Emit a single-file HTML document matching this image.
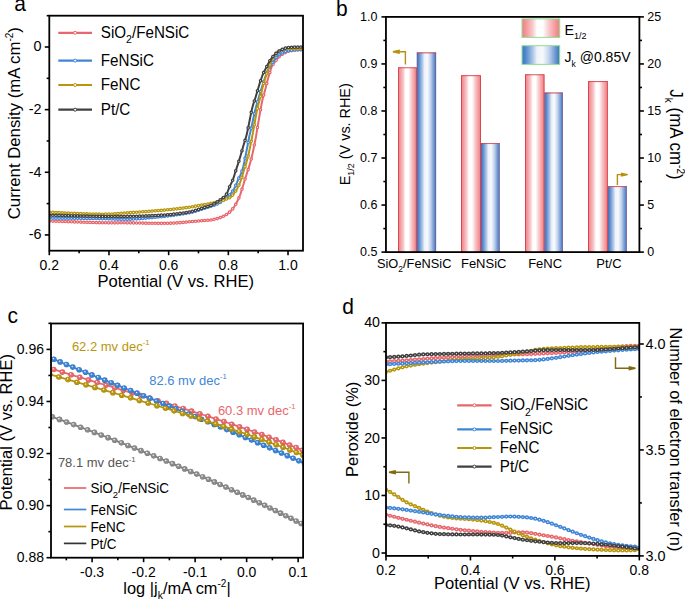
<!DOCTYPE html>
<html><head><meta charset="utf-8"><style>
html,body{margin:0;padding:0;background:#fff;}
svg{display:block;font-family:"Liberation Sans", sans-serif;}
</style></head><body>
<svg width="685" height="600" viewBox="0 0 685 600">
<rect width="685" height="600" fill="#fff"/>
<clipPath id="ca"><rect x="49.3" y="15.7" width="253.7" height="235.0"/></clipPath>
<g clip-path="url(#ca)">
<polyline points="49.75,221.00 52.32,221.09 54.93,221.18 57.59,221.27 60.28,221.37 63.00,221.46 65.73,221.56 68.46,221.66 71.19,221.76 73.92,221.85 76.62,221.95 79.29,222.04 81.92,222.14 84.50,222.22 87.03,222.31 89.49,222.39 91.88,222.46 94.18,222.53 96.39,222.59 98.50,222.65 100.50,222.70 102.38,222.74 104.15,222.77 105.81,222.80 107.38,222.82 108.86,222.83 110.27,222.83 111.61,222.84 112.90,222.84 114.13,222.83 115.33,222.82 116.51,222.82 117.66,222.81 118.81,222.80 119.96,222.79 121.11,222.78 122.29,222.78 123.50,222.78 124.75,222.78 126.04,222.79 127.40,222.80 128.80,222.82 130.23,222.84 131.69,222.86 133.16,222.89 134.66,222.92 136.16,222.95 137.67,222.98 139.18,223.01 140.69,223.04 142.19,223.08 143.69,223.11 145.17,223.14 146.63,223.17 148.07,223.20 149.49,223.22 150.87,223.24 152.21,223.26 153.52,223.28 154.78,223.29 156.00,223.30 157.17,223.30 158.31,223.31 159.41,223.31 160.48,223.31 161.52,223.30 162.53,223.30 163.52,223.29 164.48,223.29 165.43,223.28 166.35,223.26 167.26,223.25 168.15,223.23 169.03,223.21 169.90,223.19 170.76,223.16 171.61,223.14 172.46,223.11 173.31,223.07 174.15,223.04 175.00,223.00 175.84,222.96 176.66,222.91 177.46,222.86 178.24,222.80 179.01,222.75 179.77,222.68 180.51,222.62 181.25,222.55 181.98,222.48 182.70,222.41 183.42,222.34 184.13,222.27 184.85,222.19 185.57,222.12 186.29,222.05 187.01,221.98 187.74,221.90 188.49,221.83 189.24,221.77 190.00,221.70 190.78,221.63 191.59,221.57 192.41,221.50 193.25,221.43 194.11,221.36 194.97,221.29 195.83,221.22 196.70,221.15 197.56,221.08 198.42,221.01 199.26,220.94 200.10,220.88 200.91,220.81 201.70,220.75 202.47,220.68 203.21,220.62 203.92,220.56 204.58,220.51 205.21,220.45 205.80,220.40 206.34,220.35 206.82,220.32 207.27,220.28 207.67,220.26 208.04,220.23 208.38,220.22 208.70,220.20 208.99,220.18 209.26,220.17 209.53,220.15 209.78,220.13 210.04,220.11 210.29,220.08 210.55,220.05 210.82,220.02 211.11,219.97 211.42,219.92 211.75,219.86 212.11,219.78 212.50,219.70 212.92,219.61 213.36,219.51 213.82,219.40 214.29,219.29 214.78,219.17 215.27,219.05 215.78,218.92 216.29,218.79 216.81,218.65 217.32,218.51 217.85,218.36 218.37,218.20 218.88,218.04 219.39,217.88 219.90,217.71 220.40,217.54 220.88,217.36 221.35,217.18 221.81,216.99 222.25,216.80 222.68,216.60 223.10,216.40 223.52,216.20 223.93,215.99 224.34,215.77 224.74,215.55 225.13,215.33 225.52,215.10 225.90,214.86 226.28,214.63 226.65,214.38 227.02,214.13 227.38,213.88 227.74,213.62 228.09,213.36 228.43,213.10 228.77,212.83 229.10,212.56 229.43,212.28 229.75,212.00 230.06,211.72 230.37,211.43 230.67,211.14 230.96,210.85 231.24,210.55 231.51,210.25 231.78,209.95 232.05,209.64 232.31,209.33 232.56,209.01 232.81,208.69 233.06,208.36 233.31,208.03 233.55,207.69 233.79,207.34 234.03,206.99 234.27,206.63 234.52,206.26 234.76,205.88 235.00,205.50 235.24,205.11 235.49,204.70 235.73,204.29 235.97,203.86 236.21,203.43 236.45,202.98 236.69,202.53 236.93,202.08 237.16,201.62 237.39,201.16 237.62,200.69 237.84,200.22 238.07,199.75 238.28,199.28 238.50,198.81 238.71,198.34 238.91,197.87 239.11,197.41 239.31,196.95 239.50,196.50 239.68,196.05 239.86,195.59 240.04,195.14 240.21,194.68 240.37,194.21 240.53,193.75 240.69,193.29 240.84,192.83 240.99,192.37 241.14,191.91 241.28,191.45 241.43,190.99 241.57,190.54 241.70,190.09 241.84,189.64 241.97,189.20 242.10,188.77 242.24,188.34 242.37,187.92 242.50,187.50 242.62,187.11 242.74,186.74 242.84,186.41 242.94,186.10 243.02,185.81 243.11,185.52 243.19,185.25 243.27,184.98 243.35,184.70 243.43,184.42 243.51,184.12 243.61,183.81 243.70,183.47 243.81,183.10 243.93,182.70 244.06,182.26 244.21,181.77 244.37,181.24 244.55,180.65 244.75,180.00 244.97,179.29 245.21,178.53 245.48,177.71 245.76,176.85 246.05,175.94 246.36,175.00 246.68,174.02 247.01,173.02 247.35,171.99 247.69,170.94 248.03,169.87 248.38,168.79 248.72,167.71 249.06,166.62 249.39,165.54 249.72,164.46 250.04,163.39 250.34,162.34 250.63,161.31 250.90,160.30 251.16,159.29 251.42,158.27 251.68,157.23 251.93,156.17 252.18,155.11 252.42,154.04 252.66,152.96 252.90,151.89 253.13,150.82 253.36,149.76 253.58,148.70 253.80,147.66 254.01,146.64 254.21,145.63 254.41,144.65 254.60,143.70 254.79,142.77 254.97,141.88 255.14,141.02 255.30,140.20 255.45,139.43 255.59,138.72 255.71,138.06 255.83,137.45 255.93,136.87 256.03,136.33 256.11,135.81 256.20,135.30 256.27,134.82 256.35,134.33 256.42,133.85 256.50,133.36 256.58,132.85 256.66,132.33 256.74,131.77 256.84,131.19 256.94,130.57 257.05,129.90 257.17,129.18 257.30,128.40 257.45,127.56 257.60,126.65 257.77,125.69 257.94,124.68 258.12,123.63 258.31,122.54 258.50,121.43 258.70,120.30 258.89,119.16 259.09,118.01 259.29,116.86 259.49,115.72 259.69,114.60 259.88,113.50 260.07,112.43 260.25,111.40 260.43,110.42 260.59,109.48 260.75,108.61 260.90,107.80 261.04,107.05 261.17,106.34 261.30,105.67 261.42,105.03 261.53,104.42 261.64,103.85 261.75,103.30 261.85,102.78 261.95,102.28 262.05,101.80 262.15,101.34 262.24,100.89 262.33,100.45 262.42,100.02 262.52,99.60 262.61,99.18 262.70,98.77 262.80,98.35 262.90,97.93 263.00,97.50 263.10,97.08 263.20,96.68 263.30,96.30 263.40,95.94 263.50,95.59 263.59,95.25 263.69,94.93 263.78,94.61 263.88,94.29 263.98,93.98 264.07,93.67 264.17,93.36 264.27,93.04 264.37,92.72 264.47,92.38 264.57,92.04 264.67,91.68 264.78,91.31 264.89,90.91 265.00,90.50 265.11,90.07 265.23,89.61 265.35,89.15 265.47,88.67 265.59,88.18 265.71,87.67 265.84,87.16 265.96,86.64 266.09,86.12 266.22,85.59 266.35,85.06 266.48,84.54 266.61,84.01 266.73,83.48 266.86,82.96 266.99,82.45 267.12,81.95 267.25,81.45 267.37,80.97 267.50,80.50 267.63,80.04 267.75,79.58 267.88,79.12 268.01,78.66 268.14,78.21 268.27,77.76 268.39,77.31 268.52,76.87 268.65,76.43 268.78,76.00 268.91,75.57 269.04,75.15 269.16,74.73 269.29,74.32 269.41,73.91 269.53,73.52 269.65,73.13 269.77,72.74 269.89,72.37 270.00,72.00 270.11,71.64 270.22,71.29 270.32,70.94 270.42,70.60 270.52,70.27 270.62,69.94 270.72,69.62 270.81,69.30 270.91,68.99 271.00,68.69 271.09,68.39 271.19,68.10 271.28,67.82 271.38,67.54 271.48,67.27 271.58,67.00 271.68,66.74 271.78,66.49 271.89,66.24 272.00,66.00 272.11,65.77 272.23,65.55 272.34,65.34 272.46,65.15 272.58,64.96 272.70,64.78 272.82,64.61 272.94,64.44 273.06,64.28 273.19,64.12 273.31,63.97 273.44,63.82 273.57,63.66 273.70,63.51 273.83,63.35 273.96,63.19 274.09,63.03 274.23,62.86 274.36,62.68 274.50,62.50 274.64,62.31 274.78,62.12 274.92,61.92 275.06,61.72 275.20,61.52 275.35,61.31 275.49,61.11 275.64,60.90 275.79,60.70 275.94,60.49 276.09,60.28 276.24,60.07 276.39,59.87 276.55,59.66 276.70,59.46 276.86,59.26 277.02,59.07 277.18,58.87 277.34,58.68 277.50,58.50 277.66,58.32 277.82,58.14 277.97,57.97 278.12,57.80 278.27,57.63 278.42,57.47 278.57,57.31 278.72,57.14 278.87,56.98 279.03,56.82 279.19,56.67 279.36,56.51 279.53,56.35 279.71,56.19 279.90,56.03 280.10,55.87 280.31,55.70 280.53,55.54 280.76,55.37 281.00,55.20 281.26,55.02 281.53,54.84 281.81,54.65 282.11,54.46 282.41,54.27 282.73,54.07 283.05,53.87 283.38,53.67 283.72,53.47 284.06,53.28 284.41,53.08 284.76,52.89 285.11,52.70 285.46,52.52 285.80,52.35 286.15,52.18 286.50,52.02 286.84,51.87 287.17,51.73 287.50,51.60 287.82,51.48 288.14,51.37 288.46,51.27 288.77,51.18 289.08,51.10 289.39,51.02 289.70,50.95 290.00,50.88 290.31,50.82 290.62,50.76 290.94,50.71 291.26,50.66 291.58,50.61 291.90,50.57 292.23,50.52 292.57,50.48 292.92,50.44 293.27,50.39 293.63,50.35 294.00,50.30 294.38,50.25 294.77,50.21 295.17,50.17 295.57,50.14 295.98,50.10 296.40,50.07 296.83,50.04 297.26,50.01 297.69,49.98 298.12,49.96 298.56,49.93 299.00,49.91 299.45,49.88 299.89,49.86 300.33,49.83 300.77,49.81 301.21,49.78 301.64,49.76 302.07,49.73 302.50,49.70" fill="none" stroke="#e8676c" stroke-width="2.0" stroke-linejoin="round" />
<g fill="#fff" stroke="#e8676c" stroke-width="1.25"><circle cx="49.75" cy="221.00" r="1.2"/><circle cx="52.85" cy="221.11" r="1.2"/><circle cx="55.95" cy="221.21" r="1.2"/><circle cx="59.05" cy="221.32" r="1.2"/><circle cx="62.15" cy="221.43" r="1.2"/><circle cx="65.25" cy="221.54" r="1.2"/><circle cx="68.35" cy="221.65" r="1.2"/><circle cx="71.45" cy="221.77" r="1.2"/><circle cx="74.55" cy="221.88" r="1.2"/><circle cx="77.65" cy="221.99" r="1.2"/><circle cx="80.75" cy="222.09" r="1.2"/><circle cx="83.85" cy="222.20" r="1.2"/><circle cx="86.95" cy="222.30" r="1.2"/><circle cx="90.05" cy="222.41" r="1.2"/><circle cx="93.15" cy="222.50" r="1.2"/><circle cx="96.25" cy="222.59" r="1.2"/><circle cx="99.35" cy="222.67" r="1.2"/><circle cx="102.45" cy="222.74" r="1.2"/><circle cx="105.55" cy="222.79" r="1.2"/><circle cx="108.65" cy="222.83" r="1.2"/><circle cx="111.75" cy="222.84" r="1.2"/><circle cx="114.85" cy="222.83" r="1.2"/><circle cx="117.95" cy="222.81" r="1.2"/><circle cx="121.05" cy="222.78" r="1.2"/><circle cx="124.15" cy="222.78" r="1.2"/><circle cx="127.25" cy="222.80" r="1.2"/><circle cx="130.35" cy="222.84" r="1.2"/><circle cx="133.45" cy="222.89" r="1.2"/><circle cx="136.55" cy="222.95" r="1.2"/><circle cx="139.65" cy="223.02" r="1.2"/><circle cx="142.75" cy="223.09" r="1.2"/><circle cx="145.85" cy="223.15" r="1.2"/><circle cx="148.95" cy="223.21" r="1.2"/><circle cx="152.05" cy="223.26" r="1.2"/><circle cx="155.15" cy="223.29" r="1.2"/><circle cx="158.25" cy="223.31" r="1.2"/><circle cx="161.35" cy="223.31" r="1.2"/><circle cx="164.45" cy="223.29" r="1.2"/><circle cx="167.55" cy="223.24" r="1.2"/><circle cx="170.65" cy="223.17" r="1.2"/><circle cx="173.75" cy="223.06" r="1.2"/><circle cx="176.85" cy="222.90" r="1.2"/><circle cx="179.95" cy="222.67" r="1.2"/><circle cx="183.05" cy="222.38" r="1.2"/><circle cx="186.15" cy="222.06" r="1.2"/><circle cx="189.25" cy="221.77" r="1.2"/><circle cx="192.35" cy="221.50" r="1.2"/><circle cx="195.45" cy="221.25" r="1.2"/><circle cx="198.55" cy="221.00" r="1.2"/><circle cx="201.65" cy="220.75" r="1.2"/><circle cx="204.75" cy="220.49" r="1.2"/><circle cx="207.85" cy="220.25" r="1.2"/><circle cx="210.95" cy="220.00" r="1.2"/><circle cx="214.05" cy="219.35" r="1.2"/><circle cx="217.15" cy="218.55" r="1.2"/><circle cx="220.25" cy="217.59" r="1.2"/><circle cx="223.35" cy="216.28" r="1.2"/><circle cx="226.45" cy="214.51" r="1.2"/><circle cx="229.55" cy="212.17" r="1.2"/><circle cx="232.65" cy="208.90" r="1.2"/><circle cx="235.75" cy="204.25" r="1.2"/><circle cx="238.85" cy="198.02" r="1.2"/><circle cx="241.95" cy="189.28" r="1.2"/><circle cx="245.05" cy="179.04" r="1.2"/><circle cx="248.15" cy="169.51" r="1.2"/><circle cx="251.25" cy="158.95" r="1.2"/><circle cx="254.35" cy="144.95" r="1.2"/><circle cx="257.45" cy="127.53" r="1.2"/><circle cx="260.55" cy="109.73" r="1.2"/><circle cx="263.65" cy="95.05" r="1.2"/><circle cx="266.75" cy="83.42" r="1.2"/><circle cx="269.85" cy="72.48" r="1.2"/><circle cx="272.95" cy="64.43" r="1.2"/><circle cx="276.05" cy="60.33" r="1.2"/><circle cx="279.15" cy="56.71" r="1.2"/><circle cx="282.25" cy="54.37" r="1.2"/><circle cx="285.35" cy="52.58" r="1.2"/><circle cx="288.45" cy="51.28" r="1.2"/><circle cx="291.55" cy="50.62" r="1.2"/><circle cx="294.65" cy="50.22" r="1.2"/><circle cx="297.75" cy="49.98" r="1.2"/><circle cx="300.85" cy="49.80" r="1.2"/></g>
</g>
<g clip-path="url(#ca)">
<polyline points="49.75,218.10 52.32,218.12 54.93,218.15 57.59,218.17 60.28,218.20 63.00,218.22 65.73,218.24 68.46,218.27 71.19,218.29 73.92,218.31 76.62,218.34 79.29,218.36 81.92,218.39 84.50,218.41 87.03,218.44 89.49,218.46 91.88,218.49 94.18,218.51 96.39,218.54 98.50,218.57 100.50,218.60 102.38,218.63 104.15,218.67 105.81,218.72 107.38,218.77 108.86,218.83 110.27,218.88 111.61,218.94 112.90,219.00 114.13,219.06 115.33,219.11 116.51,219.16 117.66,219.21 118.81,219.25 119.96,219.29 121.11,219.32 122.29,219.34 123.50,219.34 124.75,219.34 126.04,219.33 127.40,219.30 128.80,219.26 130.23,219.20 131.69,219.14 133.16,219.06 134.66,218.97 136.16,218.88 137.67,218.78 139.18,218.67 140.69,218.55 142.19,218.43 143.69,218.31 145.17,218.18 146.63,218.05 148.07,217.93 149.49,217.80 150.87,217.67 152.21,217.55 153.52,217.43 154.78,217.31 156.00,217.20 157.17,217.09 158.31,216.98 159.41,216.88 160.48,216.77 161.52,216.66 162.53,216.55 163.52,216.45 164.48,216.34 165.43,216.23 166.35,216.12 167.26,216.01 168.15,215.90 169.03,215.79 169.90,215.68 170.76,215.57 171.61,215.45 172.46,215.34 173.31,215.23 174.15,215.11 175.00,215.00 175.85,214.89 176.68,214.77 177.51,214.66 178.33,214.54 179.14,214.43 179.94,214.31 180.72,214.20 181.50,214.08 182.27,213.97 183.03,213.85 183.78,213.73 184.52,213.61 185.24,213.49 185.96,213.37 186.66,213.25 187.35,213.12 188.03,212.99 188.70,212.87 189.36,212.73 190.00,212.60 190.62,212.46 191.23,212.33 191.80,212.19 192.36,212.05 192.91,211.91 193.43,211.77 193.95,211.63 194.45,211.49 194.95,211.34 195.44,211.19 195.92,211.04 196.41,210.89 196.89,210.74 197.38,210.59 197.88,210.43 198.38,210.27 198.89,210.10 199.41,209.94 199.95,209.77 200.50,209.60 201.07,209.42 201.66,209.24 202.26,209.06 202.88,208.86 203.50,208.67 204.13,208.47 204.77,208.27 205.41,208.07 206.05,207.86 206.69,207.66 207.32,207.45 207.95,207.25 208.57,207.04 209.18,206.84 209.78,206.64 210.36,206.44 210.93,206.25 211.48,206.06 212.00,205.88 212.50,205.70 212.98,205.53 213.43,205.37 213.87,205.22 214.29,205.07 214.69,204.93 215.08,204.80 215.46,204.66 215.82,204.53 216.18,204.40 216.53,204.27 216.88,204.13 217.22,204.00 217.55,203.85 217.89,203.70 218.23,203.55 218.57,203.38 218.92,203.20 219.27,203.02 219.63,202.81 220.00,202.60 220.38,202.37 220.76,202.13 221.14,201.89 221.52,201.63 221.91,201.37 222.30,201.10 222.68,200.82 223.07,200.53 223.46,200.24 223.84,199.95 224.23,199.65 224.61,199.34 224.99,199.03 225.36,198.72 225.73,198.40 226.10,198.08 226.46,197.76 226.81,197.44 227.16,197.12 227.50,196.80 227.84,196.48 228.17,196.16 228.50,195.84 228.82,195.51 229.14,195.19 229.46,194.86 229.77,194.53 230.08,194.20 230.39,193.86 230.69,193.52 230.99,193.18 231.28,192.82 231.57,192.47 231.86,192.10 232.14,191.73 232.42,191.35 232.70,190.97 232.97,190.57 233.24,190.16 233.50,189.75 233.76,189.32 234.01,188.89 234.26,188.44 234.50,187.98 234.73,187.52 234.96,187.05 235.19,186.57 235.41,186.08 235.63,185.59 235.84,185.09 236.06,184.59 236.27,184.08 236.48,183.58 236.70,183.07 236.91,182.55 237.12,182.04 237.34,181.53 237.56,181.02 237.78,180.51 238.00,180.00 238.23,179.50 238.45,179.01 238.68,178.52 238.91,178.04 239.15,177.57 239.38,177.09 239.61,176.62 239.84,176.14 240.08,175.66 240.31,175.17 240.54,174.68 240.76,174.17 240.99,173.65 241.22,173.11 241.44,172.56 241.66,172.00 241.87,171.41 242.09,170.80 242.30,170.16 242.50,169.50 242.70,168.81 242.90,168.09 243.09,167.35 243.28,166.58 243.47,165.80 243.66,164.99 243.84,164.17 244.02,163.33 244.20,162.48 244.38,161.62 244.56,160.76 244.73,159.89 244.91,159.01 245.08,158.14 245.25,157.27 245.42,156.40 245.59,155.53 245.76,154.68 245.93,153.83 246.10,153.00 246.27,152.17 246.44,151.31 246.61,150.44 246.79,149.57 246.96,148.68 247.13,147.79 247.30,146.89 247.47,146.00 247.64,145.11 247.81,144.22 247.97,143.35 248.13,142.50 248.29,141.65 248.45,140.83 248.60,140.03 248.75,139.26 248.89,138.52 249.03,137.81 249.17,137.14 249.30,136.50 249.42,135.92 249.53,135.39 249.64,134.92 249.73,134.49 249.82,134.10 249.91,133.75 249.99,133.41 250.06,133.10 250.14,132.80 250.21,132.51 250.29,132.21 250.37,131.91 250.45,131.59 250.53,131.25 250.62,130.88 250.72,130.48 250.82,130.04 250.94,129.55 251.06,129.00 251.20,128.40 251.35,127.74 251.50,127.02 251.67,126.26 251.84,125.45 252.02,124.61 252.20,123.74 252.39,122.84 252.59,121.92 252.78,120.99 252.98,120.04 253.19,119.08 253.39,118.13 253.60,117.17 253.80,116.23 254.01,115.29 254.21,114.38 254.41,113.49 254.61,112.62 254.81,111.79 255.00,111.00 255.19,110.24 255.37,109.50 255.55,108.78 255.74,108.08 255.92,107.40 256.09,106.73 256.27,106.07 256.45,105.42 256.63,104.77 256.81,104.13 256.99,103.49 257.17,102.86 257.36,102.22 257.55,101.57 257.74,100.92 257.93,100.27 258.13,99.60 258.33,98.91 258.54,98.22 258.75,97.50 258.97,96.76 259.19,96.01 259.43,95.24 259.66,94.46 259.91,93.66 260.15,92.86 260.40,92.04 260.66,91.23 260.91,90.41 261.17,89.59 261.42,88.78 261.68,87.97 261.93,87.17 262.18,86.38 262.43,85.61 262.67,84.84 262.91,84.10 263.15,83.38 263.38,82.68 263.60,82.00 263.82,81.34 264.04,80.69 264.25,80.04 264.47,79.41 264.68,78.78 264.89,78.16 265.10,77.55 265.31,76.96 265.51,76.38 265.71,75.81 265.91,75.25 266.10,74.71 266.29,74.18 266.48,73.67 266.66,73.18 266.84,72.71 267.01,72.25 267.18,71.81 267.34,71.40 267.50,71.00 267.65,70.63 267.79,70.29 267.93,69.97 268.06,69.68 268.18,69.42 268.30,69.17 268.41,68.94 268.52,68.73 268.62,68.53 268.73,68.34 268.83,68.16 268.93,67.99 269.03,67.82 269.13,67.65 269.23,67.49 269.34,67.32 269.45,67.15 269.56,66.98 269.68,66.79 269.80,66.60 269.93,66.40 270.05,66.21 270.18,66.03 270.31,65.85 270.44,65.68 270.57,65.51 270.70,65.34 270.84,65.17 270.97,65.00 271.11,64.84 271.24,64.67 271.38,64.50 271.52,64.33 271.66,64.16 271.79,63.98 271.93,63.80 272.07,63.61 272.22,63.41 272.36,63.21 272.50,63.00 272.64,62.78 272.78,62.55 272.92,62.31 273.06,62.07 273.21,61.81 273.35,61.56 273.49,61.29 273.63,61.03 273.77,60.76 273.92,60.49 274.07,60.23 274.21,59.96 274.36,59.69 274.52,59.43 274.67,59.18 274.83,58.93 274.99,58.68 275.16,58.45 275.33,58.22 275.50,58.00 275.68,57.79 275.86,57.58 276.04,57.38 276.23,57.19 276.42,57.00 276.61,56.81 276.81,56.62 277.00,56.44 277.20,56.27 277.41,56.09 277.61,55.92 277.82,55.76 278.02,55.59 278.23,55.43 278.44,55.27 278.65,55.11 278.86,54.96 279.08,54.80 279.29,54.65 279.50,54.50 279.71,54.35 279.93,54.20 280.16,54.06 280.38,53.91 280.61,53.77 280.84,53.63 281.08,53.49 281.31,53.36 281.55,53.22 281.78,53.09 282.02,52.97 282.25,52.84 282.48,52.72 282.71,52.61 282.93,52.50 283.16,52.39 283.37,52.28 283.59,52.18 283.80,52.09 284.00,52.00 284.19,51.92 284.38,51.84 284.55,51.77 284.72,51.70 284.88,51.64 285.03,51.59 285.18,51.54 285.33,51.49 285.48,51.45 285.62,51.41 285.78,51.37 285.93,51.33 286.09,51.29 286.26,51.25 286.44,51.21 286.62,51.18 286.82,51.14 287.03,51.09 287.26,51.05 287.50,51.00 287.75,50.95 288.02,50.90 288.29,50.85 288.58,50.80 288.87,50.74 289.17,50.69 289.47,50.64 289.79,50.59 290.11,50.53 290.44,50.48 290.77,50.43 291.11,50.38 291.46,50.33 291.81,50.28 292.16,50.23 292.52,50.18 292.89,50.13 293.26,50.09 293.63,50.04 294.00,50.00 294.38,49.96 294.77,49.92 295.17,49.88 295.57,49.84 295.98,49.80 296.40,49.77 296.83,49.73 297.26,49.70 297.69,49.66 298.12,49.63 298.56,49.60 299.00,49.57 299.45,49.53 299.89,49.50 300.33,49.47 300.77,49.44 301.21,49.40 301.64,49.37 302.07,49.33 302.50,49.30" fill="none" stroke="#3f86d6" stroke-width="2.0" stroke-linejoin="round" />
<g fill="#fff" stroke="#3f86d6" stroke-width="1.25"><circle cx="49.75" cy="218.10" r="1.2"/><circle cx="52.85" cy="218.13" r="1.2"/><circle cx="55.95" cy="218.16" r="1.2"/><circle cx="59.05" cy="218.19" r="1.2"/><circle cx="62.15" cy="218.21" r="1.2"/><circle cx="65.25" cy="218.24" r="1.2"/><circle cx="68.35" cy="218.27" r="1.2"/><circle cx="71.45" cy="218.29" r="1.2"/><circle cx="74.55" cy="218.32" r="1.2"/><circle cx="77.65" cy="218.35" r="1.2"/><circle cx="80.75" cy="218.37" r="1.2"/><circle cx="83.85" cy="218.40" r="1.2"/><circle cx="86.95" cy="218.43" r="1.2"/><circle cx="90.05" cy="218.47" r="1.2"/><circle cx="93.15" cy="218.50" r="1.2"/><circle cx="96.25" cy="218.54" r="1.2"/><circle cx="99.35" cy="218.58" r="1.2"/><circle cx="102.45" cy="218.64" r="1.2"/><circle cx="105.55" cy="218.71" r="1.2"/><circle cx="108.65" cy="218.82" r="1.2"/><circle cx="111.75" cy="218.95" r="1.2"/><circle cx="114.85" cy="219.09" r="1.2"/><circle cx="117.95" cy="219.22" r="1.2"/><circle cx="121.05" cy="219.32" r="1.2"/><circle cx="124.15" cy="219.34" r="1.2"/><circle cx="127.25" cy="219.30" r="1.2"/><circle cx="130.35" cy="219.20" r="1.2"/><circle cx="133.45" cy="219.04" r="1.2"/><circle cx="136.55" cy="218.85" r="1.2"/><circle cx="139.65" cy="218.63" r="1.2"/><circle cx="142.75" cy="218.39" r="1.2"/><circle cx="145.85" cy="218.12" r="1.2"/><circle cx="148.95" cy="217.85" r="1.2"/><circle cx="152.05" cy="217.56" r="1.2"/><circle cx="155.15" cy="217.28" r="1.2"/><circle cx="158.25" cy="216.99" r="1.2"/><circle cx="161.35" cy="216.68" r="1.2"/><circle cx="164.45" cy="216.34" r="1.2"/><circle cx="167.55" cy="215.97" r="1.2"/><circle cx="170.65" cy="215.58" r="1.2"/><circle cx="173.75" cy="215.17" r="1.2"/><circle cx="176.85" cy="214.75" r="1.2"/><circle cx="179.95" cy="214.31" r="1.2"/><circle cx="183.05" cy="213.85" r="1.2"/><circle cx="186.15" cy="213.34" r="1.2"/><circle cx="189.25" cy="212.76" r="1.2"/><circle cx="192.35" cy="212.06" r="1.2"/><circle cx="195.45" cy="211.19" r="1.2"/><circle cx="198.55" cy="210.21" r="1.2"/><circle cx="201.65" cy="209.25" r="1.2"/><circle cx="204.75" cy="208.28" r="1.2"/><circle cx="207.85" cy="207.28" r="1.2"/><circle cx="210.95" cy="206.24" r="1.2"/><circle cx="214.05" cy="205.15" r="1.2"/><circle cx="217.15" cy="204.02" r="1.2"/><circle cx="220.25" cy="202.45" r="1.2"/><circle cx="223.35" cy="200.33" r="1.2"/><circle cx="226.45" cy="197.77" r="1.2"/><circle cx="229.55" cy="194.76" r="1.2"/><circle cx="232.65" cy="191.03" r="1.2"/><circle cx="235.75" cy="185.31" r="1.2"/><circle cx="238.85" cy="178.18" r="1.2"/><circle cx="241.95" cy="171.19" r="1.2"/><circle cx="245.05" cy="158.28" r="1.2"/><circle cx="248.15" cy="142.40" r="1.2"/><circle cx="251.25" cy="128.17" r="1.2"/><circle cx="254.35" cy="113.77" r="1.2"/><circle cx="257.45" cy="101.90" r="1.2"/><circle cx="260.55" cy="91.57" r="1.2"/><circle cx="263.65" cy="81.85" r="1.2"/><circle cx="266.75" cy="72.94" r="1.2"/><circle cx="269.85" cy="66.52" r="1.2"/><circle cx="272.95" cy="62.27" r="1.2"/><circle cx="276.05" cy="57.37" r="1.2"/><circle cx="279.15" cy="54.75" r="1.2"/><circle cx="282.25" cy="52.84" r="1.2"/><circle cx="285.35" cy="51.49" r="1.2"/><circle cx="288.45" cy="50.82" r="1.2"/><circle cx="291.55" cy="50.31" r="1.2"/><circle cx="294.65" cy="49.93" r="1.2"/><circle cx="297.75" cy="49.66" r="1.2"/><circle cx="300.85" cy="49.43" r="1.2"/></g>
</g>
<g clip-path="url(#ca)">
<polyline points="49.75,212.30 52.32,212.40 54.93,212.50 57.59,212.62 60.28,212.73 63.00,212.85 65.73,212.97 68.46,213.10 71.19,213.22 73.92,213.34 76.62,213.46 79.29,213.57 81.92,213.68 84.50,213.78 87.03,213.87 89.49,213.96 91.88,214.03 94.18,214.09 96.39,214.14 98.50,214.18 100.50,214.20 102.38,214.21 104.15,214.20 105.81,214.17 107.38,214.14 108.86,214.10 110.27,214.04 111.61,213.98 112.90,213.91 114.13,213.83 115.33,213.74 116.51,213.65 117.66,213.56 118.81,213.47 119.96,213.37 121.11,213.27 122.29,213.17 123.50,213.07 124.75,212.98 126.04,212.89 127.40,212.80 128.80,212.71 130.23,212.62 131.69,212.53 133.16,212.44 134.66,212.34 136.16,212.24 137.67,212.14 139.18,212.03 140.69,211.93 142.19,211.83 143.69,211.72 145.17,211.61 146.63,211.51 148.07,211.40 149.49,211.30 150.87,211.20 152.21,211.09 153.52,210.99 154.78,210.90 156.00,210.80 157.17,210.71 158.31,210.61 159.41,210.52 160.48,210.43 161.52,210.34 162.53,210.25 163.52,210.16 164.48,210.07 165.43,209.98 166.35,209.89 167.26,209.81 168.15,209.72 169.03,209.63 169.90,209.54 170.76,209.45 171.61,209.36 172.46,209.27 173.31,209.18 174.15,209.09 175.00,209.00 175.85,208.91 176.68,208.81 177.51,208.72 178.33,208.63 179.14,208.53 179.94,208.44 180.72,208.34 181.50,208.25 182.27,208.15 183.03,208.06 183.78,207.96 184.52,207.86 185.24,207.77 185.96,207.67 186.66,207.58 187.35,207.48 188.03,207.39 188.70,207.29 189.36,207.20 190.00,207.10 190.63,207.00 191.23,206.91 191.82,206.81 192.39,206.72 192.94,206.62 193.48,206.53 194.01,206.43 194.52,206.34 195.03,206.24 195.53,206.14 196.03,206.05 196.52,205.95 197.00,205.86 197.49,205.76 197.98,205.67 198.47,205.57 198.97,205.48 199.47,205.39 199.98,205.29 200.50,205.20 201.03,205.11 201.55,205.02 202.07,204.93 202.60,204.85 203.12,204.76 203.65,204.68 204.18,204.59 204.70,204.51 205.22,204.43 205.75,204.34 206.28,204.26 206.80,204.17 207.32,204.09 207.85,204.00 208.38,203.90 208.90,203.81 209.43,203.71 209.95,203.61 210.47,203.51 211.00,203.40 211.53,203.29 212.08,203.17 212.63,203.04 213.20,202.92 213.77,202.78 214.34,202.65 214.91,202.51 215.49,202.37 216.06,202.23 216.62,202.09 217.18,201.95 217.73,201.81 218.27,201.67 218.79,201.53 219.30,201.40 219.78,201.27 220.25,201.14 220.69,201.02 221.11,200.91 221.50,200.80 221.86,200.70 222.19,200.60 222.49,200.52 222.77,200.43 223.03,200.36 223.27,200.28 223.49,200.21 223.70,200.14 223.89,200.07 224.08,200.01 224.26,199.94 224.43,199.87 224.61,199.80 224.78,199.73 224.96,199.65 225.15,199.57 225.34,199.49 225.55,199.40 225.77,199.30 226.00,199.20 226.25,199.09 226.49,198.99 226.75,198.89 227.00,198.80 227.26,198.70 227.52,198.60 227.78,198.50 228.05,198.39 228.31,198.29 228.58,198.17 228.85,198.05 229.11,197.92 229.38,197.79 229.65,197.64 229.92,197.49 230.19,197.32 230.46,197.13 230.72,196.94 230.99,196.73 231.25,196.50 231.51,196.26 231.78,196.00 232.04,195.74 232.31,195.46 232.58,195.17 232.85,194.87 233.12,194.56 233.39,194.24 233.65,193.91 233.92,193.57 234.19,193.22 234.45,192.86 234.72,192.50 234.98,192.12 235.24,191.74 235.50,191.36 235.75,190.96 236.01,190.56 236.25,190.16 236.50,189.75 236.74,189.33 236.99,188.90 237.23,188.45 237.47,188.00 237.71,187.53 237.95,187.05 238.19,186.57 238.43,186.08 238.66,185.58 238.89,185.08 239.12,184.57 239.34,184.06 239.57,183.55 239.78,183.04 240.00,182.53 240.21,182.01 240.41,181.50 240.61,181.00 240.81,180.50 241.00,180.00 241.18,179.51 241.36,179.02 241.52,178.55 241.68,178.07 241.83,177.59 241.98,177.12 242.12,176.65 242.26,176.18 242.40,175.70 242.53,175.22 242.67,174.74 242.80,174.25 242.94,173.75 243.07,173.25 243.21,172.74 243.36,172.22 243.51,171.68 243.67,171.13 243.83,170.57 244.00,170.00 244.18,169.42 244.36,168.83 244.54,168.25 244.73,167.66 244.93,167.07 245.12,166.47 245.32,165.86 245.52,165.25 245.72,164.62 245.92,163.99 246.13,163.34 246.34,162.68 246.55,162.00 246.75,161.30 246.96,160.59 247.17,159.85 247.38,159.10 247.59,158.32 247.79,157.52 248.00,156.70 248.21,155.83 248.42,154.90 248.64,153.93 248.87,152.91 249.10,151.85 249.33,150.77 249.56,149.66 249.80,148.54 250.03,147.41 250.26,146.27 250.48,145.15 250.70,144.04 250.92,142.95 251.13,141.89 251.34,140.86 251.53,139.88 251.71,138.94 251.89,138.06 252.05,137.25 252.20,136.50 252.33,135.83 252.45,135.25 252.55,134.73 252.64,134.28 252.72,133.88 252.79,133.52 252.85,133.20 252.90,132.91 252.95,132.64 252.99,132.38 253.04,132.11 253.09,131.84 253.13,131.56 253.19,131.25 253.25,130.91 253.32,130.52 253.39,130.09 253.48,129.60 253.58,129.04 253.70,128.40 253.83,127.69 253.97,126.91 254.12,126.07 254.28,125.18 254.44,124.25 254.62,123.28 254.80,122.27 254.98,121.24 255.16,120.20 255.35,119.14 255.54,118.07 255.74,117.01 255.93,115.96 256.12,114.92 256.31,113.91 256.50,112.92 256.68,111.97 256.86,111.06 257.03,110.20 257.20,109.40 257.36,108.64 257.53,107.91 257.69,107.21 257.85,106.53 258.01,105.87 258.17,105.23 258.33,104.61 258.49,104.01 258.65,103.43 258.80,102.86 258.96,102.30 259.11,101.75 259.26,101.20 259.41,100.67 259.55,100.14 259.70,99.61 259.84,99.09 259.98,98.56 260.12,98.03 260.25,97.50 260.38,96.97 260.51,96.44 260.63,95.93 260.76,95.41 260.87,94.91 260.99,94.41 261.11,93.92 261.22,93.43 261.33,92.95 261.44,92.47 261.55,92.01 261.66,91.54 261.76,91.08 261.87,90.63 261.97,90.18 262.08,89.73 262.18,89.29 262.29,88.86 262.39,88.43 262.50,88.00 262.61,87.58 262.71,87.17 262.81,86.77 262.91,86.37 263.01,85.98 263.10,85.60 263.20,85.23 263.29,84.86 263.39,84.49 263.48,84.12 263.58,83.76 263.68,83.40 263.77,83.05 263.87,82.69 263.97,82.33 264.07,81.97 264.18,81.61 264.28,81.24 264.39,80.87 264.50,80.50 264.61,80.12 264.73,79.74 264.86,79.35 264.98,78.96 265.11,78.57 265.24,78.17 265.37,77.78 265.51,77.38 265.64,76.99 265.78,76.59 265.91,76.20 266.04,75.82 266.17,75.44 266.30,75.07 266.43,74.70 266.55,74.34 266.67,73.99 266.78,73.65 266.89,73.32 267.00,73.00 267.10,72.69 267.19,72.40 267.28,72.12 267.36,71.86 267.44,71.60 267.52,71.35 267.59,71.10 267.67,70.87 267.74,70.64 267.81,70.41 267.88,70.18 267.95,69.95 268.02,69.72 268.09,69.49 268.16,69.26 268.24,69.02 268.33,68.78 268.41,68.53 268.50,68.27 268.60,68.00 268.70,67.72 268.81,67.44 268.92,67.15 269.03,66.85 269.15,66.56 269.26,66.25 269.38,65.95 269.51,65.64 269.63,65.33 269.76,65.02 269.88,64.71 270.01,64.40 270.14,64.10 270.26,63.79 270.39,63.48 270.51,63.18 270.64,62.88 270.76,62.58 270.88,62.29 271.00,62.00 271.12,61.71 271.23,61.43 271.34,61.14 271.45,60.85 271.56,60.57 271.67,60.28 271.78,59.99 271.88,59.71 271.99,59.43 272.10,59.15 272.21,58.87 272.32,58.60 272.43,58.33 272.55,58.07 272.66,57.81 272.78,57.56 272.91,57.31 273.03,57.06 273.16,56.83 273.30,56.60 273.44,56.38 273.58,56.16 273.73,55.95 273.88,55.75 274.03,55.55 274.18,55.35 274.34,55.16 274.50,54.98 274.66,54.80 274.83,54.62 274.99,54.44 275.16,54.27 275.32,54.11 275.49,53.94 275.66,53.78 275.83,53.62 276.00,53.46 276.16,53.31 276.33,53.15 276.50,53.00 276.67,52.85 276.84,52.70 277.00,52.56 277.17,52.41 277.34,52.27 277.51,52.14 277.68,52.00 277.85,51.87 278.03,51.74 278.20,51.62 278.37,51.50 278.55,51.38 278.73,51.26 278.90,51.14 279.08,51.03 279.26,50.92 279.45,50.81 279.63,50.70 279.81,50.60 280.00,50.50 280.19,50.40 280.37,50.30 280.55,50.21 280.74,50.12 280.92,50.03 281.10,49.94 281.28,49.86 281.47,49.78 281.65,49.70 281.84,49.62 282.04,49.54 282.23,49.47 282.43,49.40 282.64,49.34 282.85,49.27 283.06,49.21 283.29,49.16 283.52,49.10 283.75,49.05 284.00,49.00 284.25,48.95 284.49,48.91 284.73,48.88 284.97,48.84 285.21,48.81 285.45,48.78 285.69,48.76 285.94,48.74 286.20,48.72 286.47,48.70 286.75,48.68 287.04,48.67 287.34,48.66 287.66,48.65 288.00,48.64 288.35,48.63 288.73,48.62 289.13,48.61 289.55,48.61 290.00,48.60 290.48,48.59 290.99,48.59 291.52,48.59 292.08,48.59 292.67,48.59 293.27,48.59 293.89,48.60 294.53,48.60 295.18,48.61 295.84,48.62 296.51,48.63 297.19,48.64 297.87,48.65 298.55,48.65 299.22,48.66 299.90,48.67 300.56,48.68 301.22,48.69 301.87,48.69 302.50,48.70" fill="none" stroke="#b8960c" stroke-width="2.0" stroke-linejoin="round" />
<g fill="#fff" stroke="#b8960c" stroke-width="1.25"><circle cx="49.75" cy="212.30" r="1.2"/><circle cx="52.85" cy="212.42" r="1.2"/><circle cx="55.95" cy="212.55" r="1.2"/><circle cx="59.05" cy="212.68" r="1.2"/><circle cx="62.15" cy="212.82" r="1.2"/><circle cx="65.25" cy="212.95" r="1.2"/><circle cx="68.35" cy="213.09" r="1.2"/><circle cx="71.45" cy="213.23" r="1.2"/><circle cx="74.55" cy="213.37" r="1.2"/><circle cx="77.65" cy="213.50" r="1.2"/><circle cx="80.75" cy="213.63" r="1.2"/><circle cx="83.85" cy="213.75" r="1.2"/><circle cx="86.95" cy="213.87" r="1.2"/><circle cx="90.05" cy="213.97" r="1.2"/><circle cx="93.15" cy="214.07" r="1.2"/><circle cx="96.25" cy="214.14" r="1.2"/><circle cx="99.35" cy="214.19" r="1.2"/><circle cx="102.45" cy="214.20" r="1.2"/><circle cx="105.55" cy="214.18" r="1.2"/><circle cx="108.65" cy="214.10" r="1.2"/><circle cx="111.75" cy="213.97" r="1.2"/><circle cx="114.85" cy="213.78" r="1.2"/><circle cx="117.95" cy="213.54" r="1.2"/><circle cx="121.05" cy="213.28" r="1.2"/><circle cx="124.15" cy="213.02" r="1.2"/><circle cx="127.25" cy="212.81" r="1.2"/><circle cx="130.35" cy="212.62" r="1.2"/><circle cx="133.45" cy="212.42" r="1.2"/><circle cx="136.55" cy="212.21" r="1.2"/><circle cx="139.65" cy="212.00" r="1.2"/><circle cx="142.75" cy="211.79" r="1.2"/><circle cx="145.85" cy="211.57" r="1.2"/><circle cx="148.95" cy="211.34" r="1.2"/><circle cx="152.05" cy="211.11" r="1.2"/><circle cx="155.15" cy="210.87" r="1.2"/><circle cx="158.25" cy="210.62" r="1.2"/><circle cx="161.35" cy="210.35" r="1.2"/><circle cx="164.45" cy="210.07" r="1.2"/><circle cx="167.55" cy="209.78" r="1.2"/><circle cx="170.65" cy="209.46" r="1.2"/><circle cx="173.75" cy="209.14" r="1.2"/><circle cx="176.85" cy="208.80" r="1.2"/><circle cx="179.95" cy="208.44" r="1.2"/><circle cx="183.05" cy="208.05" r="1.2"/><circle cx="186.15" cy="207.65" r="1.2"/><circle cx="189.25" cy="207.21" r="1.2"/><circle cx="192.35" cy="206.72" r="1.2"/><circle cx="195.45" cy="206.16" r="1.2"/><circle cx="198.55" cy="205.56" r="1.2"/><circle cx="201.65" cy="205.00" r="1.2"/><circle cx="204.75" cy="204.50" r="1.2"/><circle cx="207.85" cy="204.00" r="1.2"/><circle cx="210.95" cy="203.41" r="1.2"/><circle cx="214.05" cy="202.72" r="1.2"/><circle cx="217.15" cy="201.95" r="1.2"/><circle cx="220.25" cy="201.14" r="1.2"/><circle cx="223.35" cy="200.25" r="1.2"/><circle cx="226.45" cy="199.01" r="1.2"/><circle cx="229.55" cy="197.70" r="1.2"/><circle cx="232.65" cy="195.09" r="1.2"/><circle cx="235.75" cy="190.97" r="1.2"/><circle cx="238.85" cy="185.17" r="1.2"/><circle cx="241.95" cy="177.21" r="1.2"/><circle cx="245.05" cy="166.69" r="1.2"/><circle cx="248.15" cy="156.08" r="1.2"/><circle cx="251.25" cy="141.29" r="1.2"/><circle cx="254.35" cy="124.78" r="1.2"/><circle cx="257.45" cy="108.26" r="1.2"/><circle cx="260.55" cy="96.27" r="1.2"/><circle cx="263.65" cy="83.50" r="1.2"/><circle cx="266.75" cy="73.75" r="1.2"/><circle cx="269.85" cy="64.79" r="1.2"/><circle cx="272.95" cy="57.22" r="1.2"/><circle cx="276.05" cy="53.41" r="1.2"/><circle cx="279.15" cy="50.99" r="1.2"/><circle cx="282.25" cy="49.47" r="1.2"/><circle cx="285.35" cy="48.79" r="1.2"/><circle cx="288.45" cy="48.63" r="1.2"/><circle cx="291.55" cy="48.59" r="1.2"/><circle cx="294.65" cy="48.61" r="1.2"/><circle cx="297.75" cy="48.64" r="1.2"/><circle cx="300.85" cy="48.68" r="1.2"/></g>
</g>
<g clip-path="url(#ca)">
<polyline points="49.75,215.20 52.32,215.26 54.93,215.33 57.59,215.39 60.28,215.46 63.00,215.53 65.73,215.60 68.46,215.67 71.19,215.74 73.92,215.81 76.62,215.88 79.29,215.94 81.92,216.01 84.50,216.07 87.03,216.13 89.49,216.18 91.88,216.24 94.18,216.29 96.39,216.33 98.50,216.37 100.50,216.40 102.38,216.43 104.15,216.45 105.81,216.47 107.38,216.49 108.86,216.51 110.27,216.52 111.61,216.52 112.90,216.53 114.13,216.53 115.33,216.53 116.51,216.53 117.66,216.52 118.81,216.51 119.96,216.50 121.11,216.49 122.29,216.48 123.50,216.46 124.75,216.44 126.04,216.42 127.40,216.40 128.80,216.38 130.23,216.35 131.69,216.32 133.16,216.29 134.66,216.25 136.16,216.22 137.67,216.18 139.18,216.13 140.69,216.09 142.19,216.04 143.69,216.00 145.17,215.95 146.63,215.90 148.07,215.84 149.49,215.79 150.87,215.73 152.21,215.68 153.52,215.62 154.78,215.56 156.00,215.50 157.17,215.44 158.31,215.38 159.41,215.31 160.48,215.25 161.52,215.18 162.53,215.12 163.52,215.05 164.48,214.98 165.43,214.90 166.35,214.83 167.26,214.76 168.15,214.68 169.03,214.60 169.90,214.52 170.76,214.44 171.61,214.35 172.46,214.27 173.31,214.18 174.15,214.09 175.00,214.00 175.85,213.91 176.68,213.81 177.51,213.72 178.33,213.62 179.14,213.52 179.94,213.42 180.72,213.32 181.50,213.21 182.27,213.11 183.03,213.00 183.78,212.89 184.52,212.78 185.24,212.66 185.96,212.55 186.66,212.43 187.35,212.31 188.03,212.19 188.70,212.06 189.36,211.93 190.00,211.80 190.63,211.67 191.23,211.53 191.82,211.39 192.39,211.24 192.94,211.09 193.48,210.94 194.01,210.79 194.52,210.63 195.03,210.48 195.53,210.32 196.03,210.16 196.52,210.00 197.00,209.84 197.49,209.67 197.98,209.51 198.47,209.35 198.97,209.18 199.47,209.02 199.98,208.86 200.50,208.70 201.03,208.54 201.57,208.38 202.12,208.21 202.68,208.05 203.25,207.88 203.81,207.72 204.38,207.55 204.95,207.38 205.51,207.21 206.08,207.04 206.63,206.88 207.17,206.71 207.71,206.54 208.23,206.37 208.74,206.21 209.23,206.04 209.71,205.88 210.16,205.72 210.59,205.56 211.00,205.40 211.38,205.24 211.74,205.09 212.07,204.94 212.39,204.79 212.69,204.65 212.97,204.50 213.23,204.36 213.48,204.22 213.73,204.07 213.96,203.93 214.19,203.79 214.42,203.64 214.64,203.50 214.86,203.35 215.08,203.20 215.31,203.05 215.54,202.89 215.79,202.73 216.04,202.57 216.30,202.40 216.57,202.23 216.85,202.05 217.12,201.88 217.40,201.69 217.69,201.51 217.97,201.33 218.25,201.14 218.54,200.95 218.82,200.76 219.11,200.56 219.39,200.37 219.67,200.17 219.95,199.98 220.22,199.78 220.50,199.58 220.77,199.39 221.03,199.19 221.29,198.99 221.55,198.80 221.80,198.60 222.05,198.41 222.29,198.23 222.53,198.05 222.76,197.88 223.00,197.71 223.23,197.54 223.46,197.38 223.68,197.21 223.90,197.04 224.13,196.87 224.34,196.69 224.56,196.50 224.77,196.31 224.98,196.11 225.19,195.89 225.40,195.67 225.60,195.42 225.80,195.17 226.00,194.89 226.20,194.60 226.40,194.29 226.59,193.95 226.78,193.59 226.96,193.22 227.15,192.83 227.33,192.42 227.51,192.00 227.69,191.58 227.86,191.14 228.03,190.71 228.21,190.26 228.38,189.82 228.54,189.38 228.71,188.94 228.88,188.51 229.04,188.08 229.21,187.67 229.37,187.26 229.54,186.87 229.70,186.50 229.86,186.14 230.02,185.80 230.18,185.46 230.34,185.14 230.50,184.82 230.65,184.51 230.80,184.21 230.96,183.90 231.11,183.61 231.26,183.31 231.41,183.01 231.56,182.70 231.71,182.40 231.86,182.08 232.01,181.76 232.15,181.43 232.30,181.10 232.45,180.74 232.60,180.38 232.75,180.00 232.90,179.61 233.04,179.22 233.19,178.82 233.33,178.42 233.47,178.01 233.61,177.59 233.75,177.17 233.89,176.75 234.03,176.32 234.17,175.88 234.31,175.43 234.45,174.97 234.59,174.51 234.74,174.04 234.89,173.55 235.04,173.06 235.20,172.56 235.36,172.05 235.53,171.53 235.70,171.00 235.88,170.45 236.06,169.89 236.25,169.32 236.44,168.73 236.63,168.13 236.83,167.52 237.03,166.90 237.24,166.27 237.45,165.63 237.65,164.99 237.86,164.34 238.07,163.69 238.28,163.04 238.49,162.38 238.70,161.73 238.90,161.08 239.11,160.42 239.31,159.78 239.51,159.14 239.70,158.50 239.89,157.87 240.08,157.23 240.27,156.60 240.46,155.96 240.65,155.32 240.83,154.69 241.02,154.05 241.20,153.41 241.39,152.77 241.57,152.12 241.75,151.48 241.93,150.84 242.12,150.20 242.30,149.56 242.48,148.91 242.66,148.27 242.85,147.63 243.03,146.99 243.22,146.34 243.40,145.70 243.58,145.07 243.77,144.46 243.94,143.87 244.12,143.29 244.30,142.73 244.48,142.17 244.65,141.61 244.83,141.05 245.00,140.49 245.18,139.91 245.36,139.33 245.54,138.72 245.72,138.10 245.91,137.44 246.10,136.77 246.29,136.05 246.49,135.30 246.69,134.52 246.89,133.68 247.10,132.80 247.32,131.85 247.54,130.83 247.77,129.75 248.01,128.61 248.25,127.42 248.50,126.19 248.75,124.93 249.00,123.64 249.25,122.34 249.51,121.04 249.76,119.73 250.01,118.44 250.26,117.16 250.51,115.91 250.76,114.69 251.00,113.51 251.23,112.39 251.46,111.32 251.69,110.32 251.90,109.40 252.11,108.54 252.31,107.73 252.52,106.96 252.71,106.23 252.91,105.54 253.10,104.88 253.29,104.25 253.48,103.65 253.66,103.07 253.84,102.52 254.02,101.98 254.20,101.46 254.37,100.96 254.54,100.46 254.71,99.97 254.87,99.48 255.03,98.99 255.19,98.50 255.35,98.00 255.50,97.50 255.65,97.00 255.79,96.51 255.93,96.04 256.07,95.57 256.20,95.12 256.33,94.68 256.46,94.25 256.58,93.83 256.70,93.42 256.82,93.01 256.94,92.60 257.05,92.20 257.17,91.80 257.28,91.41 257.40,91.01 257.52,90.61 257.64,90.22 257.75,89.81 257.88,89.41 258.00,89.00 258.12,88.59 258.25,88.18 258.38,87.76 258.50,87.35 258.62,86.94 258.75,86.53 258.88,86.12 259.00,85.72 259.12,85.31 259.25,84.91 259.38,84.50 259.50,84.10 259.62,83.71 259.75,83.31 259.88,82.92 260.00,82.53 260.12,82.14 260.25,81.76 260.38,81.38 260.50,81.00 260.62,80.63 260.75,80.25 260.87,79.89 260.99,79.52 261.11,79.16 261.23,78.80 261.36,78.44 261.48,78.08 261.60,77.73 261.72,77.38 261.84,77.03 261.96,76.68 262.09,76.34 262.21,76.00 262.34,75.66 262.47,75.32 262.60,74.99 262.73,74.66 262.86,74.33 263.00,74.00 263.14,73.68 263.28,73.37 263.41,73.06 263.55,72.76 263.69,72.46 263.83,72.17 263.97,71.89 264.12,71.60 264.26,71.32 264.41,71.03 264.55,70.75 264.70,70.46 264.86,70.17 265.01,69.88 265.17,69.58 265.33,69.28 265.49,68.97 265.66,68.66 265.83,68.33 266.00,68.00 266.18,67.65 266.36,67.30 266.56,66.92 266.75,66.54 266.95,66.15 267.16,65.75 267.37,65.35 267.58,64.94 267.79,64.53 268.00,64.12 268.21,63.72 268.42,63.32 268.63,62.93 268.84,62.54 269.05,62.16 269.25,61.80 269.44,61.45 269.64,61.11 269.82,60.80 270.00,60.50 270.17,60.22 270.34,59.96 270.50,59.71 270.66,59.47 270.81,59.24 270.96,59.03 271.10,58.82 271.25,58.62 271.39,58.43 271.53,58.25 271.67,58.07 271.81,57.90 271.95,57.72 272.09,57.55 272.24,57.38 272.38,57.21 272.53,57.04 272.68,56.86 272.84,56.68 273.00,56.50 273.16,56.31 273.33,56.13 273.50,55.94 273.67,55.75 273.84,55.57 274.01,55.38 274.19,55.20 274.36,55.02 274.54,54.84 274.72,54.66 274.90,54.48 275.08,54.30 275.26,54.13 275.43,53.96 275.61,53.79 275.79,53.63 275.97,53.47 276.15,53.31 276.32,53.15 276.50,53.00 276.67,52.85 276.85,52.71 277.02,52.56 277.19,52.42 277.36,52.29 277.53,52.15 277.71,52.02 277.88,51.89 278.05,51.77 278.22,51.64 278.39,51.52 278.56,51.40 278.74,51.28 278.91,51.16 279.09,51.05 279.27,50.94 279.45,50.82 279.63,50.72 279.81,50.61 280.00,50.50 280.19,50.39 280.38,50.29 280.58,50.19 280.78,50.09 280.98,50.00 281.18,49.90 281.38,49.81 281.59,49.72 281.79,49.63 282.00,49.54 282.21,49.45 282.41,49.37 282.62,49.29 282.82,49.21 283.02,49.13 283.22,49.05 283.42,48.97 283.62,48.90 283.81,48.82 284.00,48.75 284.18,48.68 284.36,48.61 284.52,48.54 284.68,48.47 284.84,48.40 284.99,48.34 285.14,48.27 285.29,48.21 285.44,48.15 285.59,48.09 285.75,48.03 285.91,47.98 286.07,47.92 286.25,47.87 286.43,47.82 286.62,47.77 286.82,47.73 287.03,47.68 287.26,47.64 287.50,47.60 287.75,47.56 288.02,47.53 288.29,47.50 288.58,47.47 288.87,47.44 289.17,47.42 289.47,47.39 289.79,47.37 290.11,47.35 290.44,47.33 290.77,47.32 291.11,47.30 291.46,47.29 291.81,47.27 292.16,47.26 292.52,47.25 292.89,47.24 293.26,47.22 293.63,47.21 294.00,47.20 294.38,47.19 294.77,47.18 295.17,47.17 295.57,47.16 295.98,47.15 296.40,47.15 296.83,47.14 297.26,47.14 297.69,47.13 298.12,47.13 298.56,47.13 299.00,47.13 299.45,47.12 299.89,47.12 300.33,47.12 300.77,47.12 301.21,47.11 301.64,47.11 302.07,47.10 302.50,47.10" fill="none" stroke="#404040" stroke-width="2.0" stroke-linejoin="round" />
<g fill="#fff" stroke="#404040" stroke-width="1.25"><circle cx="49.75" cy="215.20" r="1.2"/><circle cx="52.85" cy="215.27" r="1.2"/><circle cx="55.95" cy="215.35" r="1.2"/><circle cx="59.05" cy="215.43" r="1.2"/><circle cx="62.15" cy="215.51" r="1.2"/><circle cx="65.25" cy="215.59" r="1.2"/><circle cx="68.35" cy="215.66" r="1.2"/><circle cx="71.45" cy="215.74" r="1.2"/><circle cx="74.55" cy="215.82" r="1.2"/><circle cx="77.65" cy="215.90" r="1.2"/><circle cx="80.75" cy="215.98" r="1.2"/><circle cx="83.85" cy="216.05" r="1.2"/><circle cx="86.95" cy="216.13" r="1.2"/><circle cx="90.05" cy="216.20" r="1.2"/><circle cx="93.15" cy="216.26" r="1.2"/><circle cx="96.25" cy="216.33" r="1.2"/><circle cx="99.35" cy="216.38" r="1.2"/><circle cx="102.45" cy="216.43" r="1.2"/><circle cx="105.55" cy="216.47" r="1.2"/><circle cx="108.65" cy="216.50" r="1.2"/><circle cx="111.75" cy="216.53" r="1.2"/><circle cx="114.85" cy="216.53" r="1.2"/><circle cx="117.95" cy="216.52" r="1.2"/><circle cx="121.05" cy="216.49" r="1.2"/><circle cx="124.15" cy="216.45" r="1.2"/><circle cx="127.25" cy="216.40" r="1.2"/><circle cx="130.35" cy="216.35" r="1.2"/><circle cx="133.45" cy="216.28" r="1.2"/><circle cx="136.55" cy="216.20" r="1.2"/><circle cx="139.65" cy="216.12" r="1.2"/><circle cx="142.75" cy="216.03" r="1.2"/><circle cx="145.85" cy="215.92" r="1.2"/><circle cx="148.95" cy="215.81" r="1.2"/><circle cx="152.05" cy="215.68" r="1.2"/><circle cx="155.15" cy="215.54" r="1.2"/><circle cx="158.25" cy="215.38" r="1.2"/><circle cx="161.35" cy="215.19" r="1.2"/><circle cx="164.45" cy="214.98" r="1.2"/><circle cx="167.55" cy="214.73" r="1.2"/><circle cx="170.65" cy="214.45" r="1.2"/><circle cx="173.75" cy="214.13" r="1.2"/><circle cx="176.85" cy="213.79" r="1.2"/><circle cx="179.95" cy="213.42" r="1.2"/><circle cx="183.05" cy="213.00" r="1.2"/><circle cx="186.15" cy="212.52" r="1.2"/><circle cx="189.25" cy="211.95" r="1.2"/><circle cx="192.35" cy="211.25" r="1.2"/><circle cx="195.45" cy="210.34" r="1.2"/><circle cx="198.55" cy="209.32" r="1.2"/><circle cx="201.65" cy="208.35" r="1.2"/><circle cx="204.75" cy="207.44" r="1.2"/><circle cx="207.85" cy="206.50" r="1.2"/><circle cx="210.95" cy="205.42" r="1.2"/><circle cx="214.05" cy="203.88" r="1.2"/><circle cx="217.15" cy="201.86" r="1.2"/><circle cx="220.25" cy="199.76" r="1.2"/><circle cx="223.35" cy="197.46" r="1.2"/><circle cx="226.45" cy="194.19" r="1.2"/><circle cx="229.55" cy="186.84" r="1.2"/><circle cx="232.65" cy="180.25" r="1.2"/><circle cx="235.75" cy="170.85" r="1.2"/><circle cx="238.85" cy="161.24" r="1.2"/><circle cx="241.95" cy="150.79" r="1.2"/><circle cx="245.05" cy="140.34" r="1.2"/><circle cx="248.15" cy="127.91" r="1.2"/><circle cx="251.25" cy="112.32" r="1.2"/><circle cx="254.35" cy="101.01" r="1.2"/><circle cx="257.45" cy="90.84" r="1.2"/><circle cx="260.55" cy="80.85" r="1.2"/><circle cx="263.65" cy="72.55" r="1.2"/><circle cx="266.75" cy="66.54" r="1.2"/><circle cx="269.85" cy="60.75" r="1.2"/><circle cx="272.95" cy="56.56" r="1.2"/><circle cx="276.05" cy="53.39" r="1.2"/><circle cx="279.15" cy="51.01" r="1.2"/><circle cx="282.25" cy="49.44" r="1.2"/><circle cx="285.35" cy="48.19" r="1.2"/><circle cx="288.45" cy="47.48" r="1.2"/><circle cx="291.55" cy="47.28" r="1.2"/><circle cx="294.65" cy="47.18" r="1.2"/><circle cx="297.75" cy="47.13" r="1.2"/><circle cx="300.85" cy="47.11" r="1.2"/></g>
</g>
<rect x="49.3" y="15.7" width="253.7" height="235.0" fill="none" stroke="#000" stroke-width="1.8"/>
<line x1="44.80" y1="47.00" x2="49.30" y2="47.00" stroke="#000" stroke-width="1.6" />
<text x="41.60" y="51.30" font-size="14.4" text-anchor="end" fill="#000" transform="translate(41.60 51.30) scale(1 1.035) translate(-41.60 -51.30)" >0</text>
<line x1="44.80" y1="109.64" x2="49.30" y2="109.64" stroke="#000" stroke-width="1.6" />
<text x="41.60" y="113.94" font-size="14.4" text-anchor="end" fill="#000" transform="translate(41.60 113.94) scale(1 1.035) translate(-41.60 -113.94)" >-2</text>
<line x1="44.80" y1="172.28" x2="49.30" y2="172.28" stroke="#000" stroke-width="1.6" />
<text x="41.60" y="176.58" font-size="14.4" text-anchor="end" fill="#000" transform="translate(41.60 176.58) scale(1 1.035) translate(-41.60 -176.58)" >-4</text>
<line x1="44.80" y1="234.92" x2="49.30" y2="234.92" stroke="#000" stroke-width="1.6" />
<text x="41.60" y="239.22" font-size="14.4" text-anchor="end" fill="#000" transform="translate(41.60 239.22) scale(1 1.035) translate(-41.60 -239.22)" >-6</text>
<line x1="46.70" y1="15.68" x2="49.30" y2="15.68" stroke="#000" stroke-width="1.6" />
<line x1="46.70" y1="78.32" x2="49.30" y2="78.32" stroke="#000" stroke-width="1.6" />
<line x1="46.70" y1="140.96" x2="49.30" y2="140.96" stroke="#000" stroke-width="1.6" />
<line x1="46.70" y1="203.60" x2="49.30" y2="203.60" stroke="#000" stroke-width="1.6" />
<line x1="49.30" y1="250.70" x2="49.30" y2="255.20" stroke="#000" stroke-width="1.6" />
<text x="49.30" y="269.60" font-size="14" text-anchor="middle" fill="#000" transform="translate(49.30 269.60) scale(1 1.035) translate(-49.30 -269.60)" >0.2</text>
<line x1="108.98" y1="250.70" x2="108.98" y2="255.20" stroke="#000" stroke-width="1.6" />
<text x="108.98" y="269.60" font-size="14" text-anchor="middle" fill="#000" transform="translate(108.98 269.60) scale(1 1.035) translate(-108.98 -269.60)" >0.4</text>
<line x1="168.66" y1="250.70" x2="168.66" y2="255.20" stroke="#000" stroke-width="1.6" />
<text x="168.66" y="269.60" font-size="14" text-anchor="middle" fill="#000" transform="translate(168.66 269.60) scale(1 1.035) translate(-168.66 -269.60)" >0.6</text>
<line x1="228.34" y1="250.70" x2="228.34" y2="255.20" stroke="#000" stroke-width="1.6" />
<text x="228.34" y="269.60" font-size="14" text-anchor="middle" fill="#000" transform="translate(228.34 269.60) scale(1 1.035) translate(-228.34 -269.60)" >0.8</text>
<line x1="288.02" y1="250.70" x2="288.02" y2="255.20" stroke="#000" stroke-width="1.6" />
<text x="288.02" y="269.60" font-size="14" text-anchor="middle" fill="#000" transform="translate(288.02 269.60) scale(1 1.035) translate(-288.02 -269.60)" >1.0</text>
<line x1="79.14" y1="250.70" x2="79.14" y2="253.30" stroke="#000" stroke-width="1.6" />
<line x1="138.82" y1="250.70" x2="138.82" y2="253.30" stroke="#000" stroke-width="1.6" />
<line x1="198.50" y1="250.70" x2="198.50" y2="253.30" stroke="#000" stroke-width="1.6" />
<line x1="258.18" y1="250.70" x2="258.18" y2="253.30" stroke="#000" stroke-width="1.6" />
<text x="175.80" y="287.10" font-size="16.6" text-anchor="middle" fill="#000" transform="translate(175.80 287.10) scale(1 1.035) translate(-175.80 -287.10)" >Potential (V vs. RHE)</text>
<text x="20.00" y="123.20" font-size="16.75" text-anchor="middle" fill="#000" transform="rotate(-90 20.00 123.20) translate(20.00 123.20) scale(1 1.035) translate(-20.00 -123.20)" >Current Density (mA cm<tspan font-size="10" dy="-7">-2</tspan><tspan dy="7">)</tspan></text>
<line x1="58.30" y1="32.80" x2="92.00" y2="32.80" stroke="#e8676c" stroke-width="2.2" />
<circle cx="75.15" cy="32.80" r="1.5" fill="#fff" stroke="#e8676c" stroke-width="1"/>
<line x1="58.30" y1="60.60" x2="92.00" y2="60.60" stroke="#3f86d6" stroke-width="2.2" />
<circle cx="75.15" cy="60.60" r="1.5" fill="#fff" stroke="#3f86d6" stroke-width="1"/>
<line x1="58.30" y1="85.00" x2="92.00" y2="85.00" stroke="#b8960c" stroke-width="2.2" />
<circle cx="75.15" cy="85.00" r="1.5" fill="#fff" stroke="#b8960c" stroke-width="1"/>
<line x1="58.30" y1="109.70" x2="92.00" y2="109.70" stroke="#404040" stroke-width="2.2" />
<circle cx="75.15" cy="109.70" r="1.5" fill="#fff" stroke="#404040" stroke-width="1"/>
<text x="100.80" y="37.70" font-size="15.2" text-anchor="start" fill="#000" transform="translate(100.80 37.70) scale(1 1.035) translate(-100.80 -37.70)" >SiO<tspan font-size="10.5" dy="5.2">2</tspan><tspan dy="-5.2">/FeNSiC</tspan></text>
<text x="100.80" y="65.80" font-size="15.2" text-anchor="start" fill="#000" transform="translate(100.80 65.80) scale(1 1.035) translate(-100.80 -65.80)" >FeNSiC</text>
<text x="100.80" y="90.40" font-size="15.2" text-anchor="start" fill="#000" transform="translate(100.80 90.40) scale(1 1.035) translate(-100.80 -90.40)" >FeNC</text>
<text x="100.80" y="115.10" font-size="15.2" text-anchor="start" fill="#000" transform="translate(100.80 115.10) scale(1 1.035) translate(-100.80 -115.10)" >Pt/C</text>
<text x="14.20" y="10.80" font-size="21" text-anchor="start" fill="#000" transform="translate(14.20 10.80) scale(1 1.035) translate(-14.20 -10.80)" >a</text>
<defs>
<linearGradient id="gr" x1="0" x2="1" y1="0" y2="0"><stop offset="0" stop-color="#ee8084"/><stop offset="0.1" stop-color="#f29599"/><stop offset="0.28" stop-color="#f8c8ca"/><stop offset="0.4" stop-color="#ffffff"/><stop offset="0.55" stop-color="#ffffff"/><stop offset="0.72" stop-color="#f8c6c8"/><stop offset="0.9" stop-color="#f19498"/><stop offset="1" stop-color="#ee8084"/></linearGradient>
<linearGradient id="gb" x1="0" x2="1" y1="0" y2="0"><stop offset="0" stop-color="#3a76c4"/><stop offset="0.1" stop-color="#5289cd"/><stop offset="0.28" stop-color="#aac3e6"/><stop offset="0.4" stop-color="#eef3fa"/><stop offset="0.55" stop-color="#f7f9fc"/><stop offset="0.72" stop-color="#c0d1ec"/><stop offset="0.9" stop-color="#6792cf"/><stop offset="1" stop-color="#3d74bf"/></linearGradient>
</defs>
<rect x="398.10" y="67.30" width="18.70" height="184.80" fill="url(#gr)"/>
<rect x="416.80" y="52.50" width="19.30" height="199.60" fill="url(#gb)"/>
<rect x="398.55" y="67.80" width="17.80" height="184.80" fill="none" stroke="#d8404a" stroke-width="0.9"/>
<rect x="417.10" y="52.80" width="18.70" height="199.60" fill="none" stroke="#b03a5a" stroke-opacity="0.6" stroke-width="0.6"/>
<line x1="416.80" y1="52.90" x2="436.10" y2="52.90" stroke="#d8404a" stroke-width="0.9" stroke-opacity="0.8"/>
<rect x="461.00" y="75.20" width="19.90" height="176.90" fill="url(#gr)"/>
<rect x="480.90" y="143.15" width="18.80" height="108.95" fill="url(#gb)"/>
<rect x="461.45" y="75.70" width="19.00" height="176.90" fill="none" stroke="#d8404a" stroke-width="0.9"/>
<rect x="481.20" y="143.45" width="18.20" height="108.95" fill="none" stroke="#b03a5a" stroke-opacity="0.6" stroke-width="0.6"/>
<line x1="480.90" y1="143.55" x2="499.70" y2="143.55" stroke="#d8404a" stroke-width="0.9" stroke-opacity="0.8"/>
<rect x="525.00" y="74.30" width="19.45" height="177.80" fill="url(#gr)"/>
<rect x="544.45" y="92.60" width="18.45" height="159.50" fill="url(#gb)"/>
<rect x="525.45" y="74.80" width="18.55" height="177.80" fill="none" stroke="#d8404a" stroke-width="0.9"/>
<rect x="544.75" y="92.90" width="17.85" height="159.50" fill="none" stroke="#b03a5a" stroke-opacity="0.6" stroke-width="0.6"/>
<line x1="544.45" y1="93.00" x2="562.90" y2="93.00" stroke="#d8404a" stroke-width="0.9" stroke-opacity="0.8"/>
<rect x="588.00" y="81.10" width="19.80" height="171.00" fill="url(#gr)"/>
<rect x="607.80" y="186.20" width="19.00" height="65.90" fill="url(#gb)"/>
<rect x="588.45" y="81.60" width="18.90" height="171.00" fill="none" stroke="#d8404a" stroke-width="0.9"/>
<rect x="608.10" y="186.50" width="18.40" height="65.90" fill="none" stroke="#b03a5a" stroke-opacity="0.6" stroke-width="0.6"/>
<line x1="607.80" y1="186.60" x2="626.80" y2="186.60" stroke="#d8404a" stroke-width="0.9" stroke-opacity="0.8"/>
<rect x="385.95" y="16.9" width="253.45" height="235.2" fill="none" stroke="#000" stroke-width="1.8"/>
<line x1="381.45" y1="252.10" x2="385.95" y2="252.10" stroke="#000" stroke-width="1.6" />
<text x="377.50" y="256.40" font-size="12.5" text-anchor="end" fill="#000" transform="translate(377.50 256.40) scale(1 1.035) translate(-377.50 -256.40)" >0.5</text>
<line x1="381.45" y1="205.06" x2="385.95" y2="205.06" stroke="#000" stroke-width="1.6" />
<text x="377.50" y="209.36" font-size="12.5" text-anchor="end" fill="#000" transform="translate(377.50 209.36) scale(1 1.035) translate(-377.50 -209.36)" >0.6</text>
<line x1="381.45" y1="158.02" x2="385.95" y2="158.02" stroke="#000" stroke-width="1.6" />
<text x="377.50" y="162.32" font-size="12.5" text-anchor="end" fill="#000" transform="translate(377.50 162.32) scale(1 1.035) translate(-377.50 -162.32)" >0.7</text>
<line x1="381.45" y1="110.98" x2="385.95" y2="110.98" stroke="#000" stroke-width="1.6" />
<text x="377.50" y="115.28" font-size="12.5" text-anchor="end" fill="#000" transform="translate(377.50 115.28) scale(1 1.035) translate(-377.50 -115.28)" >0.8</text>
<line x1="381.45" y1="63.94" x2="385.95" y2="63.94" stroke="#000" stroke-width="1.6" />
<text x="377.50" y="68.24" font-size="12.5" text-anchor="end" fill="#000" transform="translate(377.50 68.24) scale(1 1.035) translate(-377.50 -68.24)" >0.9</text>
<line x1="381.45" y1="16.90" x2="385.95" y2="16.90" stroke="#000" stroke-width="1.6" />
<text x="377.50" y="21.20" font-size="12.5" text-anchor="end" fill="#000" transform="translate(377.50 21.20) scale(1 1.035) translate(-377.50 -21.20)" >1.0</text>
<line x1="383.35" y1="228.58" x2="385.95" y2="228.58" stroke="#000" stroke-width="1.6" />
<line x1="383.35" y1="181.54" x2="385.95" y2="181.54" stroke="#000" stroke-width="1.6" />
<line x1="383.35" y1="134.50" x2="385.95" y2="134.50" stroke="#000" stroke-width="1.6" />
<line x1="383.35" y1="87.46" x2="385.95" y2="87.46" stroke="#000" stroke-width="1.6" />
<line x1="383.35" y1="40.42" x2="385.95" y2="40.42" stroke="#000" stroke-width="1.6" />
<line x1="639.40" y1="252.10" x2="643.90" y2="252.10" stroke="#000" stroke-width="1.6" />
<text x="647.30" y="256.10" font-size="12.5" text-anchor="start" fill="#000" transform="translate(647.30 256.10) scale(1 1.035) translate(-647.30 -256.10)" >0</text>
<line x1="639.40" y1="205.06" x2="643.90" y2="205.06" stroke="#000" stroke-width="1.6" />
<text x="647.30" y="209.06" font-size="12.5" text-anchor="start" fill="#000" transform="translate(647.30 209.06) scale(1 1.035) translate(-647.30 -209.06)" >5</text>
<line x1="639.40" y1="158.02" x2="643.90" y2="158.02" stroke="#000" stroke-width="1.6" />
<text x="647.30" y="162.02" font-size="12.5" text-anchor="start" fill="#000" transform="translate(647.30 162.02) scale(1 1.035) translate(-647.30 -162.02)" >10</text>
<line x1="639.40" y1="110.98" x2="643.90" y2="110.98" stroke="#000" stroke-width="1.6" />
<text x="647.30" y="114.98" font-size="12.5" text-anchor="start" fill="#000" transform="translate(647.30 114.98) scale(1 1.035) translate(-647.30 -114.98)" >15</text>
<line x1="639.40" y1="63.94" x2="643.90" y2="63.94" stroke="#000" stroke-width="1.6" />
<text x="647.30" y="67.94" font-size="12.5" text-anchor="start" fill="#000" transform="translate(647.30 67.94) scale(1 1.035) translate(-647.30 -67.94)" >20</text>
<line x1="639.40" y1="16.90" x2="643.90" y2="16.90" stroke="#000" stroke-width="1.6" />
<text x="647.30" y="20.90" font-size="12.5" text-anchor="start" fill="#000" transform="translate(647.30 20.90) scale(1 1.035) translate(-647.30 -20.90)" >25</text>
<line x1="639.40" y1="228.58" x2="642.00" y2="228.58" stroke="#000" stroke-width="1.6" />
<line x1="639.40" y1="181.54" x2="642.00" y2="181.54" stroke="#000" stroke-width="1.6" />
<line x1="639.40" y1="134.50" x2="642.00" y2="134.50" stroke="#000" stroke-width="1.6" />
<line x1="639.40" y1="87.46" x2="642.00" y2="87.46" stroke="#000" stroke-width="1.6" />
<line x1="639.40" y1="40.42" x2="642.00" y2="40.42" stroke="#000" stroke-width="1.6" />
<text x="377.00" y="268.00" font-size="12.8" text-anchor="start" fill="#000" transform="translate(377.00 268.00) scale(1 1.035) translate(-377.00 -268.00)" >SiO<tspan font-size="8.5" dy="4">2</tspan><tspan dy="-4">/FeNSiC</tspan></text>
<text x="483.70" y="268.00" font-size="13" text-anchor="middle" fill="#000" transform="translate(483.70 268.00) scale(1 1.035) translate(-483.70 -268.00)" >FeNSiC</text>
<text x="545.15" y="268.00" font-size="13" text-anchor="middle" fill="#000" transform="translate(545.15 268.00) scale(1 1.035) translate(-545.15 -268.00)" >FeNC</text>
<text x="608.90" y="268.00" font-size="13" text-anchor="middle" fill="#000" transform="translate(608.90 268.00) scale(1 1.035) translate(-608.90 -268.00)" >Pt/C</text>
<rect x="522" y="18.9" width="37.7" height="18.5" fill="url(#gr)" stroke="#8fe08f" stroke-width="1"/>
<rect x="522" y="45.7" width="37.7" height="18.7" fill="url(#gb)" stroke="#8fe08f" stroke-width="1"/>
<text x="564.40" y="34.60" font-size="14.3" text-anchor="start" fill="#000" transform="translate(564.40 34.60) scale(1 1.035) translate(-564.40 -34.60)" >E<tspan font-size="9" dy="4.6">1/2</tspan></text>
<text x="564.60" y="62.00" font-size="14" text-anchor="start" fill="#000" transform="translate(564.60 62.00) scale(1 1.035) translate(-564.60 -62.00)" >J<tspan font-size="8.5" dy="5">k</tspan><tspan dy="-5"> @0.85V</tspan></text>
<text x="350.00" y="134.25" font-size="14.4" text-anchor="middle" fill="#000" transform="rotate(-90 350.00 134.25) translate(350.00 134.25) scale(1 1.035) translate(-350.00 -134.25)" >E<tspan font-size="9" dy="4.3">1/2</tspan><tspan dy="-4.3"> (V vs. RHE)</tspan></text>
<text x="669.50" y="134.45" font-size="17.0" text-anchor="middle" fill="#000" transform="rotate(90 669.50 134.45) translate(669.50 134.45) scale(1 1.035) translate(-669.50 -134.45)" >J<tspan font-size="10" dy="4.5">k</tspan><tspan dy="-4.5"> (mA cm</tspan><tspan font-size="10" dy="-7">-2</tspan><tspan dy="7">)</tspan></text>
<polyline points="405.40,64.40 405.40,51.70 398.75,51.70" fill="none" stroke="#b4920e" stroke-width="1.4" stroke-linejoin="miter"/>
<polygon points="392.80,51.00 399.80,49.50 399.80,53.90 392.80,52.40" fill="#b4920e"/>
<polyline points="617.40,185.00 617.40,174.60 621.85,174.60" fill="none" stroke="#b4920e" stroke-width="1.4" stroke-linejoin="miter"/>
<polygon points="627.80,173.90 620.80,172.40 620.80,176.80 627.80,175.30" fill="#b4920e"/>
<text x="336.00" y="16.40" font-size="21" text-anchor="start" fill="#000" transform="translate(336.00 16.40) scale(1 1.035) translate(-336.00 -16.40)" >b</text>
<clipPath id="cc"><rect x="51.0" y="323.5" width="252.10000000000002" height="234.20000000000005"/></clipPath>
<defs>
<radialGradient id="sr" cx="0.5" cy="0.5" r="0.5" fx="0.38" fy="0.34"><stop offset="0" stop-color="#ffffff"/><stop offset="0.08" stop-color="#ffffff" stop-opacity="0.95"/><stop offset="0.2" stop-color="#f4b4b6"/><stop offset="0.42" stop-color="#e6676c"/><stop offset="0.8" stop-color="#e6676c"/><stop offset="1" stop-color="#d0555a"/></radialGradient>
<radialGradient id="sb" cx="0.5" cy="0.5" r="0.5" fx="0.38" fy="0.34"><stop offset="0" stop-color="#ffffff"/><stop offset="0.08" stop-color="#ffffff" stop-opacity="0.95"/><stop offset="0.2" stop-color="#9cc4ec"/><stop offset="0.42" stop-color="#3a82d2"/><stop offset="0.8" stop-color="#3a82d2"/><stop offset="1" stop-color="#2e6db8"/></radialGradient>
<radialGradient id="sy" cx="0.5" cy="0.5" r="0.5" fx="0.38" fy="0.34"><stop offset="0" stop-color="#ffffff"/><stop offset="0.08" stop-color="#ffffff" stop-opacity="0.95"/><stop offset="0.2" stop-color="#e0cc7c"/><stop offset="0.42" stop-color="#b8960c"/><stop offset="0.8" stop-color="#b8960c"/><stop offset="1" stop-color="#9a7c08"/></radialGradient>
<radialGradient id="sk" cx="0.5" cy="0.5" r="0.5" fx="0.38" fy="0.34"><stop offset="0" stop-color="#ffffff"/><stop offset="0.08" stop-color="#ffffff" stop-opacity="0.95"/><stop offset="0.2" stop-color="#cfcfcf"/><stop offset="0.42" stop-color="#8a8a8a"/><stop offset="0.8" stop-color="#8a8a8a"/><stop offset="1" stop-color="#747474"/></radialGradient>
</defs>
<g clip-path="url(#cc)">
<polyline points="22.92,406.38 24.72,407.01 26.51,407.64 28.30,408.27 30.09,408.90 31.87,409.52 33.65,410.15 35.43,410.78 37.20,411.41 38.97,412.04 40.73,412.67 42.49,413.29 44.25,413.92 46.00,414.55 47.75,415.18 49.50,415.81 51.24,416.43 52.98,417.06 54.72,417.69 56.45,418.32 58.18,418.95 59.90,419.57 61.62,420.20 63.34,420.83 65.06,421.46 66.77,422.09 68.47,422.71 70.18,423.34 71.88,423.97 73.57,424.60 75.27,425.23 76.96,425.86 78.64,426.48 80.32,427.11 82.00,427.74 83.68,428.37 85.35,429.00 87.02,429.62 88.68,430.25 90.34,430.88 92.00,431.51 93.66,432.14 95.31,432.76 96.95,433.39 98.60,434.02 100.24,434.65 101.88,435.28 103.51,435.90 105.14,436.53 106.77,437.16 108.39,437.79 110.01,438.42 111.63,439.05 113.24,439.67 114.85,440.30 116.46,440.93 118.06,441.56 119.66,442.19 121.26,442.81 122.85,443.44 124.44,444.07 126.03,444.70 127.61,445.33 129.19,445.95 130.77,446.58 132.34,447.21 133.91,447.84 135.48,448.47 137.04,449.09 138.61,449.72 140.16,450.35 141.72,450.98 143.27,451.61 144.81,452.24 146.36,452.86 147.90,453.49 149.44,454.12 150.97,454.75 152.50,455.38 154.03,456.00 155.56,456.63 157.08,457.26 158.60,457.89 160.11,458.52 161.62,459.14 163.13,459.77 164.64,460.40 166.14,461.03 167.64,461.66 169.14,462.28 170.63,462.91 172.12,463.54 173.61,464.17 175.09,464.80 176.57,465.43 178.05,466.05 179.53,466.68 181.00,467.31 182.47,467.94 183.93,468.57 185.40,469.19 186.86,469.82 188.31,470.45 189.77,471.08 191.22,471.71 192.66,472.33 194.11,472.96 195.55,473.59 196.99,474.22 198.42,474.85 199.85,475.48 201.28,476.10 202.71,476.73 204.13,477.36 205.55,477.99 206.97,478.62 208.39,479.24 209.80,479.87 211.21,480.50 212.61,481.13 214.01,481.76 215.41,482.38 216.81,483.01 218.21,483.64 219.60,484.27 220.99,484.90 222.37,485.52 223.75,486.15 225.13,486.78 226.51,487.41 227.88,488.04 229.25,488.67 230.62,489.29 231.99,489.92 233.35,490.55 234.71,491.18 236.07,491.81 237.42,492.43 238.77,493.06 240.12,493.69 241.47,494.32 242.81,494.95 244.15,495.57 245.49,496.20 246.82,496.83 248.15,497.46 249.48,498.09 250.81,498.71 252.13,499.34 253.45,499.97 254.77,500.60 256.09,501.23 257.40,501.86 258.71,502.48 260.02,503.11 261.32,503.74 262.62,504.37 263.92,505.00 265.22,505.62 266.51,506.25 267.81,506.88 269.09,507.51 270.38,508.14 271.66,508.76 272.94,509.39 274.22,510.02 275.50,510.65 276.77,511.28 278.04,511.90 279.31,512.53 280.57,513.16 281.84,513.79 283.10,514.42 284.35,515.05 285.61,515.67 286.86,516.30 288.11,516.93 289.36,517.56 290.60,518.19 291.85,518.81 293.08,519.44 294.32,520.07 295.56,520.70 296.79,521.33 298.02,521.95 299.25,522.58 300.47,523.21 301.69,523.84 302.91,524.47 304.13,525.09 305.34,525.72 306.56,526.35 307.77,526.98 308.97,527.61 310.18,528.24 311.38,528.86 312.58,529.49 313.78,530.12 314.97,530.75 316.17,531.38" fill="none" stroke="#808080" stroke-width="1.8" stroke-linejoin="round" />
<g fill="url(#sk)"><circle cx="45.02" cy="414.20" r="2.8"/><circle cx="52.26" cy="416.80" r="2.8"/><circle cx="59.44" cy="419.40" r="2.8"/><circle cx="66.55" cy="422.01" r="2.8"/><circle cx="73.61" cy="424.61" r="2.8"/><circle cx="80.60" cy="427.22" r="2.8"/><circle cx="87.54" cy="429.82" r="2.8"/><circle cx="94.41" cy="432.42" r="2.8"/><circle cx="101.23" cy="435.03" r="2.8"/><circle cx="107.99" cy="437.63" r="2.8"/><circle cx="114.69" cy="440.24" r="2.8"/><circle cx="121.33" cy="442.84" r="2.8"/><circle cx="127.91" cy="445.44" r="2.8"/><circle cx="134.44" cy="448.05" r="2.8"/><circle cx="140.91" cy="450.65" r="2.8"/><circle cx="147.32" cy="453.26" r="2.8"/><circle cx="153.68" cy="455.86" r="2.8"/><circle cx="159.99" cy="458.46" r="2.8"/><circle cx="166.24" cy="461.07" r="2.8"/><circle cx="172.43" cy="463.67" r="2.8"/><circle cx="178.58" cy="466.28" r="2.8"/><circle cx="184.67" cy="468.88" r="2.8"/><circle cx="190.70" cy="471.48" r="2.8"/><circle cx="196.69" cy="474.09" r="2.8"/><circle cx="202.62" cy="476.69" r="2.8"/><circle cx="208.50" cy="479.30" r="2.8"/><circle cx="214.34" cy="481.90" r="2.8"/><circle cx="220.12" cy="484.50" r="2.8"/><circle cx="225.85" cy="487.11" r="2.8"/><circle cx="231.53" cy="489.71" r="2.8"/><circle cx="237.17" cy="492.32" r="2.8"/><circle cx="242.75" cy="494.92" r="2.8"/><circle cx="248.29" cy="497.52" r="2.8"/><circle cx="253.78" cy="500.13" r="2.8"/><circle cx="259.23" cy="502.73" r="2.8"/><circle cx="264.63" cy="505.34" r="2.8"/><circle cx="269.98" cy="507.94" r="2.8"/><circle cx="275.29" cy="510.54" r="2.8"/><circle cx="280.55" cy="513.15" r="2.8"/><circle cx="285.77" cy="515.75" r="2.8"/><circle cx="290.94" cy="518.36" r="2.8"/><circle cx="296.07" cy="520.96" r="2.8"/><circle cx="301.16" cy="523.56" r="2.8"/><circle cx="306.20" cy="526.17" r="2.8"/></g>
</g>
<g clip-path="url(#cc)">
<polyline points="19.41,359.08 20.98,359.57 22.56,360.05 24.14,360.54 25.72,361.02 27.30,361.50 28.89,361.99 30.48,362.47 32.06,362.96 33.66,363.44 35.25,363.93 36.84,364.41 38.44,364.89 40.03,365.38 41.63,365.86 43.23,366.35 44.83,366.83 46.44,367.31 48.04,367.80 49.65,368.28 51.25,368.77 52.86,369.25 54.47,369.74 56.08,370.22 57.69,370.70 59.31,371.19 60.92,371.67 62.54,372.16 64.15,372.64 65.77,373.12 67.38,373.61 69.00,374.09 70.62,374.58 72.24,375.06 73.86,375.55 75.48,376.03 77.10,376.51 78.72,377.00 80.34,377.48 81.97,377.97 83.59,378.45 85.21,378.93 86.84,379.42 88.46,379.90 90.08,380.39 91.71,380.87 93.33,381.36 94.95,381.84 96.58,382.32 98.20,382.81 99.82,383.29 101.45,383.78 103.07,384.26 104.69,384.74 106.32,385.23 107.94,385.71 109.56,386.20 111.18,386.68 112.80,387.17 114.42,387.65 116.04,388.13 117.66,388.62 119.28,389.10 120.90,389.59 122.52,390.07 124.13,390.55 125.75,391.04 127.36,391.52 128.98,392.01 130.59,392.49 132.20,392.98 133.81,393.46 135.42,393.94 137.03,394.43 138.63,394.91 140.24,395.40 141.84,395.88 143.45,396.36 145.05,396.85 146.65,397.33 148.25,397.82 149.84,398.30 151.44,398.79 153.03,399.27 154.63,399.75 156.22,400.24 157.80,400.72 159.39,401.21 160.98,401.69 162.56,402.17 164.14,402.66 165.72,403.14 167.30,403.63 168.87,404.11 170.44,404.60 172.02,405.08 173.58,405.56 175.15,406.05 176.71,406.53 178.28,407.02 179.83,407.50 181.39,407.98 182.94,408.47 184.50,408.95 186.05,409.44 187.59,409.92 189.13,410.41 190.68,410.89 192.21,411.37 193.75,411.86 195.28,412.34 196.81,412.83 198.34,413.31 199.86,413.79 201.38,414.28 202.90,414.76 204.41,415.25 205.92,415.73 207.43,416.21 208.93,416.70 210.44,417.18 211.93,417.67 213.43,418.15 214.92,418.64 216.40,419.12 217.89,419.60 219.37,420.09 220.84,420.57 222.32,421.06 223.79,421.54 225.25,422.02 226.71,422.51 228.17,422.99 229.62,423.48 231.07,423.96 232.52,424.45 233.96,424.93 235.40,425.41 236.83,425.90 238.26,426.38 239.68,426.87 241.10,427.35 242.52,427.83 243.93,428.32 245.34,428.80 246.74,429.29 248.14,429.77 249.53,430.26 250.92,430.74 252.30,431.22 253.68,431.71 255.06,432.19 256.43,432.68 257.79,433.16 259.15,433.64 260.51,434.13 261.86,434.61 263.20,435.10 264.54,435.58 265.88,436.07 267.21,436.55 268.53,437.03 269.85,437.52 271.17,438.00 272.47,438.49 273.78,438.97 275.07,439.45 276.37,439.94 277.65,440.42 278.93,440.91 280.21,441.39 281.48,441.88 282.74,442.36 284.00,442.84 285.25,443.33 286.50,443.81 287.74,444.30 288.98,444.78 290.20,445.26 291.43,445.75 292.64,446.23 293.85,446.72 295.06,447.20 296.26,447.69 297.45,448.17 298.63,448.65 299.81,449.14 300.98,449.62 302.15,450.11 303.31,450.59 304.46,451.07 305.61,451.56 306.75,452.04 307.88,452.53 309.01,453.01 310.13,453.50 311.24,453.98 312.34,454.46 313.44,454.95 314.53,455.43" fill="none" stroke="#e8676c" stroke-width="1.8" stroke-linejoin="round" />
<g fill="url(#sr)"><circle cx="45.05" cy="366.90" r="2.8"/><circle cx="53.69" cy="369.50" r="2.8"/><circle cx="62.36" cy="372.10" r="2.8"/><circle cx="71.06" cy="374.71" r="2.8"/><circle cx="79.77" cy="377.31" r="2.8"/><circle cx="88.50" cy="379.92" r="2.8"/><circle cx="97.24" cy="382.52" r="2.8"/><circle cx="105.97" cy="385.12" r="2.8"/><circle cx="114.69" cy="387.73" r="2.8"/><circle cx="123.39" cy="390.33" r="2.8"/><circle cx="132.07" cy="392.94" r="2.8"/><circle cx="140.72" cy="395.54" r="2.8"/><circle cx="149.33" cy="398.14" r="2.8"/><circle cx="157.89" cy="400.75" r="2.8"/><circle cx="166.40" cy="403.35" r="2.8"/><circle cx="174.85" cy="405.96" r="2.8"/><circle cx="183.24" cy="408.56" r="2.8"/><circle cx="191.55" cy="411.16" r="2.8"/><circle cx="199.78" cy="413.77" r="2.8"/><circle cx="207.92" cy="416.37" r="2.8"/><circle cx="215.96" cy="418.98" r="2.8"/><circle cx="223.91" cy="421.58" r="2.8"/><circle cx="231.74" cy="424.18" r="2.8"/><circle cx="239.45" cy="426.79" r="2.8"/><circle cx="247.04" cy="429.39" r="2.8"/><circle cx="254.50" cy="432.00" r="2.8"/><circle cx="261.82" cy="434.60" r="2.8"/><circle cx="269.00" cy="437.20" r="2.8"/><circle cx="276.02" cy="439.81" r="2.8"/><circle cx="282.88" cy="442.41" r="2.8"/><circle cx="289.57" cy="445.02" r="2.8"/><circle cx="296.09" cy="447.62" r="2.8"/><circle cx="302.43" cy="450.22" r="2.8"/><circle cx="308.58" cy="452.83" r="2.8"/></g>
</g>
<g clip-path="url(#cc)">
<polyline points="29.10,348.88 30.48,349.47 31.86,350.06 33.25,350.65 34.64,351.24 36.03,351.83 37.42,352.42 38.82,353.01 40.21,353.59 41.61,354.18 43.01,354.77 44.41,355.36 45.82,355.95 47.22,356.54 48.63,357.13 50.04,357.72 51.45,358.31 52.86,358.89 54.28,359.48 55.70,360.07 57.11,360.66 58.53,361.25 59.95,361.84 61.38,362.43 62.80,363.02 64.23,363.61 65.65,364.19 67.08,364.78 68.51,365.37 69.94,365.96 71.38,366.55 72.81,367.14 74.25,367.73 75.68,368.32 77.12,368.90 78.56,369.49 80.00,370.08 81.44,370.67 82.89,371.26 84.33,371.85 85.77,372.44 87.22,373.03 88.67,373.62 90.12,374.20 91.56,374.79 93.01,375.38 94.47,375.97 95.92,376.56 97.37,377.15 98.82,377.74 100.28,378.33 101.73,378.92 103.19,379.50 104.64,380.09 106.10,380.68 107.56,381.27 109.02,381.86 110.48,382.45 111.94,383.04 113.40,383.63 114.86,384.21 116.32,384.80 117.78,385.39 119.24,385.98 120.70,386.57 122.17,387.16 123.63,387.75 125.09,388.34 126.56,388.93 128.02,389.51 129.49,390.10 130.95,390.69 132.42,391.28 133.88,391.87 135.35,392.46 136.81,393.05 138.28,393.64 139.74,394.23 141.21,394.81 142.67,395.40 144.14,395.99 145.60,396.58 147.07,397.17 148.53,397.76 150.00,398.35 151.46,398.94 152.92,399.52 154.39,400.11 155.85,400.70 157.32,401.29 158.78,401.88 160.24,402.47 161.70,403.06 163.17,403.65 164.63,404.24 166.09,404.82 167.55,405.41 169.01,406.00 170.47,406.59 171.93,407.18 173.39,407.77 174.84,408.36 176.30,408.95 177.76,409.53 179.21,410.12 180.67,410.71 182.12,411.30 183.57,411.89 185.03,412.48 186.48,413.07 187.93,413.66 189.38,414.25 190.83,414.83 192.28,415.42 193.72,416.01 195.17,416.60 196.61,417.19 198.06,417.78 199.50,418.37 200.94,418.96 202.38,419.55 203.82,420.13 205.26,420.72 206.69,421.31 208.13,421.90 209.56,422.49 210.99,423.08 212.43,423.67 213.86,424.26 215.28,424.84 216.71,425.43 218.14,426.02 219.56,426.61 220.98,427.20 222.40,427.79 223.82,428.38 225.24,428.97 226.65,429.56 228.07,430.14 229.48,430.73 230.89,431.32 232.30,431.91 233.71,432.50 235.11,433.09 236.52,433.68 237.92,434.27 239.32,434.86 240.72,435.44 242.11,436.03 243.51,436.62 244.90,437.21 246.29,437.80 247.67,438.39 249.06,438.98 250.44,439.57 251.83,440.15 253.20,440.74 254.58,441.33 255.96,441.92 257.33,442.51 258.70,443.10 260.07,443.69 261.43,444.28 262.79,444.87 264.15,445.45 265.51,446.04 266.87,446.63 268.22,447.22 269.57,447.81 270.92,448.40 272.26,448.99 273.61,449.58 274.95,450.17 276.29,450.75 277.62,451.34 278.95,451.93 280.28,452.52 281.61,453.11 282.93,453.70 284.25,454.29 285.57,454.88 286.89,455.46 288.20,456.05 289.51,456.64 290.81,457.23 292.12,457.82 293.42,458.41 294.71,459.00 296.01,459.59 297.30,460.18 298.59,460.76 299.87,461.35 301.15,461.94 302.43,462.53 303.71,463.12 304.98,463.71 306.25,464.30 307.51,464.89 308.77,465.48 310.03,466.06" fill="none" stroke="#3f86d6" stroke-width="1.8" stroke-linejoin="round" />
<g fill="url(#sb)"><circle cx="47.60" cy="356.70" r="2.8"/><circle cx="53.84" cy="359.30" r="2.8"/><circle cx="60.11" cy="361.90" r="2.8"/><circle cx="66.42" cy="364.51" r="2.8"/><circle cx="72.75" cy="367.11" r="2.8"/><circle cx="79.10" cy="369.72" r="2.8"/><circle cx="85.49" cy="372.32" r="2.8"/><circle cx="91.89" cy="374.92" r="2.8"/><circle cx="98.31" cy="377.53" r="2.8"/><circle cx="104.74" cy="380.13" r="2.8"/><circle cx="111.19" cy="382.74" r="2.8"/><circle cx="117.65" cy="385.34" r="2.8"/><circle cx="124.12" cy="387.94" r="2.8"/><circle cx="130.59" cy="390.55" r="2.8"/><circle cx="137.07" cy="393.15" r="2.8"/><circle cx="143.55" cy="395.76" r="2.8"/><circle cx="150.03" cy="398.36" r="2.8"/><circle cx="156.50" cy="400.96" r="2.8"/><circle cx="162.97" cy="403.57" r="2.8"/><circle cx="169.43" cy="406.17" r="2.8"/><circle cx="175.88" cy="408.78" r="2.8"/><circle cx="182.31" cy="411.38" r="2.8"/><circle cx="188.73" cy="413.98" r="2.8"/><circle cx="195.14" cy="416.59" r="2.8"/><circle cx="201.52" cy="419.19" r="2.8"/><circle cx="207.87" cy="421.80" r="2.8"/><circle cx="214.20" cy="424.40" r="2.8"/><circle cx="220.51" cy="427.00" r="2.8"/><circle cx="226.78" cy="429.61" r="2.8"/><circle cx="233.02" cy="432.21" r="2.8"/><circle cx="239.23" cy="434.82" r="2.8"/><circle cx="245.39" cy="437.42" r="2.8"/><circle cx="251.52" cy="440.02" r="2.8"/><circle cx="257.60" cy="442.63" r="2.8"/><circle cx="263.64" cy="445.23" r="2.8"/><circle cx="269.63" cy="447.84" r="2.8"/><circle cx="275.57" cy="450.44" r="2.8"/><circle cx="281.46" cy="453.04" r="2.8"/><circle cx="287.29" cy="455.65" r="2.8"/><circle cx="293.07" cy="458.25" r="2.8"/><circle cx="298.79" cy="460.86" r="2.8"/><circle cx="304.44" cy="463.46" r="2.8"/></g>
</g>
<g clip-path="url(#cc)">
<polyline points="13.87,363.98 15.58,364.48 17.29,364.98 19.00,365.48 20.72,365.97 22.43,366.47 24.14,366.97 25.86,367.46 27.58,367.96 29.29,368.46 31.01,368.96 32.73,369.45 34.45,369.95 36.17,370.45 37.89,370.95 39.61,371.44 41.33,371.94 43.05,372.44 44.77,372.93 46.50,373.43 48.22,373.93 49.94,374.43 51.67,374.92 53.39,375.42 55.11,375.92 56.84,376.42 58.56,376.91 60.29,377.41 62.01,377.91 63.73,378.40 65.46,378.90 67.18,379.40 68.90,379.90 70.63,380.39 72.35,380.89 74.07,381.39 75.80,381.88 77.52,382.38 79.24,382.88 80.96,383.38 82.68,383.87 84.40,384.37 86.12,384.87 87.84,385.37 89.56,385.86 91.27,386.36 92.99,386.86 94.71,387.35 96.42,387.85 98.14,388.35 99.85,388.85 101.56,389.34 103.27,389.84 104.98,390.34 106.69,390.84 108.40,391.33 110.11,391.83 111.81,392.33 113.52,392.82 115.22,393.32 116.92,393.82 118.62,394.32 120.32,394.81 122.02,395.31 123.71,395.81 125.41,396.31 127.10,396.80 128.79,397.30 130.48,397.80 132.17,398.29 133.85,398.79 135.53,399.29 137.22,399.79 138.90,400.28 140.57,400.78 142.25,401.28 143.93,401.77 145.60,402.27 147.27,402.77 148.93,403.27 150.60,403.76 152.26,404.26 153.92,404.76 155.58,405.26 157.24,405.75 158.89,406.25 160.55,406.75 162.19,407.24 163.84,407.74 165.48,408.24 167.13,408.74 168.76,409.23 170.40,409.73 172.03,410.23 173.66,410.73 175.29,411.22 176.92,411.72 178.54,412.22 180.16,412.71 181.77,413.21 183.38,413.71 184.99,414.21 186.60,414.70 188.20,415.20 189.80,415.70 191.40,416.19 193.00,416.69 194.59,417.19 196.17,417.69 197.76,418.18 199.34,418.68 200.91,419.18 202.49,419.68 204.06,420.17 205.62,420.67 207.18,421.17 208.74,421.66 210.30,422.16 211.85,422.66 213.39,423.16 214.94,423.65 216.48,424.15 218.01,424.65 219.54,425.15 221.07,425.64 222.59,426.14 224.11,426.64 225.63,427.13 227.14,427.63 228.64,428.13 230.15,428.63 231.64,429.12 233.14,429.62 234.63,430.12 236.11,430.61 237.59,431.11 239.07,431.61 240.54,432.11 242.00,432.60 243.46,433.10 244.92,433.60 246.37,434.10 247.82,434.59 249.26,435.09 250.70,435.59 252.13,436.08 253.56,436.58 254.98,437.08 256.40,437.58 257.81,438.07 259.22,438.57 260.62,439.07 262.02,439.57 263.41,440.06 264.79,440.56 266.18,441.06 267.55,441.55 268.92,442.05 270.29,442.55 271.64,443.05 273.00,443.54 274.35,444.04 275.69,444.54 277.02,445.04 278.36,445.53 279.68,446.03 281.00,446.53 282.31,447.02 283.62,447.52 284.92,448.02 286.22,448.52 287.51,449.01 288.79,449.51 290.07,450.01 291.34,450.50 292.60,451.00 293.86,451.50 295.11,452.00 296.36,452.49 297.60,452.99 298.83,453.49 300.06,453.99 301.28,454.48 302.49,454.98 303.70,455.48 304.90,455.97 306.10,456.47 307.28,456.97 308.46,457.47 309.64,457.96 310.80,458.46 311.96,458.96 313.12,459.46 314.26,459.95 315.40,460.45 316.54,460.95 317.66,461.44 318.78,461.94 319.89,462.44 320.99,462.94" fill="none" stroke="#b8960c" stroke-width="1.8" stroke-linejoin="round" />
<g fill="url(#sy)"><circle cx="49.85" cy="374.40" r="2.8"/><circle cx="58.88" cy="377.00" r="2.8"/><circle cx="67.91" cy="379.61" r="2.8"/><circle cx="76.93" cy="382.21" r="2.8"/><circle cx="85.94" cy="384.82" r="2.8"/><circle cx="94.93" cy="387.42" r="2.8"/><circle cx="103.90" cy="390.02" r="2.8"/><circle cx="112.84" cy="392.63" r="2.8"/><circle cx="121.75" cy="395.23" r="2.8"/><circle cx="130.61" cy="397.84" r="2.8"/><circle cx="139.43" cy="400.44" r="2.8"/><circle cx="148.19" cy="403.04" r="2.8"/><circle cx="156.89" cy="405.65" r="2.8"/><circle cx="165.53" cy="408.25" r="2.8"/><circle cx="174.09" cy="410.86" r="2.8"/><circle cx="182.58" cy="413.46" r="2.8"/><circle cx="190.98" cy="416.06" r="2.8"/><circle cx="199.29" cy="418.67" r="2.8"/><circle cx="207.51" cy="421.27" r="2.8"/><circle cx="215.63" cy="423.88" r="2.8"/><circle cx="223.63" cy="426.48" r="2.8"/><circle cx="231.53" cy="429.08" r="2.8"/><circle cx="239.30" cy="431.69" r="2.8"/><circle cx="246.94" cy="434.29" r="2.8"/><circle cx="254.46" cy="436.90" r="2.8"/><circle cx="261.83" cy="439.50" r="2.8"/><circle cx="269.06" cy="442.10" r="2.8"/><circle cx="276.15" cy="444.71" r="2.8"/><circle cx="283.07" cy="447.31" r="2.8"/><circle cx="289.83" cy="449.92" r="2.8"/><circle cx="296.43" cy="452.52" r="2.8"/><circle cx="302.84" cy="455.12" r="2.8"/><circle cx="309.08" cy="457.73" r="2.8"/></g>
</g>
<rect x="51.0" y="323.5" width="252.10000000000002" height="234.20000000000005" fill="none" stroke="#000" stroke-width="1.8"/>
<line x1="46.50" y1="557.70" x2="51.00" y2="557.70" stroke="#000" stroke-width="1.6" />
<text x="44.00" y="562.20" font-size="14" text-anchor="end" fill="#000" transform="translate(44.00 562.20) scale(1 1.035) translate(-44.00 -562.20)" >0.88</text>
<line x1="46.50" y1="505.62" x2="51.00" y2="505.62" stroke="#000" stroke-width="1.6" />
<text x="44.00" y="510.12" font-size="14" text-anchor="end" fill="#000" transform="translate(44.00 510.12) scale(1 1.035) translate(-44.00 -510.12)" >0.90</text>
<line x1="46.50" y1="453.55" x2="51.00" y2="453.55" stroke="#000" stroke-width="1.6" />
<text x="44.00" y="458.05" font-size="14" text-anchor="end" fill="#000" transform="translate(44.00 458.05) scale(1 1.035) translate(-44.00 -458.05)" >0.92</text>
<line x1="46.50" y1="401.48" x2="51.00" y2="401.48" stroke="#000" stroke-width="1.6" />
<text x="44.00" y="405.98" font-size="14" text-anchor="end" fill="#000" transform="translate(44.00 405.98) scale(1 1.035) translate(-44.00 -405.98)" >0.94</text>
<line x1="46.50" y1="349.40" x2="51.00" y2="349.40" stroke="#000" stroke-width="1.6" />
<text x="44.00" y="353.90" font-size="14" text-anchor="end" fill="#000" transform="translate(44.00 353.90) scale(1 1.035) translate(-44.00 -353.90)" >0.96</text>
<line x1="48.40" y1="531.66" x2="51.00" y2="531.66" stroke="#000" stroke-width="1.6" />
<line x1="48.40" y1="479.59" x2="51.00" y2="479.59" stroke="#000" stroke-width="1.6" />
<line x1="48.40" y1="427.51" x2="51.00" y2="427.51" stroke="#000" stroke-width="1.6" />
<line x1="48.40" y1="375.44" x2="51.00" y2="375.44" stroke="#000" stroke-width="1.6" />
<line x1="48.40" y1="323.36" x2="51.00" y2="323.36" stroke="#000" stroke-width="1.6" />
<line x1="92.10" y1="557.70" x2="92.10" y2="562.20" stroke="#000" stroke-width="1.6" />
<text x="92.10" y="576.80" font-size="14" text-anchor="middle" fill="#000" transform="translate(92.10 576.80) scale(1 1.035) translate(-92.10 -576.80)" >-0.3</text>
<line x1="143.61" y1="557.70" x2="143.61" y2="562.20" stroke="#000" stroke-width="1.6" />
<text x="143.61" y="576.80" font-size="14" text-anchor="middle" fill="#000" transform="translate(143.61 576.80) scale(1 1.035) translate(-143.61 -576.80)" >-0.2</text>
<line x1="195.12" y1="557.70" x2="195.12" y2="562.20" stroke="#000" stroke-width="1.6" />
<text x="195.12" y="576.80" font-size="14" text-anchor="middle" fill="#000" transform="translate(195.12 576.80) scale(1 1.035) translate(-195.12 -576.80)" >-0.1</text>
<line x1="246.63" y1="557.70" x2="246.63" y2="562.20" stroke="#000" stroke-width="1.6" />
<text x="246.63" y="576.80" font-size="14" text-anchor="middle" fill="#000" transform="translate(246.63 576.80) scale(1 1.035) translate(-246.63 -576.80)" >0.0</text>
<line x1="298.14" y1="557.70" x2="298.14" y2="562.20" stroke="#000" stroke-width="1.6" />
<text x="298.14" y="576.80" font-size="14" text-anchor="middle" fill="#000" transform="translate(298.14 576.80) scale(1 1.035) translate(-298.14 -576.80)" >0.1</text>
<line x1="66.34" y1="557.70" x2="66.34" y2="560.30" stroke="#000" stroke-width="1.6" />
<line x1="117.85" y1="557.70" x2="117.85" y2="560.30" stroke="#000" stroke-width="1.6" />
<line x1="169.37" y1="557.70" x2="169.37" y2="560.30" stroke="#000" stroke-width="1.6" />
<line x1="220.88" y1="557.70" x2="220.88" y2="560.30" stroke="#000" stroke-width="1.6" />
<line x1="272.38" y1="557.70" x2="272.38" y2="560.30" stroke="#000" stroke-width="1.6" />
<text x="177.00" y="593.80" font-size="16.4" text-anchor="middle" fill="#000" transform="translate(177.00 593.80) scale(1 1.035) translate(-177.00 -593.80)" >log |j<tspan font-size="10.5" dy="5.5">k</tspan><tspan dy="-5.5">/mA cm</tspan><tspan font-size="10" dy="-7">-2</tspan><tspan dy="7">|</tspan></text>
<text x="12.10" y="432.30" font-size="16.6" text-anchor="middle" fill="#000" transform="rotate(-90 12.10 432.30) translate(12.10 432.30) scale(1 1.035) translate(-12.10 -432.30)" >Potential (V vs. RHE)</text>
<text x="71.90" y="350.90" font-size="13" text-anchor="start" fill="#b8960c" transform="translate(71.90 350.90) scale(1 1.035) translate(-71.90 -350.90)" >62.2 mv dec<tspan font-size="7.8" dy="-5.6">-1</tspan></text>
<text x="149.20" y="385.20" font-size="13" text-anchor="start" fill="#3f86d6" transform="translate(149.20 385.20) scale(1 1.035) translate(-149.20 -385.20)" >82.6 mv dec<tspan font-size="7.8" dy="-5.6">-1</tspan></text>
<text x="217.90" y="415.10" font-size="13" text-anchor="start" fill="#e8676c" transform="translate(217.90 415.10) scale(1 1.035) translate(-217.90 -415.10)" >60.3 mv dec<tspan font-size="7.8" dy="-5.6">-1</tspan></text>
<text x="57.90" y="467.50" font-size="13" text-anchor="start" fill="#555" transform="translate(57.90 467.50) scale(1 1.035) translate(-57.90 -467.50)" >78.1 mv dec<tspan font-size="7.8" dy="-5.6">-1</tspan></text>
<line x1="63.90" y1="488.00" x2="86.30" y2="488.00" stroke="#e8676c" stroke-width="1.7" />
<line x1="63.90" y1="509.50" x2="86.30" y2="509.50" stroke="#3f86d6" stroke-width="1.7" />
<line x1="63.90" y1="526.50" x2="86.30" y2="526.50" stroke="#b8960c" stroke-width="1.7" />
<line x1="63.90" y1="543.40" x2="86.30" y2="543.40" stroke="#333" stroke-width="1.7" />
<text x="90.40" y="493.00" font-size="13.5" text-anchor="start" fill="#000" transform="translate(90.40 493.00) scale(1 1.035) translate(-90.40 -493.00)" >SiO<tspan font-size="9.5" dy="4.6">2</tspan><tspan dy="-4.6">/FeNSiC</tspan></text>
<text x="90.40" y="514.80" font-size="13.5" text-anchor="start" fill="#000" transform="translate(90.40 514.80) scale(1 1.035) translate(-90.40 -514.80)" >FeNSiC</text>
<text x="90.40" y="531.80" font-size="13.5" text-anchor="start" fill="#000" transform="translate(90.40 531.80) scale(1 1.035) translate(-90.40 -531.80)" >FeNC</text>
<text x="90.40" y="548.70" font-size="13.5" text-anchor="start" fill="#000" transform="translate(90.40 548.70) scale(1 1.035) translate(-90.40 -548.70)" >Pt/C</text>
<text x="7.40" y="323.20" font-size="21" text-anchor="start" fill="#000" transform="translate(7.40 323.20) scale(1 1.035) translate(-7.40 -323.20)" >c</text>
<clipPath id="cd"><rect x="386.0" y="322.9" width="253.29999999999995" height="233.0"/></clipPath>
<g clip-path="url(#cd)">
<polyline points="385.90,361.60 386.75,361.55 387.60,361.50 388.45,361.45 389.29,361.41 390.13,361.36 390.97,361.32 391.81,361.27 392.65,361.22 393.49,361.18 394.33,361.13 395.18,361.08 396.02,361.04 396.87,360.99 397.73,360.94 398.59,360.89 399.46,360.83 400.33,360.78 401.21,360.72 402.10,360.66 403.00,360.60 403.91,360.54 404.82,360.47 405.75,360.40 406.68,360.33 407.62,360.26 408.56,360.18 409.51,360.10 410.47,360.03 411.43,359.95 412.39,359.87 413.35,359.79 414.32,359.71 415.28,359.63 416.25,359.55 417.21,359.47 418.18,359.40 419.14,359.32 420.10,359.24 421.05,359.17 422.00,359.10 422.95,359.03 423.89,358.96 424.84,358.89 425.78,358.82 426.73,358.75 427.67,358.69 428.62,358.62 429.56,358.55 430.51,358.48 431.45,358.42 432.39,358.35 433.34,358.29 434.28,358.22 435.23,358.16 436.17,358.10 437.12,358.04 438.06,357.98 439.01,357.92 439.95,357.86 440.90,357.80 441.85,357.74 442.80,357.69 443.74,357.63 444.69,357.58 445.64,357.53 446.59,357.47 447.54,357.42 448.49,357.37 449.44,357.32 450.39,357.28 451.34,357.23 452.30,357.18 453.25,357.13 454.20,357.08 455.15,357.04 456.10,356.99 457.05,356.94 458.00,356.89 458.95,356.85 459.90,356.80 460.85,356.75 461.80,356.71 462.75,356.66 463.70,356.62 464.65,356.57 465.60,356.53 466.55,356.48 467.50,356.44 468.45,356.39 469.40,356.35 470.35,356.31 471.30,356.26 472.25,356.22 473.20,356.17 474.15,356.13 475.10,356.08 476.05,356.04 477.00,355.99 477.95,355.95 478.90,355.90 479.86,355.85 480.83,355.80 481.82,355.75 482.81,355.70 483.81,355.64 484.82,355.59 485.82,355.53 486.83,355.47 487.83,355.42 488.83,355.36 489.82,355.31 490.80,355.25 491.76,355.20 492.71,355.15 493.64,355.10 494.54,355.06 495.42,355.01 496.28,354.97 497.11,354.93 497.90,354.90 498.65,354.87 499.36,354.84 500.02,354.82 500.64,354.80 501.23,354.78 501.80,354.76 502.34,354.75 502.87,354.74 503.39,354.73 503.91,354.72 504.42,354.71 504.94,354.70 505.48,354.69 506.03,354.68 506.60,354.67 507.20,354.66 507.84,354.65 508.51,354.63 509.23,354.62 510.00,354.60 510.82,354.58 511.70,354.56 512.63,354.54 513.60,354.51 514.61,354.49 515.65,354.46 516.71,354.44 517.78,354.41 518.87,354.39 519.96,354.36 521.05,354.34 522.13,354.31 523.20,354.28 524.24,354.26 525.26,354.23 526.24,354.20 527.18,354.18 528.08,354.15 528.92,354.13 529.70,354.10 530.42,354.08 531.09,354.05 531.70,354.03 532.27,354.00 532.80,353.98 533.30,353.96 533.77,353.93 534.22,353.91 534.66,353.89 535.08,353.86 535.50,353.84 535.92,353.81 536.35,353.79 536.79,353.76 537.24,353.74 537.73,353.71 538.24,353.69 538.78,353.66 539.37,353.63 540.00,353.60 540.67,353.57 541.38,353.54 542.11,353.51 542.87,353.48 543.65,353.44 544.44,353.41 545.26,353.38 546.09,353.34 546.92,353.31 547.77,353.27 548.62,353.24 549.47,353.20 550.32,353.17 551.17,353.13 552.01,353.09 552.84,353.06 553.65,353.02 554.46,352.98 555.24,352.94 556.00,352.90 556.74,352.86 557.48,352.82 558.20,352.78 558.91,352.74 559.62,352.70 560.32,352.66 561.01,352.62 561.70,352.58 562.38,352.54 563.06,352.49 563.74,352.45 564.42,352.41 565.11,352.36 565.79,352.31 566.48,352.26 567.17,352.22 567.86,352.16 568.57,352.11 569.28,352.06 570.00,352.00 570.73,351.94 571.47,351.88 572.21,351.82 572.97,351.76 573.73,351.69 574.49,351.63 575.26,351.56 576.02,351.50 576.79,351.43 577.56,351.36 578.33,351.29 579.10,351.21 579.86,351.14 580.62,351.07 581.37,350.99 582.11,350.91 582.85,350.84 583.58,350.76 584.29,350.68 585.00,350.60 585.70,350.52 586.39,350.44 587.07,350.35 587.74,350.26 588.41,350.17 589.08,350.08 589.74,349.99 590.39,349.90 591.04,349.81 591.69,349.71 592.33,349.62 592.97,349.52 593.60,349.43 594.24,349.34 594.87,349.25 595.50,349.15 596.12,349.06 596.75,348.97 597.37,348.89 598.00,348.80 598.62,348.71 599.23,348.63 599.83,348.54 600.42,348.46 601.00,348.37 601.58,348.29 602.15,348.20 602.73,348.12 603.30,348.03 603.88,347.95 604.45,347.87 605.03,347.79 605.62,347.71 606.21,347.63 606.81,347.55 607.42,347.48 608.05,347.41 608.68,347.33 609.33,347.27 610.00,347.20 610.68,347.14 611.38,347.07 612.09,347.01 612.81,346.95 613.54,346.90 614.28,346.84 615.03,346.79 615.78,346.73 616.55,346.68 617.31,346.63 618.08,346.58 618.86,346.54 619.63,346.49 620.41,346.44 621.18,346.40 621.95,346.36 622.72,346.32 623.49,346.28 624.25,346.24 625.00,346.20 625.75,346.16 626.50,346.13 627.25,346.10 628.00,346.07 628.75,346.04 629.50,346.01 630.25,345.99 631.00,345.96 631.75,345.94 632.50,345.92 633.25,345.90 634.00,345.88 634.75,345.86 635.50,345.83 636.25,345.81 637.00,345.79 637.75,345.77 638.50,345.75 639.25,345.72 640.00,345.70" fill="none" stroke="#e8676c" stroke-width="2.0" stroke-linejoin="round" />
<g fill="#fff" stroke="#e8676c" stroke-width="1.5"><circle cx="385.90" cy="361.60" r="1.35"/><circle cx="390.05" cy="361.37" r="1.35"/><circle cx="394.20" cy="361.14" r="1.35"/><circle cx="398.35" cy="360.90" r="1.35"/><circle cx="402.50" cy="360.63" r="1.35"/><circle cx="406.65" cy="360.33" r="1.35"/><circle cx="410.80" cy="360.00" r="1.35"/><circle cx="414.95" cy="359.66" r="1.35"/><circle cx="419.10" cy="359.32" r="1.35"/><circle cx="423.25" cy="359.01" r="1.35"/><circle cx="427.40" cy="358.71" r="1.35"/><circle cx="431.55" cy="358.41" r="1.35"/><circle cx="435.70" cy="358.13" r="1.35"/><circle cx="439.85" cy="357.86" r="1.35"/><circle cx="444.00" cy="357.62" r="1.35"/><circle cx="448.15" cy="357.39" r="1.35"/><circle cx="452.30" cy="357.18" r="1.35"/><circle cx="456.45" cy="356.97" r="1.35"/><circle cx="460.60" cy="356.77" r="1.35"/><circle cx="464.75" cy="356.57" r="1.35"/><circle cx="468.90" cy="356.37" r="1.35"/><circle cx="473.05" cy="356.18" r="1.35"/><circle cx="477.20" cy="355.98" r="1.35"/><circle cx="481.35" cy="355.77" r="1.35"/><circle cx="485.50" cy="355.55" r="1.35"/><circle cx="489.65" cy="355.32" r="1.35"/><circle cx="493.80" cy="355.09" r="1.35"/><circle cx="497.95" cy="354.90" r="1.35"/><circle cx="502.10" cy="354.76" r="1.35"/><circle cx="506.25" cy="354.68" r="1.35"/><circle cx="510.40" cy="354.59" r="1.35"/><circle cx="514.55" cy="354.49" r="1.35"/><circle cx="518.70" cy="354.39" r="1.35"/><circle cx="522.85" cy="354.29" r="1.35"/><circle cx="527.00" cy="354.18" r="1.35"/><circle cx="531.15" cy="354.05" r="1.35"/><circle cx="535.30" cy="353.85" r="1.35"/><circle cx="539.45" cy="353.63" r="1.35"/><circle cx="543.60" cy="353.45" r="1.35"/><circle cx="547.75" cy="353.28" r="1.35"/><circle cx="551.90" cy="353.10" r="1.35"/><circle cx="556.05" cy="352.90" r="1.35"/><circle cx="560.20" cy="352.67" r="1.35"/><circle cx="564.35" cy="352.41" r="1.35"/><circle cx="568.50" cy="352.12" r="1.35"/><circle cx="572.65" cy="351.78" r="1.35"/><circle cx="576.80" cy="351.43" r="1.35"/><circle cx="580.95" cy="351.03" r="1.35"/><circle cx="585.10" cy="350.59" r="1.35"/><circle cx="589.25" cy="350.06" r="1.35"/><circle cx="593.40" cy="349.46" r="1.35"/><circle cx="597.55" cy="348.86" r="1.35"/><circle cx="601.70" cy="348.27" r="1.35"/><circle cx="605.85" cy="347.68" r="1.35"/><circle cx="610.00" cy="347.20" r="1.35"/><circle cx="614.15" cy="346.85" r="1.35"/><circle cx="618.30" cy="346.57" r="1.35"/><circle cx="622.45" cy="346.33" r="1.35"/><circle cx="626.60" cy="346.13" r="1.35"/><circle cx="630.75" cy="345.97" r="1.35"/><circle cx="634.90" cy="345.85" r="1.35"/><circle cx="639.05" cy="345.73" r="1.35"/></g>
</g>
<g clip-path="url(#cd)">
<polyline points="385.90,372.00 386.37,371.86 386.84,371.72 387.31,371.58 387.77,371.44 388.23,371.30 388.69,371.16 389.15,371.02 389.61,370.88 390.07,370.75 390.53,370.61 391.00,370.47 391.46,370.33 391.93,370.19 392.41,370.05 392.89,369.91 393.38,369.77 393.87,369.63 394.37,369.48 394.88,369.34 395.40,369.20 395.92,369.06 396.45,368.91 396.97,368.77 397.50,368.62 398.03,368.47 398.56,368.32 399.10,368.18 399.64,368.03 400.19,367.88 400.74,367.73 401.31,367.58 401.88,367.44 402.45,367.29 403.04,367.14 403.64,367.00 404.25,366.86 404.87,366.71 405.50,366.57 406.14,366.44 406.80,366.30 407.47,366.17 408.15,366.03 408.84,365.90 409.54,365.77 410.25,365.64 410.96,365.51 411.69,365.38 412.43,365.26 413.18,365.13 413.93,365.01 414.70,364.88 415.47,364.76 416.26,364.64 417.05,364.52 417.85,364.39 418.66,364.27 419.48,364.15 420.31,364.04 421.15,363.92 422.00,363.80 422.86,363.68 423.74,363.57 424.63,363.45 425.54,363.34 426.46,363.22 427.39,363.11 428.34,363.00 429.29,362.88 430.25,362.77 431.21,362.66 432.18,362.55 433.16,362.44 434.13,362.34 435.11,362.23 436.08,362.12 437.05,362.02 438.02,361.91 438.99,361.81 439.95,361.70 440.90,361.60 441.85,361.50 442.80,361.39 443.74,361.29 444.69,361.19 445.64,361.08 446.59,360.98 447.54,360.88 448.49,360.78 449.44,360.67 450.39,360.58 451.34,360.48 452.30,360.38 453.25,360.29 454.20,360.19 455.15,360.10 456.10,360.02 457.05,359.93 458.00,359.85 458.95,359.77 459.90,359.70 460.85,359.63 461.80,359.57 462.75,359.51 463.70,359.46 464.65,359.41 465.60,359.36 466.55,359.32 467.50,359.28 468.45,359.24 469.40,359.20 470.35,359.16 471.30,359.12 472.25,359.08 473.20,359.04 474.15,358.99 475.10,358.94 476.05,358.89 477.00,358.83 477.95,358.77 478.90,358.70 479.86,358.63 480.83,358.55 481.82,358.47 482.81,358.38 483.81,358.29 484.82,358.20 485.82,358.11 486.83,358.01 487.83,357.92 488.83,357.82 489.82,357.72 490.80,357.62 491.76,357.52 492.71,357.41 493.64,357.31 494.54,357.21 495.42,357.10 496.28,357.00 497.11,356.90 497.90,356.80 498.65,356.70 499.36,356.61 500.02,356.51 500.64,356.42 501.23,356.33 501.80,356.24 502.34,356.14 502.87,356.05 503.39,355.96 503.91,355.86 504.42,355.77 504.94,355.66 505.48,355.56 506.03,355.45 506.60,355.34 507.20,355.23 507.84,355.10 508.51,354.98 509.23,354.84 510.00,354.70 510.82,354.55 511.70,354.39 512.63,354.21 513.60,354.03 514.61,353.84 515.65,353.65 516.71,353.45 517.78,353.24 518.87,353.04 519.96,352.83 521.05,352.62 522.13,352.42 523.20,352.22 524.24,352.02 525.26,351.83 526.24,351.64 527.18,351.47 528.08,351.30 528.92,351.14 529.70,351.00 530.42,350.87 531.09,350.74 531.70,350.62 532.27,350.51 532.80,350.40 533.30,350.30 533.77,350.20 534.22,350.10 534.66,350.02 535.08,349.93 535.50,349.85 535.92,349.77 536.35,349.70 536.79,349.62 537.24,349.55 537.73,349.48 538.24,349.41 538.78,349.34 539.37,349.27 540.00,349.20 540.67,349.13 541.36,349.07 542.06,349.00 542.79,348.95 543.53,348.89 544.29,348.83 545.06,348.78 545.85,348.73 546.64,348.68 547.46,348.64 548.28,348.59 549.11,348.55 549.95,348.50 550.80,348.46 551.66,348.42 552.52,348.37 553.38,348.33 554.25,348.29 555.13,348.24 556.00,348.20 556.88,348.16 557.79,348.11 558.71,348.07 559.64,348.02 560.59,347.98 561.54,347.93 562.51,347.89 563.48,347.85 564.46,347.80 565.44,347.76 566.42,347.72 567.40,347.68 568.38,347.64 569.35,347.60 570.32,347.57 571.28,347.53 572.23,347.50 573.17,347.46 574.09,347.43 575.00,347.40 575.89,347.37 576.78,347.34 577.65,347.32 578.51,347.29 579.37,347.26 580.22,347.24 581.06,347.22 581.90,347.20 582.73,347.18 583.56,347.16 584.39,347.14 585.22,347.12 586.06,347.10 586.89,347.09 587.73,347.07 588.57,347.05 589.41,347.04 590.27,347.03 591.13,347.01 592.00,347.00 592.88,346.99 593.77,346.98 594.67,346.97 595.58,346.96 596.50,346.95 597.42,346.95 598.35,346.94 599.27,346.94 600.20,346.93 601.12,346.93 602.05,346.93 602.97,346.93 603.88,346.92 604.79,346.92 605.69,346.92 606.58,346.92 607.45,346.91 608.32,346.91 609.17,346.90 610.00,346.90 610.82,346.89 611.62,346.89 612.41,346.88 613.19,346.88 613.96,346.88 614.72,346.87 615.47,346.86 616.22,346.86 616.95,346.85 617.69,346.85 618.42,346.84 619.14,346.84 619.87,346.83 620.59,346.83 621.32,346.82 622.05,346.82 622.78,346.81 623.51,346.81 624.25,346.80 625.00,346.80 625.75,346.80 626.50,346.79 627.25,346.79 628.00,346.78 628.75,346.78 629.50,346.77 630.25,346.76 631.00,346.76 631.75,346.75 632.50,346.75 633.25,346.75 634.00,346.74 634.75,346.74 635.50,346.73 636.25,346.73 637.00,346.72 637.75,346.72 638.50,346.71 639.25,346.71 640.00,346.70" fill="none" stroke="#b8960c" stroke-width="2.0" stroke-linejoin="round" />
<g fill="#fff" stroke="#b8960c" stroke-width="1.5"><circle cx="385.90" cy="372.00" r="1.35"/><circle cx="390.05" cy="370.75" r="1.35"/><circle cx="394.20" cy="369.53" r="1.35"/><circle cx="398.35" cy="368.38" r="1.35"/><circle cx="402.50" cy="367.28" r="1.35"/><circle cx="406.65" cy="366.33" r="1.35"/><circle cx="410.80" cy="365.54" r="1.35"/><circle cx="414.95" cy="364.84" r="1.35"/><circle cx="419.10" cy="364.21" r="1.35"/><circle cx="423.25" cy="363.63" r="1.35"/><circle cx="427.40" cy="363.11" r="1.35"/><circle cx="431.55" cy="362.62" r="1.35"/><circle cx="435.70" cy="362.16" r="1.35"/><circle cx="439.85" cy="361.71" r="1.35"/><circle cx="444.00" cy="361.26" r="1.35"/><circle cx="448.15" cy="360.81" r="1.35"/><circle cx="452.30" cy="360.38" r="1.35"/><circle cx="456.45" cy="359.99" r="1.35"/><circle cx="460.60" cy="359.65" r="1.35"/><circle cx="464.75" cy="359.40" r="1.35"/><circle cx="468.90" cy="359.22" r="1.35"/><circle cx="473.05" cy="359.04" r="1.35"/><circle cx="477.20" cy="358.82" r="1.35"/><circle cx="481.35" cy="358.50" r="1.35"/><circle cx="485.50" cy="358.14" r="1.35"/><circle cx="489.65" cy="357.74" r="1.35"/><circle cx="493.80" cy="357.29" r="1.35"/><circle cx="497.95" cy="356.79" r="1.35"/><circle cx="502.10" cy="356.18" r="1.35"/><circle cx="506.25" cy="355.41" r="1.35"/><circle cx="510.40" cy="354.63" r="1.35"/><circle cx="514.55" cy="353.85" r="1.35"/><circle cx="518.70" cy="353.07" r="1.35"/><circle cx="522.85" cy="352.28" r="1.35"/><circle cx="527.00" cy="351.50" r="1.35"/><circle cx="531.15" cy="350.73" r="1.35"/><circle cx="535.30" cy="349.89" r="1.35"/><circle cx="539.45" cy="349.26" r="1.35"/><circle cx="543.60" cy="348.88" r="1.35"/><circle cx="547.75" cy="348.62" r="1.35"/><circle cx="551.90" cy="348.41" r="1.35"/><circle cx="556.05" cy="348.20" r="1.35"/><circle cx="560.20" cy="347.99" r="1.35"/><circle cx="564.35" cy="347.81" r="1.35"/><circle cx="568.50" cy="347.64" r="1.35"/><circle cx="572.65" cy="347.48" r="1.35"/><circle cx="576.80" cy="347.34" r="1.35"/><circle cx="580.95" cy="347.22" r="1.35"/><circle cx="585.10" cy="347.12" r="1.35"/><circle cx="589.25" cy="347.04" r="1.35"/><circle cx="593.40" cy="346.98" r="1.35"/><circle cx="597.55" cy="346.95" r="1.35"/><circle cx="601.70" cy="346.93" r="1.35"/><circle cx="605.85" cy="346.92" r="1.35"/><circle cx="610.00" cy="346.90" r="1.35"/><circle cx="614.15" cy="346.87" r="1.35"/><circle cx="618.30" cy="346.85" r="1.35"/><circle cx="622.45" cy="346.82" r="1.35"/><circle cx="626.60" cy="346.79" r="1.35"/><circle cx="630.75" cy="346.76" r="1.35"/><circle cx="634.90" cy="346.73" r="1.35"/><circle cx="639.05" cy="346.71" r="1.35"/></g>
</g>
<g clip-path="url(#cd)">
<polyline points="385.90,364.40 386.75,364.36 387.60,364.31 388.45,364.27 389.29,364.22 390.13,364.18 390.97,364.13 391.81,364.09 392.65,364.04 393.49,364.00 394.33,363.96 395.18,363.91 396.02,363.87 396.87,363.82 397.73,363.78 398.59,363.73 399.46,363.69 400.33,363.64 401.21,363.59 402.10,363.55 403.00,363.50 403.91,363.45 404.82,363.40 405.75,363.35 406.68,363.30 407.62,363.25 408.56,363.20 409.51,363.15 410.47,363.10 411.43,363.05 412.39,363.00 413.35,362.95 414.32,362.90 415.28,362.85 416.25,362.80 417.21,362.75 418.18,362.70 419.14,362.65 420.10,362.60 421.05,362.55 422.00,362.50 422.95,362.45 423.89,362.40 424.84,362.36 425.78,362.31 426.73,362.26 427.67,362.21 428.62,362.17 429.56,362.12 430.51,362.07 431.45,362.02 432.39,361.98 433.34,361.93 434.28,361.89 435.23,361.84 436.17,361.80 437.12,361.76 438.06,361.72 439.01,361.68 439.95,361.64 440.90,361.60 441.85,361.56 442.80,361.53 443.74,361.49 444.69,361.45 445.64,361.41 446.59,361.38 447.54,361.34 448.49,361.31 449.44,361.28 450.39,361.24 451.34,361.21 452.30,361.18 453.25,361.15 454.20,361.13 455.15,361.10 456.10,361.08 457.05,361.05 458.00,361.03 458.95,361.02 459.90,361.00 460.85,360.99 461.80,360.98 462.75,360.97 463.70,360.96 464.65,360.96 465.60,360.96 466.55,360.96 467.50,360.96 468.45,360.96 469.40,360.96 470.35,360.97 471.30,360.97 472.25,360.98 473.20,360.98 474.15,360.99 475.10,360.99 476.05,360.99 477.00,361.00 477.95,361.00 478.90,361.00 479.86,361.00 480.83,361.00 481.82,361.00 482.81,361.00 483.81,361.01 484.82,361.01 485.82,361.01 486.83,361.01 487.83,361.02 488.83,361.02 489.82,361.02 490.80,361.02 491.76,361.02 492.71,361.02 493.64,361.02 494.54,361.02 495.42,361.02 496.28,361.01 497.11,361.01 497.90,361.00 498.65,360.99 499.36,360.98 500.02,360.97 500.64,360.96 501.23,360.95 501.80,360.94 502.34,360.92 502.87,360.91 503.39,360.89 503.91,360.88 504.42,360.86 504.94,360.84 505.48,360.82 506.03,360.81 506.60,360.79 507.20,360.77 507.84,360.75 508.51,360.74 509.23,360.72 510.00,360.70 510.82,360.68 511.70,360.66 512.63,360.65 513.60,360.63 514.61,360.61 515.65,360.59 516.71,360.57 517.78,360.55 518.87,360.53 519.96,360.51 521.05,360.49 522.13,360.47 523.20,360.45 524.24,360.43 525.26,360.41 526.24,360.39 527.18,360.37 528.08,360.34 528.92,360.32 529.70,360.30 530.42,360.28 531.09,360.26 531.70,360.24 532.27,360.23 532.80,360.22 533.30,360.20 533.77,360.19 534.22,360.18 534.66,360.17 535.08,360.15 535.50,360.13 535.92,360.11 536.35,360.09 536.79,360.06 537.24,360.03 537.73,360.00 538.24,359.96 538.78,359.91 539.37,359.86 540.00,359.80 540.67,359.73 541.38,359.66 542.11,359.58 542.87,359.50 543.65,359.41 544.44,359.32 545.26,359.22 546.09,359.12 546.92,359.01 547.77,358.91 548.62,358.80 549.47,358.69 550.32,358.57 551.17,358.46 552.01,358.35 552.84,358.24 553.65,358.13 554.46,358.01 555.24,357.91 556.00,357.80 556.74,357.70 557.45,357.59 558.13,357.49 558.80,357.39 559.45,357.28 560.10,357.18 560.73,357.08 561.36,356.97 561.99,356.87 562.62,356.76 563.27,356.66 563.92,356.55 564.59,356.44 565.27,356.33 565.98,356.21 566.72,356.09 567.49,355.98 568.28,355.85 569.12,355.73 570.00,355.60 570.92,355.47 571.88,355.33 572.89,355.18 573.92,355.03 574.98,354.88 576.07,354.72 577.19,354.56 578.32,354.40 579.47,354.24 580.62,354.07 581.79,353.91 582.96,353.75 584.13,353.59 585.29,353.44 586.45,353.28 587.60,353.14 588.73,352.99 589.85,352.86 590.94,352.72 592.00,352.60 593.05,352.48 594.11,352.37 595.18,352.26 596.24,352.15 597.30,352.05 598.37,351.95 599.43,351.85 600.48,351.76 601.53,351.66 602.56,351.58 603.59,351.49 604.60,351.40 605.60,351.32 606.58,351.24 607.54,351.17 608.48,351.09 609.40,351.02 610.29,350.94 611.16,350.87 612.00,350.80 612.81,350.73 613.57,350.67 614.31,350.60 615.02,350.55 615.70,350.49 616.35,350.43 616.99,350.38 617.61,350.33 618.22,350.28 618.81,350.24 619.40,350.19 619.99,350.15 620.58,350.10 621.17,350.06 621.77,350.02 622.38,349.97 623.01,349.93 623.65,349.89 624.31,349.84 625.00,349.80 625.70,349.76 626.42,349.71 627.14,349.67 627.87,349.63 628.61,349.59 629.35,349.55 630.10,349.51 630.86,349.47 631.61,349.43 632.38,349.39 633.14,349.35 633.90,349.31 634.67,349.27 635.44,349.23 636.20,349.20 636.97,349.16 637.73,349.12 638.49,349.08 639.25,349.04 640.00,349.00" fill="none" stroke="#3f86d6" stroke-width="2.0" stroke-linejoin="round" />
<g fill="#fff" stroke="#3f86d6" stroke-width="1.5"><circle cx="385.90" cy="364.40" r="1.35"/><circle cx="390.05" cy="364.18" r="1.35"/><circle cx="394.20" cy="363.96" r="1.35"/><circle cx="398.35" cy="363.74" r="1.35"/><circle cx="402.50" cy="363.53" r="1.35"/><circle cx="406.65" cy="363.31" r="1.35"/><circle cx="410.80" cy="363.08" r="1.35"/><circle cx="414.95" cy="362.86" r="1.35"/><circle cx="419.10" cy="362.65" r="1.35"/><circle cx="423.25" cy="362.44" r="1.35"/><circle cx="427.40" cy="362.23" r="1.35"/><circle cx="431.55" cy="362.02" r="1.35"/><circle cx="435.70" cy="361.82" r="1.35"/><circle cx="439.85" cy="361.64" r="1.35"/><circle cx="444.00" cy="361.48" r="1.35"/><circle cx="448.15" cy="361.32" r="1.35"/><circle cx="452.30" cy="361.18" r="1.35"/><circle cx="456.45" cy="361.07" r="1.35"/><circle cx="460.60" cy="360.99" r="1.35"/><circle cx="464.75" cy="360.96" r="1.35"/><circle cx="468.90" cy="360.96" r="1.35"/><circle cx="473.05" cy="360.98" r="1.35"/><circle cx="477.20" cy="361.00" r="1.35"/><circle cx="481.35" cy="361.00" r="1.35"/><circle cx="485.50" cy="361.01" r="1.35"/><circle cx="489.65" cy="361.02" r="1.35"/><circle cx="493.80" cy="361.02" r="1.35"/><circle cx="497.95" cy="361.00" r="1.35"/><circle cx="502.10" cy="360.93" r="1.35"/><circle cx="506.25" cy="360.80" r="1.35"/><circle cx="510.40" cy="360.69" r="1.35"/><circle cx="514.55" cy="360.61" r="1.35"/><circle cx="518.70" cy="360.54" r="1.35"/><circle cx="522.85" cy="360.46" r="1.35"/><circle cx="527.00" cy="360.37" r="1.35"/><circle cx="531.15" cy="360.26" r="1.35"/><circle cx="535.30" cy="360.14" r="1.35"/><circle cx="539.45" cy="359.85" r="1.35"/><circle cx="543.60" cy="359.42" r="1.35"/><circle cx="547.75" cy="358.91" r="1.35"/><circle cx="551.90" cy="358.36" r="1.35"/><circle cx="556.05" cy="357.79" r="1.35"/><circle cx="560.20" cy="357.16" r="1.35"/><circle cx="564.35" cy="356.48" r="1.35"/><circle cx="568.50" cy="355.82" r="1.35"/><circle cx="572.65" cy="355.22" r="1.35"/><circle cx="576.80" cy="354.62" r="1.35"/><circle cx="580.95" cy="354.03" r="1.35"/><circle cx="585.10" cy="353.46" r="1.35"/><circle cx="589.25" cy="352.93" r="1.35"/><circle cx="593.40" cy="352.44" r="1.35"/><circle cx="597.55" cy="352.02" r="1.35"/><circle cx="601.70" cy="351.65" r="1.35"/><circle cx="605.85" cy="351.30" r="1.35"/><circle cx="610.00" cy="350.97" r="1.35"/><circle cx="614.15" cy="350.62" r="1.35"/><circle cx="618.30" cy="350.28" r="1.35"/><circle cx="622.45" cy="349.97" r="1.35"/><circle cx="626.60" cy="349.70" r="1.35"/><circle cx="630.75" cy="349.47" r="1.35"/><circle cx="634.90" cy="349.26" r="1.35"/><circle cx="639.05" cy="349.05" r="1.35"/></g>
</g>
<g clip-path="url(#cd)">
<polyline points="385.90,357.40 386.75,357.35 387.60,357.29 388.45,357.24 389.29,357.19 390.13,357.14 390.97,357.09 391.81,357.04 392.65,356.99 393.49,356.94 394.33,356.89 395.18,356.84 396.02,356.79 396.87,356.74 397.73,356.68 398.59,356.62 399.46,356.56 400.33,356.50 401.21,356.44 402.10,356.37 403.00,356.30 403.91,356.22 404.82,356.14 405.75,356.06 406.68,355.96 407.62,355.87 408.56,355.77 409.51,355.67 410.47,355.57 411.43,355.47 412.39,355.36 413.35,355.26 414.32,355.16 415.28,355.06 416.25,354.97 417.21,354.88 418.18,354.79 419.14,354.71 420.10,354.63 421.05,354.56 422.00,354.50 422.95,354.45 423.89,354.40 424.84,354.35 425.78,354.32 426.73,354.28 427.67,354.25 428.62,354.22 429.56,354.20 430.51,354.18 431.45,354.16 432.39,354.15 433.34,354.13 434.28,354.12 435.23,354.10 436.17,354.09 437.12,354.07 438.06,354.06 439.01,354.04 439.95,354.02 440.90,354.00 441.85,353.98 442.80,353.96 443.74,353.93 444.69,353.91 445.64,353.89 446.59,353.87 447.54,353.84 448.49,353.82 449.44,353.80 450.39,353.78 451.34,353.76 452.30,353.74 453.25,353.72 454.20,353.70 455.15,353.68 456.10,353.67 457.05,353.65 458.00,353.63 458.95,353.62 459.90,353.60 460.85,353.59 461.80,353.57 462.75,353.56 463.70,353.55 464.65,353.54 465.60,353.53 466.55,353.52 467.50,353.52 468.45,353.51 469.40,353.50 470.35,353.49 471.30,353.48 472.25,353.48 473.20,353.47 474.15,353.46 475.10,353.45 476.05,353.44 477.00,353.43 477.95,353.41 478.90,353.40 479.86,353.38 480.83,353.37 481.82,353.35 482.81,353.34 483.81,353.32 484.82,353.30 485.82,353.28 486.83,353.26 487.83,353.24 488.83,353.23 489.82,353.20 490.80,353.18 491.76,353.16 492.71,353.14 493.64,353.12 494.54,353.10 495.42,353.07 496.28,353.05 497.11,353.02 497.90,353.00 498.65,352.98 499.36,352.95 500.02,352.93 500.64,352.90 501.23,352.88 501.80,352.85 502.34,352.83 502.87,352.80 503.39,352.78 503.91,352.75 504.42,352.72 504.94,352.69 505.48,352.66 506.03,352.63 506.60,352.60 507.20,352.56 507.84,352.52 508.51,352.49 509.23,352.44 510.00,352.40 510.82,352.35 511.70,352.30 512.63,352.25 513.60,352.19 514.61,352.14 515.65,352.07 516.71,352.01 517.78,351.95 518.87,351.88 519.96,351.82 521.05,351.75 522.13,351.69 523.20,351.62 524.24,351.56 525.26,351.49 526.24,351.43 527.18,351.37 528.08,351.31 528.92,351.25 529.70,351.20 530.42,351.15 531.09,351.09 531.70,351.04 532.27,350.99 532.80,350.94 533.30,350.89 533.77,350.83 534.22,350.78 534.66,350.74 535.08,350.69 535.50,350.64 535.92,350.60 536.35,350.55 536.79,350.51 537.24,350.47 537.73,350.43 538.24,350.39 538.78,350.36 539.37,350.33 540.00,350.30 540.67,350.27 541.36,350.25 542.06,350.23 542.79,350.21 543.53,350.20 544.29,350.18 545.06,350.17 545.85,350.16 546.64,350.15 547.46,350.14 548.28,350.14 549.11,350.13 549.95,350.13 550.80,350.12 551.66,350.12 552.52,350.12 553.38,350.11 554.25,350.11 555.13,350.10 556.00,350.10 556.88,350.10 557.79,350.09 558.71,350.09 559.64,350.09 560.59,350.09 561.54,350.09 562.51,350.09 563.48,350.09 564.46,350.09 565.44,350.09 566.42,350.10 567.40,350.10 568.38,350.10 569.35,350.10 570.32,350.10 571.28,350.10 572.23,350.10 573.17,350.10 574.09,350.10 575.00,350.10 575.91,350.10 576.82,350.09 577.74,350.09 578.67,350.09 579.60,350.08 580.53,350.08 581.46,350.08 582.38,350.07 583.29,350.07 584.19,350.06 585.07,350.06 585.94,350.05 586.80,350.05 587.62,350.04 588.43,350.03 589.21,350.03 589.96,350.02 590.67,350.01 591.36,350.01 592.00,350.00 592.60,349.99 593.15,349.99 593.65,349.98 594.11,349.98 594.54,349.97 594.94,349.97 595.31,349.96 595.66,349.96 595.99,349.95 596.31,349.94 596.63,349.94 596.94,349.93 597.26,349.92 597.59,349.91 597.93,349.89 598.29,349.88 598.67,349.86 599.08,349.84 599.52,349.82 600.00,349.80 600.51,349.77 601.03,349.75 601.57,349.71 602.13,349.68 602.70,349.65 603.27,349.61 603.86,349.57 604.46,349.53 605.07,349.49 605.69,349.45 606.31,349.41 606.94,349.36 607.57,349.32 608.20,349.27 608.84,349.23 609.47,349.18 610.11,349.14 610.74,349.09 611.37,349.05 612.00,349.00 612.63,348.95 613.25,348.91 613.88,348.86 614.50,348.81 615.13,348.76 615.76,348.71 616.40,348.66 617.03,348.61 617.67,348.56 618.31,348.51 618.96,348.46 619.61,348.41 620.26,348.36 620.92,348.31 621.59,348.25 622.26,348.20 622.93,348.15 623.61,348.10 624.30,348.05 625.00,348.00 625.70,347.95 626.42,347.90 627.14,347.85 627.87,347.80 628.61,347.75 629.35,347.70 630.10,347.65 630.86,347.60 631.61,347.55 632.38,347.50 633.14,347.45 633.90,347.40 634.67,347.35 635.44,347.30 636.20,347.25 636.97,347.20 637.73,347.15 638.49,347.10 639.25,347.05 640.00,347.00" fill="none" stroke="#404040" stroke-width="2.0" stroke-linejoin="round" />
<g fill="#fff" stroke="#404040" stroke-width="1.5"><circle cx="385.90" cy="357.40" r="1.35"/><circle cx="390.05" cy="357.15" r="1.35"/><circle cx="394.20" cy="356.90" r="1.35"/><circle cx="398.35" cy="356.64" r="1.35"/><circle cx="402.50" cy="356.34" r="1.35"/><circle cx="406.65" cy="355.97" r="1.35"/><circle cx="410.80" cy="355.53" r="1.35"/><circle cx="414.95" cy="355.10" r="1.35"/><circle cx="419.10" cy="354.71" r="1.35"/><circle cx="423.25" cy="354.43" r="1.35"/><circle cx="427.40" cy="354.26" r="1.35"/><circle cx="431.55" cy="354.16" r="1.35"/><circle cx="435.70" cy="354.09" r="1.35"/><circle cx="439.85" cy="354.02" r="1.35"/><circle cx="444.00" cy="353.93" r="1.35"/><circle cx="448.15" cy="353.83" r="1.35"/><circle cx="452.30" cy="353.74" r="1.35"/><circle cx="456.45" cy="353.66" r="1.35"/><circle cx="460.60" cy="353.59" r="1.35"/><circle cx="464.75" cy="353.54" r="1.35"/><circle cx="468.90" cy="353.50" r="1.35"/><circle cx="473.05" cy="353.47" r="1.35"/><circle cx="477.20" cy="353.42" r="1.35"/><circle cx="481.35" cy="353.36" r="1.35"/><circle cx="485.50" cy="353.29" r="1.35"/><circle cx="489.65" cy="353.21" r="1.35"/><circle cx="493.80" cy="353.11" r="1.35"/><circle cx="497.95" cy="353.00" r="1.35"/><circle cx="502.10" cy="352.84" r="1.35"/><circle cx="506.25" cy="352.62" r="1.35"/><circle cx="510.40" cy="352.38" r="1.35"/><circle cx="514.55" cy="352.14" r="1.35"/><circle cx="518.70" cy="351.89" r="1.35"/><circle cx="522.85" cy="351.64" r="1.35"/><circle cx="527.00" cy="351.38" r="1.35"/><circle cx="531.15" cy="351.09" r="1.35"/><circle cx="535.30" cy="350.66" r="1.35"/><circle cx="539.45" cy="350.33" r="1.35"/><circle cx="543.60" cy="350.19" r="1.35"/><circle cx="547.75" cy="350.14" r="1.35"/><circle cx="551.90" cy="350.12" r="1.35"/><circle cx="556.05" cy="350.10" r="1.35"/><circle cx="560.20" cy="350.09" r="1.35"/><circle cx="564.35" cy="350.09" r="1.35"/><circle cx="568.50" cy="350.10" r="1.35"/><circle cx="572.65" cy="350.10" r="1.35"/><circle cx="576.80" cy="350.09" r="1.35"/><circle cx="580.95" cy="350.08" r="1.35"/><circle cx="585.10" cy="350.06" r="1.35"/><circle cx="589.25" cy="350.03" r="1.35"/><circle cx="593.40" cy="349.98" r="1.35"/><circle cx="597.55" cy="349.91" r="1.35"/><circle cx="601.70" cy="349.71" r="1.35"/><circle cx="605.85" cy="349.44" r="1.35"/><circle cx="610.00" cy="349.14" r="1.35"/><circle cx="614.15" cy="348.84" r="1.35"/><circle cx="618.30" cy="348.51" r="1.35"/><circle cx="622.45" cy="348.19" r="1.35"/><circle cx="626.60" cy="347.89" r="1.35"/><circle cx="630.75" cy="347.61" r="1.35"/><circle cx="634.90" cy="347.34" r="1.35"/><circle cx="639.05" cy="347.06" r="1.35"/></g>
</g>
<g clip-path="url(#cd)">
<polyline points="385.90,514.70 386.75,514.91 387.60,515.12 388.45,515.33 389.29,515.54 390.13,515.75 390.97,515.95 391.81,516.16 392.65,516.37 393.49,516.58 394.33,516.79 395.18,517.00 396.02,517.21 396.87,517.42 397.73,517.63 398.59,517.84 399.46,518.05 400.33,518.26 401.21,518.47 402.10,518.69 403.00,518.90 403.91,519.12 404.82,519.33 405.75,519.55 406.68,519.78 407.62,520.00 408.56,520.22 409.51,520.45 410.47,520.67 411.43,520.90 412.39,521.12 413.35,521.35 414.32,521.57 415.28,521.80 416.25,522.02 417.21,522.24 418.18,522.46 419.14,522.67 420.10,522.88 421.05,523.09 422.00,523.30 422.95,523.50 423.89,523.71 424.84,523.91 425.78,524.12 426.73,524.32 427.67,524.52 428.62,524.72 429.56,524.92 430.51,525.12 431.45,525.31 432.39,525.51 433.34,525.70 434.28,525.88 435.23,526.07 436.17,526.25 437.12,526.43 438.06,526.60 439.01,526.77 439.95,526.94 440.90,527.10 441.85,527.26 442.80,527.41 443.74,527.56 444.69,527.71 445.64,527.85 446.59,527.99 447.54,528.13 448.49,528.26 449.44,528.39 450.39,528.52 451.34,528.64 452.30,528.77 453.25,528.89 454.20,529.01 455.15,529.13 456.10,529.24 457.05,529.36 458.00,529.47 458.95,529.59 459.90,529.70 460.85,529.81 461.80,529.92 462.75,530.03 463.70,530.14 464.65,530.24 465.60,530.34 466.55,530.44 467.50,530.54 468.45,530.64 469.40,530.74 470.35,530.83 471.30,530.92 472.25,531.01 473.20,531.10 474.15,531.19 475.10,531.28 476.05,531.36 477.00,531.44 477.95,531.52 478.90,531.60 479.86,531.68 480.83,531.75 481.82,531.83 482.81,531.90 483.81,531.98 484.82,532.05 485.82,532.12 486.83,532.19 487.83,532.25 488.83,532.32 489.82,532.38 490.80,532.44 491.76,532.50 492.71,532.55 493.64,532.60 494.54,532.65 495.42,532.69 496.28,532.73 497.11,532.77 497.90,532.80 498.66,532.83 499.39,532.85 500.09,532.87 500.77,532.89 501.42,532.90 502.05,532.91 502.66,532.91 503.25,532.92 503.83,532.92 504.40,532.91 504.96,532.91 505.51,532.90 506.06,532.89 506.61,532.88 507.16,532.87 507.71,532.86 508.27,532.84 508.83,532.83 509.41,532.81 510.00,532.80 510.60,532.78 511.19,532.76 511.79,532.72 512.38,532.69 512.97,532.65 513.56,532.60 514.15,532.55 514.74,532.51 515.32,532.46 515.91,532.41 516.50,532.37 517.09,532.32 517.67,532.29 518.26,532.25 518.85,532.22 519.44,532.20 520.03,532.19 520.62,532.18 521.21,532.19 521.80,532.20 522.39,532.22 522.99,532.26 523.58,532.30 524.18,532.34 524.77,532.40 525.37,532.45 525.96,532.52 526.56,532.59 527.15,532.66 527.75,532.74 528.35,532.82 528.94,532.90 529.54,532.99 530.13,533.07 530.73,533.16 531.32,533.25 531.92,533.34 532.51,533.43 533.11,533.51 533.70,533.60 534.29,533.69 534.88,533.78 535.48,533.87 536.07,533.96 536.66,534.06 537.25,534.15 537.84,534.25 538.43,534.35 539.02,534.45 539.61,534.56 540.20,534.66 540.78,534.76 541.37,534.87 541.96,534.97 542.55,535.08 543.14,535.18 543.73,535.29 544.32,535.39 544.91,535.50 545.50,535.60 546.09,535.70 546.68,535.80 547.27,535.91 547.86,536.01 548.45,536.11 549.04,536.21 549.63,536.32 550.22,536.42 550.81,536.52 551.40,536.63 551.99,536.73 552.58,536.83 553.17,536.94 553.76,537.04 554.35,537.15 554.94,537.26 555.53,537.37 556.12,537.48 556.71,537.59 557.30,537.70 557.89,537.81 558.48,537.93 559.07,538.05 559.66,538.17 560.25,538.29 560.84,538.41 561.43,538.53 562.02,538.66 562.60,538.78 563.19,538.91 563.78,539.03 564.37,539.15 564.96,539.28 565.55,539.40 566.14,539.52 566.73,539.64 567.32,539.76 567.92,539.87 568.51,539.99 569.10,540.10 569.69,540.21 570.29,540.32 570.88,540.42 571.48,540.53 572.07,540.63 572.67,540.73 573.26,540.83 573.86,540.93 574.45,541.03 575.05,541.13 575.65,541.23 576.24,541.33 576.84,541.42 577.43,541.52 578.03,541.62 578.62,541.71 579.22,541.81 579.81,541.91 580.41,542.00 581.00,542.10 581.59,542.20 582.18,542.29 582.78,542.39 583.37,542.48 583.96,542.58 584.55,542.67 585.14,542.77 585.73,542.86 586.32,542.96 586.91,543.05 587.50,543.14 588.08,543.24 588.67,543.33 589.26,543.43 589.85,543.52 590.44,543.62 591.03,543.71 591.62,543.81 592.21,543.90 592.80,544.00 593.39,544.10 593.98,544.20 594.57,544.30 595.16,544.40 595.75,544.51 596.34,544.61 596.93,544.72 597.52,544.82 598.11,544.93 598.70,545.03 599.29,545.14 599.88,545.24 600.47,545.34 601.06,545.44 601.65,545.54 602.24,545.64 602.83,545.73 603.42,545.82 604.01,545.91 604.60,546.00 605.19,546.08 605.78,546.17 606.37,546.24 606.96,546.32 607.55,546.40 608.14,546.47 608.73,546.54 609.32,546.61 609.91,546.68 610.50,546.75 611.09,546.82 611.68,546.88 612.27,546.95 612.86,547.01 613.45,547.08 614.04,547.14 614.63,547.21 615.22,547.27 615.81,547.34 616.40,547.40 616.99,547.46 617.58,547.53 618.18,547.59 618.78,547.66 619.37,547.72 619.97,547.79 620.57,547.85 621.17,547.91 621.77,547.98 622.36,548.04 622.96,548.10 623.55,548.16 624.14,548.22 624.73,548.28 625.32,548.33 625.90,548.39 626.48,548.44 627.06,548.50 627.63,548.55 628.20,548.60 628.76,548.65 629.32,548.70 629.87,548.74 630.42,548.79 630.97,548.83 631.51,548.87 632.05,548.91 632.59,548.95 633.13,548.99 633.66,549.02 634.20,549.06 634.73,549.10 635.26,549.14 635.79,549.17 636.32,549.21 636.86,549.25 637.39,549.28 637.92,549.32 638.46,549.36 639.00,549.40" fill="none" stroke="#e8676c" stroke-width="2.0" stroke-linejoin="round" />
<g fill="#fff" stroke="#e8676c" stroke-width="1.5"><circle cx="385.90" cy="514.70" r="1.35"/><circle cx="390.05" cy="515.73" r="1.35"/><circle cx="394.20" cy="516.75" r="1.35"/><circle cx="398.35" cy="517.78" r="1.35"/><circle cx="402.50" cy="518.78" r="1.35"/><circle cx="406.65" cy="519.77" r="1.35"/><circle cx="410.80" cy="520.75" r="1.35"/><circle cx="414.95" cy="521.72" r="1.35"/><circle cx="419.10" cy="522.66" r="1.35"/><circle cx="423.25" cy="523.57" r="1.35"/><circle cx="427.40" cy="524.46" r="1.35"/><circle cx="431.55" cy="525.33" r="1.35"/><circle cx="435.70" cy="526.16" r="1.35"/><circle cx="439.85" cy="526.92" r="1.35"/><circle cx="444.00" cy="527.60" r="1.35"/><circle cx="448.15" cy="528.21" r="1.35"/><circle cx="452.30" cy="528.77" r="1.35"/><circle cx="456.45" cy="529.29" r="1.35"/><circle cx="460.60" cy="529.78" r="1.35"/><circle cx="464.75" cy="530.25" r="1.35"/><circle cx="468.90" cy="530.69" r="1.35"/><circle cx="473.05" cy="531.09" r="1.35"/><circle cx="477.20" cy="531.46" r="1.35"/><circle cx="481.35" cy="531.79" r="1.35"/><circle cx="485.50" cy="532.10" r="1.35"/><circle cx="489.65" cy="532.37" r="1.35"/><circle cx="493.80" cy="532.61" r="1.35"/><circle cx="497.95" cy="532.80" r="1.35"/><circle cx="502.10" cy="532.91" r="1.35"/><circle cx="506.25" cy="532.89" r="1.35"/><circle cx="510.40" cy="532.79" r="1.35"/><circle cx="514.55" cy="532.52" r="1.35"/><circle cx="518.70" cy="532.23" r="1.35"/><circle cx="522.85" cy="532.25" r="1.35"/><circle cx="527.00" cy="532.64" r="1.35"/><circle cx="531.15" cy="533.22" r="1.35"/><circle cx="535.30" cy="533.84" r="1.35"/><circle cx="539.45" cy="534.53" r="1.35"/><circle cx="543.60" cy="535.27" r="1.35"/><circle cx="547.75" cy="535.99" r="1.35"/><circle cx="551.90" cy="536.71" r="1.35"/><circle cx="556.05" cy="537.46" r="1.35"/><circle cx="560.20" cy="538.28" r="1.35"/><circle cx="564.35" cy="539.15" r="1.35"/><circle cx="568.50" cy="539.99" r="1.35"/><circle cx="572.65" cy="540.73" r="1.35"/><circle cx="576.80" cy="541.42" r="1.35"/><circle cx="580.95" cy="542.09" r="1.35"/><circle cx="585.10" cy="542.76" r="1.35"/><circle cx="589.25" cy="543.42" r="1.35"/><circle cx="593.40" cy="544.10" r="1.35"/><circle cx="597.55" cy="544.83" r="1.35"/><circle cx="601.70" cy="545.55" r="1.35"/><circle cx="605.85" cy="546.17" r="1.35"/><circle cx="610.00" cy="546.69" r="1.35"/><circle cx="614.15" cy="547.15" r="1.35"/><circle cx="618.30" cy="547.61" r="1.35"/><circle cx="622.45" cy="548.05" r="1.35"/><circle cx="626.60" cy="548.45" r="1.35"/><circle cx="630.75" cy="548.81" r="1.35"/><circle cx="634.90" cy="549.11" r="1.35"/></g>
</g>
<g clip-path="url(#cd)">
<polyline points="385.90,489.50 386.37,489.78 386.84,490.06 387.31,490.34 387.77,490.62 388.23,490.89 388.69,491.16 389.15,491.44 389.61,491.71 390.07,491.98 390.53,492.26 391.00,492.53 391.46,492.81 391.93,493.09 392.41,493.38 392.89,493.67 393.38,493.96 393.87,494.26 394.37,494.57 394.88,494.88 395.40,495.20 395.93,495.53 396.46,495.87 397.01,496.22 397.56,496.58 398.12,496.94 398.68,497.32 399.25,497.69 399.82,498.07 400.40,498.45 400.98,498.84 401.56,499.22 402.15,499.60 402.73,499.98 403.32,500.35 403.91,500.71 404.49,501.07 405.07,501.42 405.65,501.76 406.23,502.09 406.80,502.40 407.37,502.70 407.94,503.00 408.51,503.28 409.08,503.56 409.65,503.83 410.22,504.09 410.79,504.35 411.36,504.61 411.94,504.85 412.51,505.10 413.08,505.34 413.65,505.58 414.22,505.82 414.79,506.06 415.36,506.30 415.93,506.53 416.50,506.77 417.06,507.01 417.63,507.25 418.20,507.50 418.77,507.75 419.33,508.00 419.90,508.25 420.46,508.50 421.03,508.75 421.59,509.00 422.16,509.25 422.72,509.49 423.29,509.74 423.85,509.99 424.41,510.23 424.98,510.47 425.54,510.71 426.11,510.95 426.67,511.18 427.24,511.42 427.80,511.64 428.37,511.87 428.93,512.09 429.50,512.30 430.07,512.51 430.64,512.72 431.20,512.93 431.77,513.14 432.34,513.34 432.91,513.54 433.48,513.74 434.05,513.94 434.62,514.13 435.19,514.32 435.76,514.51 436.34,514.70 436.91,514.87 437.48,515.05 438.05,515.22 438.62,515.39 439.19,515.55 439.76,515.70 440.33,515.85 440.90,516.00 441.47,516.14 442.04,516.27 442.61,516.40 443.18,516.53 443.75,516.65 444.32,516.76 444.89,516.87 445.46,516.98 446.03,517.08 446.60,517.17 447.17,517.27 447.74,517.36 448.31,517.45 448.88,517.53 449.45,517.62 450.02,517.70 450.59,517.78 451.16,517.85 451.73,517.93 452.30,518.00 452.87,518.07 453.44,518.13 454.01,518.19 454.58,518.25 455.15,518.30 455.72,518.35 456.29,518.40 456.86,518.44 457.43,518.48 458.00,518.52 458.57,518.56 459.14,518.59 459.71,518.63 460.28,518.66 460.85,518.70 461.42,518.74 461.99,518.78 462.56,518.81 463.13,518.86 463.70,518.90 464.27,518.94 464.84,518.99 465.41,519.03 465.98,519.07 466.55,519.11 467.12,519.15 467.69,519.19 468.26,519.23 468.83,519.27 469.40,519.31 469.97,519.35 470.54,519.39 471.11,519.43 471.68,519.48 472.25,519.53 472.82,519.58 473.39,519.63 473.96,519.68 474.53,519.74 475.10,519.80 475.67,519.86 476.24,519.93 476.81,519.99 477.38,520.06 477.95,520.13 478.52,520.20 479.09,520.27 479.66,520.34 480.23,520.42 480.80,520.49 481.37,520.57 481.94,520.65 482.51,520.74 483.08,520.82 483.65,520.91 484.22,521.00 484.79,521.10 485.36,521.20 485.93,521.30 486.50,521.40 487.07,521.50 487.64,521.61 488.21,521.71 488.78,521.82 489.35,521.92 489.92,522.03 490.49,522.14 491.06,522.25 491.64,522.37 492.21,522.49 492.78,522.61 493.35,522.74 493.92,522.87 494.49,523.01 495.06,523.16 495.63,523.31 496.20,523.47 496.76,523.64 497.33,523.81 497.90,524.00 498.47,524.19 499.03,524.40 499.59,524.61 500.15,524.83 500.70,525.06 501.26,525.30 501.81,525.54 502.36,525.79 502.92,526.04 503.47,526.30 504.03,526.56 504.59,526.83 505.15,527.10 505.72,527.37 506.29,527.64 506.86,527.91 507.44,528.18 508.02,528.46 508.61,528.73 509.20,529.00 509.80,529.27 510.41,529.55 511.03,529.84 511.65,530.13 512.27,530.43 512.91,530.73 513.54,531.03 514.18,531.33 514.82,531.64 515.46,531.94 516.11,532.25 516.75,532.55 517.39,532.85 518.03,533.15 518.67,533.44 519.30,533.72 519.94,534.00 520.56,534.28 521.18,534.54 521.80,534.80 522.41,535.05 523.02,535.29 523.62,535.53 524.23,535.77 524.83,536.00 525.42,536.22 526.02,536.44 526.62,536.66 527.21,536.88 527.80,537.09 528.39,537.30 528.98,537.50 529.57,537.71 530.16,537.91 530.75,538.11 531.34,538.31 531.93,538.51 532.52,538.71 533.11,538.90 533.70,539.10 534.29,539.30 534.88,539.49 535.48,539.68 536.07,539.88 536.66,540.07 537.25,540.25 537.84,540.44 538.43,540.62 539.02,540.81 539.61,540.99 540.20,541.17 540.78,541.34 541.37,541.52 541.96,541.69 542.55,541.87 543.14,542.04 543.73,542.20 544.32,542.37 544.91,542.54 545.50,542.70 546.09,542.86 546.68,543.02 547.27,543.18 547.86,543.34 548.45,543.50 549.04,543.66 549.63,543.81 550.22,543.96 550.81,544.11 551.40,544.26 551.99,544.41 552.58,544.55 553.17,544.69 553.76,544.83 554.35,544.97 554.94,545.10 555.53,545.23 556.12,545.36 556.71,545.48 557.30,545.60 557.89,545.72 558.48,545.83 559.07,545.94 559.66,546.04 560.25,546.14 560.84,546.24 561.43,546.34 562.02,546.43 562.60,546.52 563.19,546.61 563.78,546.69 564.37,546.78 564.96,546.86 565.55,546.94 566.14,547.02 566.73,547.10 567.32,547.17 567.92,547.25 568.51,547.32 569.10,547.40 569.69,547.47 570.29,547.55 570.88,547.62 571.48,547.68 572.07,547.75 572.67,547.82 573.26,547.88 573.86,547.94 574.45,548.00 575.05,548.06 575.65,548.12 576.24,548.18 576.84,548.23 577.43,548.29 578.03,548.34 578.62,548.40 579.22,548.45 579.81,548.50 580.41,548.55 581.00,548.60 581.59,548.65 582.18,548.70 582.78,548.74 583.37,548.79 583.96,548.83 584.55,548.88 585.14,548.92 585.73,548.96 586.32,549.00 586.91,549.04 587.50,549.08 588.08,549.11 588.67,549.15 589.26,549.19 589.85,549.22 590.44,549.26 591.03,549.29 591.62,549.33 592.21,549.36 592.80,549.40 593.39,549.43 593.98,549.47 594.57,549.50 595.16,549.54 595.75,549.57 596.34,549.60 596.93,549.63 597.52,549.66 598.11,549.69 598.70,549.73 599.29,549.75 599.88,549.78 600.47,549.81 601.06,549.84 601.65,549.87 602.24,549.90 602.83,549.92 603.42,549.95 604.01,549.97 604.60,550.00 605.19,550.02 605.78,550.05 606.37,550.07 606.96,550.10 607.55,550.12 608.14,550.15 608.73,550.17 609.32,550.19 609.91,550.22 610.50,550.24 611.09,550.26 611.68,550.28 612.27,550.30 612.86,550.32 613.45,550.33 614.04,550.35 614.63,550.36 615.22,550.38 615.81,550.39 616.40,550.40 616.99,550.41 617.58,550.42 618.18,550.43 618.78,550.43 619.37,550.44 619.97,550.44 620.57,550.45 621.17,550.45 621.77,550.45 622.36,550.45 622.96,550.45 623.55,550.45 624.14,550.45 624.73,550.44 625.32,550.44 625.90,550.43 626.48,550.43 627.06,550.42 627.63,550.41 628.20,550.40 628.76,550.39 629.32,550.38 629.87,550.36 630.42,550.35 630.97,550.33 631.51,550.31 632.05,550.29 632.59,550.27 633.13,550.25 633.66,550.22 634.20,550.20 634.73,550.18 635.26,550.16 635.79,550.13 636.32,550.11 636.86,550.09 637.39,550.06 637.92,550.04 638.46,550.02 639.00,550.00" fill="none" stroke="#b8960c" stroke-width="2.0" stroke-linejoin="round" />
<g fill="#fff" stroke="#b8960c" stroke-width="1.5"><circle cx="385.90" cy="489.50" r="1.35"/><circle cx="390.05" cy="491.97" r="1.35"/><circle cx="394.20" cy="494.46" r="1.35"/><circle cx="398.35" cy="497.10" r="1.35"/><circle cx="402.50" cy="499.82" r="1.35"/><circle cx="406.65" cy="502.32" r="1.35"/><circle cx="410.80" cy="504.35" r="1.35"/><circle cx="414.95" cy="506.13" r="1.35"/><circle cx="419.10" cy="507.89" r="1.35"/><circle cx="423.25" cy="509.73" r="1.35"/><circle cx="427.40" cy="511.48" r="1.35"/><circle cx="431.55" cy="513.06" r="1.35"/><circle cx="435.70" cy="514.49" r="1.35"/><circle cx="439.85" cy="515.73" r="1.35"/><circle cx="444.00" cy="516.70" r="1.35"/><circle cx="448.15" cy="517.42" r="1.35"/><circle cx="452.30" cy="518.00" r="1.35"/><circle cx="456.45" cy="518.41" r="1.35"/><circle cx="460.60" cy="518.68" r="1.35"/><circle cx="464.75" cy="518.98" r="1.35"/><circle cx="468.90" cy="519.27" r="1.35"/><circle cx="473.05" cy="519.60" r="1.35"/><circle cx="477.20" cy="520.04" r="1.35"/><circle cx="481.35" cy="520.57" r="1.35"/><circle cx="485.50" cy="521.22" r="1.35"/><circle cx="489.65" cy="521.98" r="1.35"/><circle cx="493.80" cy="522.85" r="1.35"/><circle cx="497.95" cy="524.02" r="1.35"/><circle cx="502.10" cy="525.67" r="1.35"/><circle cx="506.25" cy="527.62" r="1.35"/><circle cx="510.40" cy="529.55" r="1.35"/><circle cx="514.55" cy="531.51" r="1.35"/><circle cx="518.70" cy="533.45" r="1.35"/><circle cx="522.85" cy="535.23" r="1.35"/><circle cx="527.00" cy="536.80" r="1.35"/><circle cx="531.15" cy="538.25" r="1.35"/><circle cx="535.30" cy="539.63" r="1.35"/><circle cx="539.45" cy="540.94" r="1.35"/><circle cx="543.60" cy="542.17" r="1.35"/><circle cx="547.75" cy="543.31" r="1.35"/><circle cx="551.90" cy="544.39" r="1.35"/><circle cx="556.05" cy="545.34" r="1.35"/><circle cx="560.20" cy="546.13" r="1.35"/><circle cx="564.35" cy="546.77" r="1.35"/><circle cx="568.50" cy="547.32" r="1.35"/><circle cx="572.65" cy="547.81" r="1.35"/><circle cx="576.80" cy="548.23" r="1.35"/><circle cx="580.95" cy="548.60" r="1.35"/><circle cx="585.10" cy="548.91" r="1.35"/><circle cx="589.25" cy="549.19" r="1.35"/><circle cx="593.40" cy="549.44" r="1.35"/><circle cx="597.55" cy="549.67" r="1.35"/><circle cx="601.70" cy="549.87" r="1.35"/><circle cx="605.85" cy="550.05" r="1.35"/><circle cx="610.00" cy="550.22" r="1.35"/><circle cx="614.15" cy="550.35" r="1.35"/><circle cx="618.30" cy="550.43" r="1.35"/><circle cx="622.45" cy="550.45" r="1.35"/><circle cx="626.60" cy="550.42" r="1.35"/><circle cx="630.75" cy="550.34" r="1.35"/><circle cx="634.90" cy="550.17" r="1.35"/></g>
</g>
<g clip-path="url(#cd)">
<polyline points="385.90,507.50 386.75,507.59 387.60,507.69 388.45,507.78 389.29,507.86 390.13,507.95 390.97,508.04 391.81,508.13 392.65,508.21 393.49,508.30 394.33,508.39 395.18,508.48 396.02,508.57 396.87,508.66 397.73,508.76 398.59,508.85 399.46,508.96 400.33,509.06 401.21,509.17 402.10,509.28 403.00,509.40 403.91,509.52 404.82,509.65 405.75,509.78 406.68,509.92 407.62,510.06 408.56,510.20 409.51,510.35 410.47,510.49 411.43,510.64 412.39,510.79 413.35,510.95 414.32,511.10 415.28,511.25 416.25,511.41 417.21,511.56 418.18,511.71 419.14,511.86 420.10,512.01 421.05,512.16 422.00,512.30 422.95,512.44 423.89,512.59 424.84,512.73 425.78,512.88 426.73,513.03 427.67,513.18 428.62,513.32 429.56,513.47 430.51,513.62 431.45,513.76 432.39,513.91 433.34,514.05 434.28,514.19 435.23,514.33 436.17,514.47 437.12,514.60 438.06,514.73 439.01,514.86 439.95,514.98 440.90,515.10 441.85,515.22 442.80,515.33 443.74,515.45 444.69,515.56 445.64,515.67 446.59,515.78 447.54,515.88 448.49,515.99 449.44,516.09 450.39,516.19 451.34,516.28 452.30,516.38 453.25,516.47 454.20,516.55 455.15,516.64 456.10,516.72 457.05,516.79 458.00,516.87 458.95,516.94 459.90,517.00 460.85,517.06 461.80,517.12 462.75,517.17 463.70,517.22 464.65,517.27 465.60,517.31 466.55,517.35 467.50,517.39 468.45,517.43 469.40,517.46 470.35,517.48 471.30,517.51 472.25,517.53 473.20,517.55 474.15,517.56 475.10,517.58 476.05,517.59 477.00,517.59 477.95,517.60 478.90,517.60 479.86,517.60 480.83,517.59 481.82,517.57 482.81,517.56 483.81,517.53 484.82,517.51 485.82,517.47 486.83,517.44 487.83,517.41 488.83,517.37 489.82,517.33 490.80,517.29 491.76,517.25 492.71,517.21 493.64,517.17 494.54,517.13 495.42,517.10 496.28,517.06 497.11,517.03 497.90,517.00 498.66,516.97 499.39,516.94 500.09,516.91 500.77,516.88 501.42,516.84 502.05,516.81 502.66,516.78 503.25,516.74 503.83,516.71 504.40,516.68 504.96,516.65 505.51,516.62 506.06,516.60 506.61,516.57 507.16,516.55 507.71,516.53 508.27,516.52 508.83,516.51 509.41,516.50 510.00,516.50 510.60,516.50 511.19,516.51 511.79,516.51 512.38,516.52 512.97,516.53 513.56,516.55 514.15,516.57 514.74,516.58 515.32,516.61 515.91,516.63 516.50,516.66 517.09,516.69 517.67,516.72 518.26,516.75 518.85,516.79 519.44,516.83 520.03,516.87 520.62,516.91 521.21,516.95 521.80,517.00 522.39,517.05 522.99,517.10 523.58,517.15 524.18,517.20 524.77,517.25 525.37,517.30 525.96,517.36 526.56,517.42 527.15,517.48 527.75,517.54 528.35,517.61 528.94,517.68 529.54,517.76 530.13,517.83 530.73,517.92 531.32,518.00 531.92,518.09 532.51,518.19 533.11,518.29 533.70,518.40 534.29,518.51 534.88,518.63 535.48,518.75 536.07,518.88 536.66,519.01 537.25,519.14 537.84,519.28 538.43,519.42 539.02,519.57 539.61,519.72 540.20,519.87 540.78,520.03 541.37,520.19 541.96,520.35 542.55,520.52 543.14,520.69 543.73,520.86 544.32,521.04 544.91,521.22 545.50,521.40 546.09,521.59 546.68,521.78 547.27,521.97 547.86,522.17 548.45,522.38 549.04,522.59 549.63,522.80 550.22,523.01 550.81,523.23 551.40,523.45 551.99,523.67 552.58,523.90 553.17,524.12 553.76,524.35 554.35,524.57 554.94,524.80 555.53,525.03 556.12,525.25 556.71,525.48 557.30,525.70 557.89,525.92 558.48,526.15 559.07,526.37 559.66,526.60 560.25,526.83 560.84,527.06 561.43,527.29 562.02,527.52 562.60,527.76 563.19,527.99 563.78,528.22 564.37,528.45 564.96,528.69 565.55,528.92 566.14,529.15 566.73,529.38 567.32,529.61 567.92,529.84 568.51,530.07 569.10,530.30 569.69,530.53 570.29,530.76 570.88,530.99 571.48,531.22 572.07,531.45 572.67,531.68 573.26,531.91 573.86,532.14 574.45,532.37 575.05,532.59 575.65,532.82 576.24,533.05 576.84,533.27 577.43,533.50 578.03,533.72 578.62,533.94 579.22,534.16 579.81,534.37 580.41,534.59 581.00,534.80 581.59,535.01 582.18,535.22 582.78,535.42 583.37,535.63 583.96,535.83 584.55,536.03 585.14,536.23 585.73,536.43 586.32,536.62 586.91,536.82 587.50,537.01 588.08,537.20 588.67,537.40 589.26,537.59 589.85,537.77 590.44,537.96 591.03,538.15 591.62,538.33 592.21,538.52 592.80,538.70 593.39,538.88 593.98,539.06 594.57,539.25 595.16,539.43 595.75,539.61 596.34,539.79 596.93,539.96 597.52,540.14 598.11,540.31 598.70,540.49 599.29,540.66 599.88,540.83 600.47,541.00 601.06,541.16 601.65,541.33 602.24,541.49 602.83,541.64 603.42,541.80 604.01,541.95 604.60,542.10 605.19,542.25 605.78,542.39 606.37,542.53 606.96,542.68 607.55,542.81 608.14,542.95 608.73,543.09 609.32,543.22 609.91,543.35 610.50,543.48 611.09,543.60 611.68,543.72 612.27,543.84 612.86,543.96 613.45,544.07 614.04,544.18 614.63,544.29 615.22,544.40 615.81,544.50 616.40,544.60 616.99,544.70 617.58,544.79 618.18,544.87 618.78,544.96 619.37,545.04 619.97,545.11 620.57,545.19 621.17,545.26 621.77,545.33 622.36,545.39 622.96,545.46 623.55,545.52 624.14,545.58 624.73,545.64 625.32,545.70 625.90,545.76 626.48,545.82 627.06,545.88 627.63,545.94 628.20,546.00 628.76,546.06 629.32,546.12 629.87,546.17 630.42,546.23 630.97,546.28 631.51,546.33 632.05,546.38 632.59,546.43 633.13,546.48 633.66,546.52 634.20,546.57 634.73,546.62 635.26,546.67 635.79,546.71 636.32,546.76 636.86,546.81 637.39,546.85 637.92,546.90 638.46,546.95 639.00,547.00" fill="none" stroke="#3f86d6" stroke-width="2.0" stroke-linejoin="round" />
<g fill="#fff" stroke="#3f86d6" stroke-width="1.5"><circle cx="385.90" cy="507.50" r="1.35"/><circle cx="390.05" cy="507.94" r="1.35"/><circle cx="394.20" cy="508.37" r="1.35"/><circle cx="398.35" cy="508.83" r="1.35"/><circle cx="402.50" cy="509.33" r="1.35"/><circle cx="406.65" cy="509.91" r="1.35"/><circle cx="410.80" cy="510.54" r="1.35"/><circle cx="414.95" cy="511.20" r="1.35"/><circle cx="419.10" cy="511.86" r="1.35"/><circle cx="423.25" cy="512.49" r="1.35"/><circle cx="427.40" cy="513.13" r="1.35"/><circle cx="431.55" cy="513.78" r="1.35"/><circle cx="435.70" cy="514.40" r="1.35"/><circle cx="439.85" cy="514.97" r="1.35"/><circle cx="444.00" cy="515.48" r="1.35"/><circle cx="448.15" cy="515.95" r="1.35"/><circle cx="452.30" cy="516.38" r="1.35"/><circle cx="456.45" cy="516.75" r="1.35"/><circle cx="460.60" cy="517.04" r="1.35"/><circle cx="464.75" cy="517.27" r="1.35"/><circle cx="468.90" cy="517.44" r="1.35"/><circle cx="473.05" cy="517.55" r="1.35"/><circle cx="477.20" cy="517.60" r="1.35"/><circle cx="481.35" cy="517.58" r="1.35"/><circle cx="485.50" cy="517.48" r="1.35"/><circle cx="489.65" cy="517.34" r="1.35"/><circle cx="493.80" cy="517.16" r="1.35"/><circle cx="497.95" cy="517.00" r="1.35"/><circle cx="502.10" cy="516.81" r="1.35"/><circle cx="506.25" cy="516.59" r="1.35"/><circle cx="510.40" cy="516.50" r="1.35"/><circle cx="514.55" cy="516.58" r="1.35"/><circle cx="518.70" cy="516.78" r="1.35"/><circle cx="522.85" cy="517.09" r="1.35"/><circle cx="527.00" cy="517.46" r="1.35"/><circle cx="531.15" cy="517.98" r="1.35"/><circle cx="535.30" cy="518.71" r="1.35"/><circle cx="539.45" cy="519.68" r="1.35"/><circle cx="543.60" cy="520.83" r="1.35"/><circle cx="547.75" cy="522.13" r="1.35"/><circle cx="551.90" cy="523.64" r="1.35"/><circle cx="556.05" cy="525.23" r="1.35"/><circle cx="560.20" cy="526.81" r="1.35"/><circle cx="564.35" cy="528.44" r="1.35"/><circle cx="568.50" cy="530.07" r="1.35"/><circle cx="572.65" cy="531.67" r="1.35"/><circle cx="576.80" cy="533.26" r="1.35"/><circle cx="580.95" cy="534.78" r="1.35"/><circle cx="585.10" cy="536.22" r="1.35"/><circle cx="589.25" cy="537.58" r="1.35"/><circle cx="593.40" cy="538.89" r="1.35"/><circle cx="597.55" cy="540.15" r="1.35"/><circle cx="601.70" cy="541.34" r="1.35"/><circle cx="605.85" cy="542.41" r="1.35"/><circle cx="610.00" cy="543.37" r="1.35"/><circle cx="614.15" cy="544.21" r="1.35"/><circle cx="618.30" cy="544.89" r="1.35"/><circle cx="622.45" cy="545.40" r="1.35"/><circle cx="626.60" cy="545.83" r="1.35"/><circle cx="630.75" cy="546.26" r="1.35"/><circle cx="634.90" cy="546.63" r="1.35"/></g>
</g>
<g clip-path="url(#cd)">
<polyline points="385.90,525.00 386.37,525.05 386.84,525.09 387.31,525.14 387.77,525.18 388.23,525.22 388.69,525.26 389.15,525.29 389.61,525.33 390.07,525.37 390.53,525.41 391.00,525.45 391.46,525.50 391.93,525.55 392.41,525.60 392.89,525.65 393.38,525.71 393.87,525.77 394.37,525.84 394.88,525.92 395.40,526.00 395.93,526.09 396.46,526.18 397.01,526.28 397.56,526.38 398.12,526.49 398.68,526.60 399.25,526.72 399.82,526.84 400.40,526.96 400.98,527.09 401.56,527.21 402.15,527.34 402.73,527.47 403.32,527.61 403.91,527.74 404.49,527.87 405.07,528.00 405.65,528.14 406.23,528.27 406.80,528.40 407.37,528.53 407.94,528.67 408.51,528.81 409.08,528.95 409.65,529.09 410.22,529.24 410.79,529.39 411.36,529.53 411.94,529.68 412.51,529.83 413.08,529.98 413.65,530.13 414.22,530.27 414.79,530.41 415.36,530.55 415.93,530.69 416.50,530.82 417.06,530.95 417.63,531.08 418.20,531.20 418.77,531.32 419.33,531.43 419.90,531.54 420.46,531.65 421.03,531.76 421.59,531.86 422.16,531.97 422.72,532.07 423.29,532.17 423.85,532.26 424.41,532.36 424.98,532.45 425.54,532.54 426.11,532.62 426.67,532.71 427.24,532.79 427.80,532.87 428.37,532.95 428.93,533.03 429.50,533.10 430.06,533.17 430.60,533.24 431.13,533.30 431.65,533.37 432.16,533.43 432.67,533.49 433.18,533.54 433.69,533.59 434.20,533.64 434.72,533.69 435.25,533.74 435.79,533.79 436.34,533.83 436.92,533.87 437.51,533.91 438.13,533.95 438.78,533.99 439.45,534.03 440.16,534.06 440.90,534.10 441.68,534.13 442.49,534.17 443.34,534.20 444.21,534.22 445.12,534.25 446.04,534.28 446.99,534.30 447.95,534.32 448.93,534.34 449.92,534.36 450.93,534.38 451.94,534.40 452.95,534.41 453.96,534.43 454.97,534.44 455.98,534.46 456.98,534.47 457.97,534.48 458.94,534.49 459.90,534.50 460.85,534.51 461.80,534.51 462.75,534.52 463.70,534.52 464.65,534.52 465.60,534.51 466.55,534.51 467.50,534.50 468.45,534.50 469.40,534.49 470.35,534.49 471.30,534.48 472.25,534.48 473.20,534.48 474.15,534.47 475.10,534.47 476.05,534.48 477.00,534.48 477.95,534.49 478.90,534.50 479.86,534.51 480.83,534.52 481.82,534.53 482.81,534.54 483.81,534.55 484.82,534.56 485.82,534.57 486.83,534.58 487.83,534.60 488.83,534.61 489.82,534.63 490.80,534.65 491.76,534.68 492.71,534.71 493.64,534.74 494.54,534.78 495.42,534.83 496.28,534.88 497.11,534.94 497.90,535.00 498.66,535.07 499.39,535.15 500.09,535.24 500.77,535.33 501.42,535.43 502.05,535.53 502.66,535.64 503.25,535.75 503.83,535.87 504.40,535.99 504.96,536.11 505.51,536.23 506.06,536.35 506.61,536.48 507.16,536.60 507.71,536.73 508.27,536.85 508.83,536.97 509.41,537.09 510.00,537.20 510.60,537.31 511.19,537.43 511.79,537.55 512.38,537.66 512.97,537.78 513.56,537.90 514.15,538.03 514.74,538.15 515.32,538.27 515.91,538.39 516.50,538.51 517.09,538.63 517.67,538.74 518.26,538.86 518.85,538.97 519.44,539.08 520.03,539.19 520.62,539.30 521.21,539.40 521.80,539.50 522.39,539.60 522.99,539.69 523.58,539.78 524.18,539.87 524.77,539.96 525.37,540.04 525.96,540.13 526.56,540.21 527.15,540.29 527.75,540.37 528.35,540.45 528.94,540.52 529.54,540.60 530.13,540.67 530.73,540.74 531.32,540.82 531.92,540.89 532.51,540.96 533.11,541.03 533.70,541.10 534.29,541.17 534.88,541.24 535.48,541.31 536.07,541.37 536.66,541.44 537.25,541.50 537.84,541.57 538.43,541.63 539.02,541.69 539.61,541.75 540.20,541.81 540.78,541.87 541.37,541.93 541.96,541.98 542.55,542.04 543.14,542.09 543.73,542.15 544.32,542.20 544.91,542.25 545.50,542.30 546.09,542.35 546.68,542.40 547.27,542.45 547.86,542.50 548.45,542.55 549.04,542.59 549.63,542.64 550.22,542.69 550.81,542.73 551.40,542.77 551.99,542.82 552.58,542.86 553.17,542.90 553.76,542.93 554.35,542.97 554.94,543.00 555.53,543.03 556.12,543.05 556.71,543.08 557.30,543.10 557.89,543.12 558.48,543.13 559.07,543.14 559.66,543.15 560.25,543.16 560.84,543.16 561.43,543.16 562.02,543.16 562.60,543.15 563.19,543.15 563.78,543.14 564.37,543.14 564.96,543.13 565.55,543.13 566.14,543.12 566.73,543.11 567.32,543.11 567.92,543.10 568.51,543.10 569.10,543.10 569.69,543.10 570.29,543.10 570.88,543.10 571.48,543.09 572.07,543.09 572.67,543.09 573.26,543.08 573.86,543.08 574.45,543.08 575.05,543.08 575.65,543.07 576.24,543.07 576.84,543.07 577.43,543.07 578.03,543.07 578.62,543.07 579.22,543.08 579.81,543.08 580.41,543.09 581.00,543.10 581.59,543.11 582.18,543.12 582.78,543.13 583.37,543.14 583.96,543.16 584.55,543.17 585.14,543.18 585.73,543.20 586.32,543.21 586.91,543.23 587.50,543.25 588.08,543.27 588.67,543.29 589.26,543.32 589.85,543.34 590.44,543.37 591.03,543.40 591.62,543.43 592.21,543.46 592.80,543.50 593.39,543.54 593.98,543.58 594.57,543.62 595.16,543.67 595.75,543.72 596.34,543.77 596.93,543.82 597.52,543.88 598.11,543.93 598.70,543.99 599.29,544.05 599.88,544.10 600.47,544.16 601.06,544.23 601.65,544.29 602.24,544.35 602.83,544.41 603.42,544.47 604.01,544.54 604.60,544.60 605.19,544.66 605.78,544.73 606.37,544.79 606.96,544.86 607.55,544.93 608.14,545.00 608.73,545.07 609.32,545.14 609.91,545.21 610.50,545.28 611.09,545.35 611.68,545.43 612.27,545.50 612.86,545.57 613.45,545.64 614.04,545.72 614.63,545.79 615.22,545.86 615.81,545.93 616.40,546.00 616.99,546.07 617.58,546.14 618.18,546.21 618.78,546.28 619.37,546.35 619.97,546.41 620.57,546.48 621.17,546.55 621.77,546.62 622.36,546.69 622.96,546.76 623.55,546.83 624.14,546.90 624.73,546.97 625.32,547.04 625.90,547.11 626.48,547.18 627.06,547.25 627.63,547.33 628.20,547.40 628.76,547.48 629.32,547.55 629.87,547.63 630.42,547.71 630.97,547.79 631.51,547.87 632.05,547.95 632.59,548.03 633.13,548.11 633.66,548.19 634.20,548.27 634.73,548.35 635.26,548.43 635.79,548.51 636.32,548.60 636.86,548.68 637.39,548.76 637.92,548.84 638.46,548.92 639.00,549.00" fill="none" stroke="#404040" stroke-width="2.0" stroke-linejoin="round" />
<g fill="#fff" stroke="#404040" stroke-width="1.5"><circle cx="385.90" cy="525.00" r="1.35"/><circle cx="390.05" cy="525.37" r="1.35"/><circle cx="394.20" cy="525.82" r="1.35"/><circle cx="398.35" cy="526.54" r="1.35"/><circle cx="402.50" cy="527.42" r="1.35"/><circle cx="406.65" cy="528.37" r="1.35"/><circle cx="410.80" cy="529.39" r="1.35"/><circle cx="414.95" cy="530.45" r="1.35"/><circle cx="419.10" cy="531.38" r="1.35"/><circle cx="423.25" cy="532.16" r="1.35"/><circle cx="427.40" cy="532.82" r="1.35"/><circle cx="431.55" cy="533.35" r="1.35"/><circle cx="435.70" cy="533.78" r="1.35"/><circle cx="439.85" cy="534.05" r="1.35"/><circle cx="444.00" cy="534.22" r="1.35"/><circle cx="448.15" cy="534.33" r="1.35"/><circle cx="452.30" cy="534.40" r="1.35"/><circle cx="456.45" cy="534.46" r="1.35"/><circle cx="460.60" cy="534.51" r="1.35"/><circle cx="464.75" cy="534.52" r="1.35"/><circle cx="468.90" cy="534.50" r="1.35"/><circle cx="473.05" cy="534.48" r="1.35"/><circle cx="477.20" cy="534.48" r="1.35"/><circle cx="481.35" cy="534.53" r="1.35"/><circle cx="485.50" cy="534.57" r="1.35"/><circle cx="489.65" cy="534.63" r="1.35"/><circle cx="493.80" cy="534.75" r="1.35"/><circle cx="497.95" cy="535.00" r="1.35"/><circle cx="502.10" cy="535.54" r="1.35"/><circle cx="506.25" cy="536.40" r="1.35"/><circle cx="510.40" cy="537.28" r="1.35"/><circle cx="514.55" cy="538.11" r="1.35"/><circle cx="518.70" cy="538.94" r="1.35"/><circle cx="522.85" cy="539.67" r="1.35"/><circle cx="527.00" cy="540.27" r="1.35"/><circle cx="531.15" cy="540.80" r="1.35"/><circle cx="535.30" cy="541.29" r="1.35"/><circle cx="539.45" cy="541.73" r="1.35"/><circle cx="543.60" cy="542.13" r="1.35"/><circle cx="547.75" cy="542.49" r="1.35"/><circle cx="551.90" cy="542.81" r="1.35"/><circle cx="556.05" cy="543.05" r="1.35"/><circle cx="560.20" cy="543.16" r="1.35"/><circle cx="564.35" cy="543.14" r="1.35"/><circle cx="568.50" cy="543.10" r="1.35"/><circle cx="572.65" cy="543.09" r="1.35"/><circle cx="576.80" cy="543.07" r="1.35"/><circle cx="580.95" cy="543.10" r="1.35"/><circle cx="585.10" cy="543.18" r="1.35"/><circle cx="589.25" cy="543.32" r="1.35"/><circle cx="593.40" cy="543.54" r="1.35"/><circle cx="597.55" cy="543.88" r="1.35"/><circle cx="601.70" cy="544.29" r="1.35"/><circle cx="605.85" cy="544.74" r="1.35"/><circle cx="610.00" cy="545.22" r="1.35"/><circle cx="614.15" cy="545.73" r="1.35"/><circle cx="618.30" cy="546.22" r="1.35"/><circle cx="622.45" cy="546.70" r="1.35"/><circle cx="626.60" cy="547.19" r="1.35"/><circle cx="630.75" cy="547.75" r="1.35"/><circle cx="634.90" cy="548.38" r="1.35"/></g>
</g>
<rect x="386.0" y="322.9" width="253.29999999999995" height="233.0" fill="none" stroke="#000" stroke-width="1.8"/>
<line x1="381.50" y1="553.00" x2="386.00" y2="553.00" stroke="#000" stroke-width="1.6" />
<text x="380.00" y="557.60" font-size="14.2" text-anchor="end" fill="#000" transform="translate(380.00 557.60) scale(1 1.035) translate(-380.00 -557.60)" >0</text>
<line x1="381.50" y1="495.48" x2="386.00" y2="495.48" stroke="#000" stroke-width="1.6" />
<text x="380.00" y="500.08" font-size="14.2" text-anchor="end" fill="#000" transform="translate(380.00 500.08) scale(1 1.035) translate(-380.00 -500.08)" >10</text>
<line x1="381.50" y1="437.95" x2="386.00" y2="437.95" stroke="#000" stroke-width="1.6" />
<text x="380.00" y="442.55" font-size="14.2" text-anchor="end" fill="#000" transform="translate(380.00 442.55) scale(1 1.035) translate(-380.00 -442.55)" >20</text>
<line x1="381.50" y1="380.42" x2="386.00" y2="380.42" stroke="#000" stroke-width="1.6" />
<text x="380.00" y="385.02" font-size="14.2" text-anchor="end" fill="#000" transform="translate(380.00 385.02) scale(1 1.035) translate(-380.00 -385.02)" >30</text>
<line x1="381.50" y1="322.90" x2="386.00" y2="322.90" stroke="#000" stroke-width="1.6" />
<text x="380.00" y="327.50" font-size="14.2" text-anchor="end" fill="#000" transform="translate(380.00 327.50) scale(1 1.035) translate(-380.00 -327.50)" >40</text>
<line x1="383.40" y1="524.24" x2="386.00" y2="524.24" stroke="#000" stroke-width="1.6" />
<line x1="383.40" y1="466.71" x2="386.00" y2="466.71" stroke="#000" stroke-width="1.6" />
<line x1="383.40" y1="409.19" x2="386.00" y2="409.19" stroke="#000" stroke-width="1.6" />
<line x1="383.40" y1="351.66" x2="386.00" y2="351.66" stroke="#000" stroke-width="1.6" />
<line x1="639.30" y1="555.90" x2="643.80" y2="555.90" stroke="#000" stroke-width="1.6" />
<text x="645.40" y="560.60" font-size="14.4" text-anchor="start" fill="#000" transform="translate(645.40 560.60) scale(1 1.035) translate(-645.40 -560.60)" >3.0</text>
<line x1="639.30" y1="449.95" x2="643.80" y2="449.95" stroke="#000" stroke-width="1.6" />
<text x="645.40" y="454.65" font-size="14.4" text-anchor="start" fill="#000" transform="translate(645.40 454.65) scale(1 1.035) translate(-645.40 -454.65)" >3.5</text>
<line x1="639.30" y1="344.00" x2="643.80" y2="344.00" stroke="#000" stroke-width="1.6" />
<text x="645.40" y="348.70" font-size="14.4" text-anchor="start" fill="#000" transform="translate(645.40 348.70) scale(1 1.035) translate(-645.40 -348.70)" >4.0</text>
<line x1="639.30" y1="502.92" x2="641.90" y2="502.92" stroke="#000" stroke-width="1.6" />
<line x1="639.30" y1="396.97" x2="641.90" y2="396.97" stroke="#000" stroke-width="1.6" />
<line x1="386.00" y1="555.90" x2="386.00" y2="560.40" stroke="#000" stroke-width="1.6" />
<text x="386.00" y="574.60" font-size="14" text-anchor="middle" fill="#000" transform="translate(386.00 574.60) scale(1 1.035) translate(-386.00 -574.60)" >0.2</text>
<line x1="470.44" y1="555.90" x2="470.44" y2="560.40" stroke="#000" stroke-width="1.6" />
<text x="470.44" y="574.60" font-size="14" text-anchor="middle" fill="#000" transform="translate(470.44 574.60) scale(1 1.035) translate(-470.44 -574.60)" >0.4</text>
<line x1="554.88" y1="555.90" x2="554.88" y2="560.40" stroke="#000" stroke-width="1.6" />
<text x="554.88" y="574.60" font-size="14" text-anchor="middle" fill="#000" transform="translate(554.88 574.60) scale(1 1.035) translate(-554.88 -574.60)" >0.6</text>
<line x1="639.32" y1="555.90" x2="639.32" y2="560.40" stroke="#000" stroke-width="1.6" />
<text x="639.32" y="574.60" font-size="14" text-anchor="middle" fill="#000" transform="translate(639.32 574.60) scale(1 1.035) translate(-639.32 -574.60)" >0.8</text>
<line x1="428.22" y1="555.90" x2="428.22" y2="558.50" stroke="#000" stroke-width="1.6" />
<line x1="512.66" y1="555.90" x2="512.66" y2="558.50" stroke="#000" stroke-width="1.6" />
<line x1="597.10" y1="555.90" x2="597.10" y2="558.50" stroke="#000" stroke-width="1.6" />
<text x="512.30" y="589.00" font-size="16.6" text-anchor="middle" fill="#000" transform="translate(512.30 589.00) scale(1 1.035) translate(-512.30 -589.00)" >Potential (V vs. RHE)</text>
<text x="358.00" y="429.30" font-size="16.5" text-anchor="middle" fill="#000" transform="rotate(-90 358.00 429.30) translate(358.00 429.30) scale(1 1.035) translate(-358.00 -429.30)" >Peroxide (%)</text>
<text x="670.00" y="439.40" font-size="16.4" text-anchor="middle" fill="#000" transform="rotate(90 670.00 439.40) translate(670.00 439.40) scale(1 1.035) translate(-670.00 -439.40)" >Number of electron transfer (n)</text>
<line x1="457.20" y1="405.30" x2="491.60" y2="405.30" stroke="#e8676c" stroke-width="2.2" />
<circle cx="474.40" cy="405.30" r="1.5" fill="#fff" stroke="#e8676c" stroke-width="1"/>
<line x1="457.20" y1="429.40" x2="491.60" y2="429.40" stroke="#3f86d6" stroke-width="2.2" />
<circle cx="474.40" cy="429.40" r="1.5" fill="#fff" stroke="#3f86d6" stroke-width="1"/>
<line x1="457.20" y1="448.00" x2="491.60" y2="448.00" stroke="#b8960c" stroke-width="2.2" />
<circle cx="474.40" cy="448.00" r="1.5" fill="#fff" stroke="#b8960c" stroke-width="1"/>
<line x1="457.20" y1="466.60" x2="491.60" y2="466.60" stroke="#404040" stroke-width="2.2" />
<circle cx="474.40" cy="466.60" r="1.5" fill="#fff" stroke="#404040" stroke-width="1"/>
<text x="499.80" y="410.40" font-size="15.2" text-anchor="start" fill="#000" transform="translate(499.80 410.40) scale(1 1.035) translate(-499.80 -410.40)" >SiO<tspan font-size="10.5" dy="5.2">2</tspan><tspan dy="-5.2">/FeNSiC</tspan></text>
<text x="499.80" y="434.50" font-size="15.2" text-anchor="start" fill="#000" transform="translate(499.80 434.50) scale(1 1.035) translate(-499.80 -434.50)" >FeNSiC</text>
<text x="499.80" y="453.20" font-size="15.2" text-anchor="start" fill="#000" transform="translate(499.80 453.20) scale(1 1.035) translate(-499.80 -453.20)" >FeNC</text>
<text x="499.80" y="471.70" font-size="15.2" text-anchor="start" fill="#000" transform="translate(499.80 471.70) scale(1 1.035) translate(-499.80 -471.70)" >Pt/C</text>
<polyline points="408.90,483.60 408.90,472.20 394.85,472.20" fill="none" stroke="#806a10" stroke-width="1.4" stroke-linejoin="miter"/>
<polygon points="388.90,471.50 395.90,470.00 395.90,474.40 388.90,472.90" fill="#806a10"/>
<polyline points="615.50,357.30 615.50,368.30 629.65,368.30" fill="none" stroke="#806a10" stroke-width="1.4" stroke-linejoin="miter"/>
<polygon points="635.60,367.60 628.60,366.10 628.60,370.50 635.60,369.00" fill="#806a10"/>
<text x="342.20" y="314.30" font-size="21" text-anchor="start" fill="#000" transform="translate(342.20 314.30) scale(1 1.035) translate(-342.20 -314.30)" >d</text>
</svg>
</body></html>
